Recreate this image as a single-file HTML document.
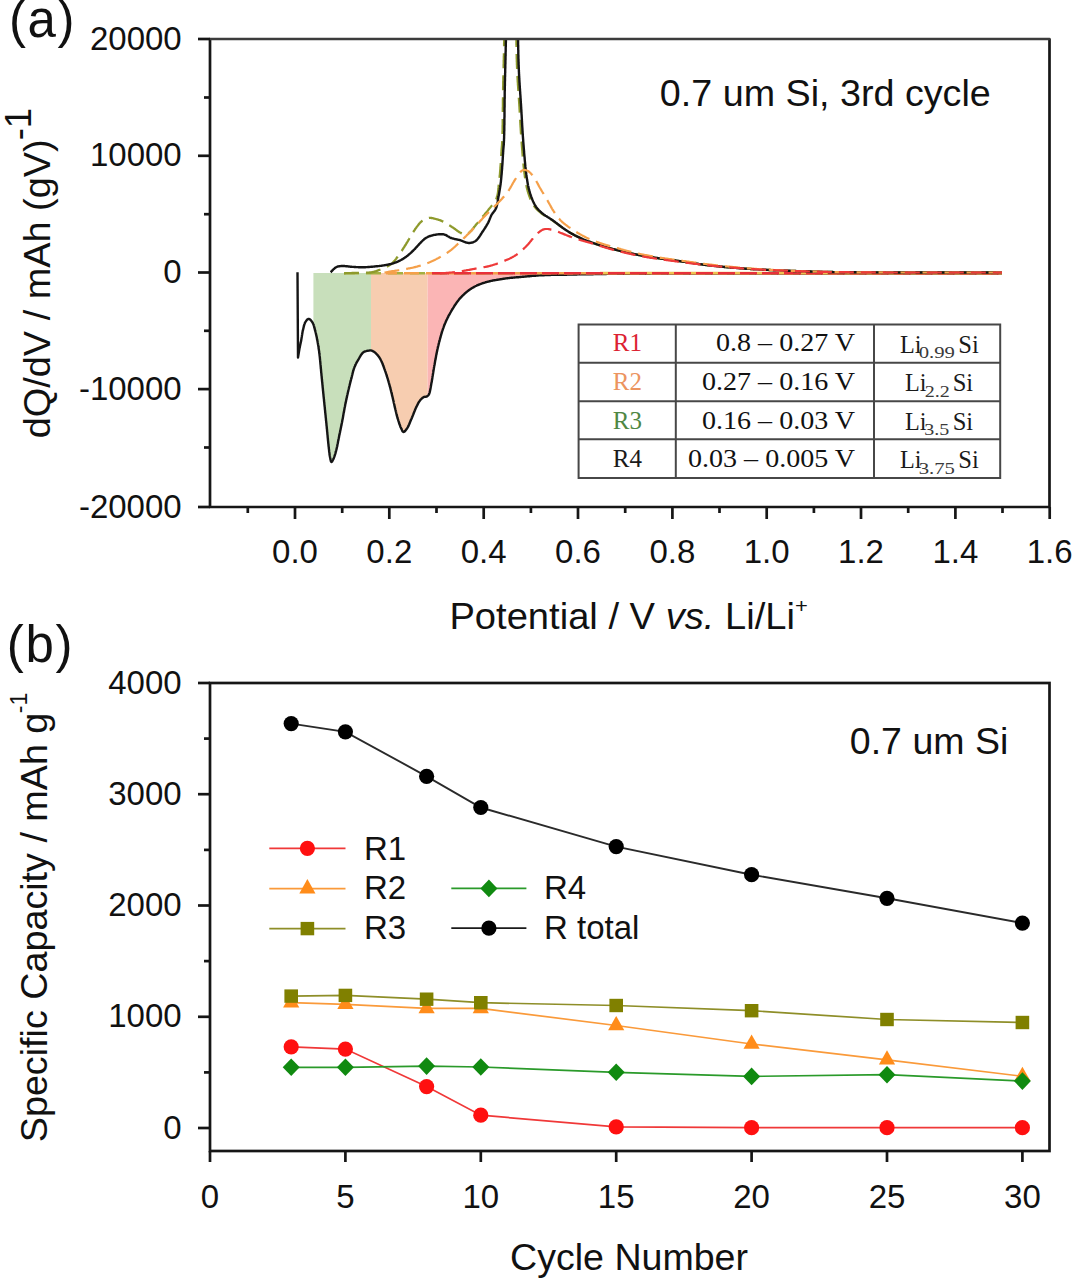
<!DOCTYPE html><html><head><meta charset="utf-8"><style>html,body{margin:0;padding:0;background:#fff;overflow:hidden;width:1072px;height:1280px;}svg{display:block;}</style></head><body><svg width="1072" height="1280" viewBox="0 0 1072 1280">
<rect width="1072" height="1280" fill="#fff"/>
<defs><clipPath id="ca"><rect x="210" y="39" width="839.5" height="468"/></clipPath><clipPath id="cb"><rect x="210" y="683" width="839.5" height="468"/></clipPath></defs>
<g clip-path="url(#ca)">
<path d="M313.4,273.0 L313.4,324.4 L313.5,324.5 L313.7,325.1 L313.8,325.6 L314.0,326.2 L314.2,326.8 L314.3,327.5 L314.5,328.1 L314.7,328.7 L314.8,329.4 L315.0,330.0 L315.1,330.5 L315.3,331.1 L315.4,331.6 L315.6,332.2 L315.7,332.8 L315.9,333.4 L316.0,334.0 L316.1,334.6 L316.3,335.2 L316.4,335.8 L316.5,336.4 L316.7,337.0 L316.8,337.6 L316.9,338.2 L317.0,338.8 L317.1,339.5 L317.3,340.1 L317.4,340.7 L317.5,341.3 L317.6,341.9 L317.7,342.5 L317.8,343.0 L317.9,343.6 L318.0,344.2 L318.1,344.7 L318.2,345.3 L318.3,345.9 L318.4,346.5 L318.5,347.1 L318.6,347.6 L318.6,348.2 L318.7,348.8 L318.8,349.4 L318.9,350.0 L319.0,350.6 L319.1,351.2 L319.2,351.9 L319.2,352.5 L319.3,353.1 L319.4,353.8 L319.5,354.3 L319.5,354.9 L319.6,355.5 L319.7,356.0 L319.7,356.6 L319.8,357.2 L319.9,357.8 L319.9,358.4 L320.0,358.9 L320.0,359.5 L320.1,360.2 L320.2,360.8 L320.2,361.4 L320.3,362.0 L320.3,362.6 L320.4,363.2 L320.4,363.8 L320.5,364.5 L320.6,365.1 L320.6,365.7 L320.7,366.3 L320.7,367.0 L320.8,367.6 L320.8,368.2 L320.9,368.8 L321.0,369.4 L321.0,370.1 L321.1,370.7 L321.1,371.3 L321.2,371.9 L321.2,372.5 L321.3,373.1 L321.4,373.7 L321.4,374.3 L321.5,374.9 L321.5,375.5 L321.6,376.1 L321.7,376.7 L321.7,377.3 L321.8,378.0 L321.8,378.6 L321.9,379.2 L322.0,379.8 L322.0,380.4 L322.1,381.0 L322.1,381.6 L322.2,382.2 L322.3,382.8 L322.3,383.4 L322.4,384.0 L322.4,384.6 L322.5,385.2 L322.6,385.8 L322.6,386.5 L322.7,387.1 L322.7,387.7 L322.8,388.3 L322.9,388.9 L322.9,389.5 L323.0,390.1 L323.0,390.7 L323.1,391.3 L323.2,391.9 L323.2,392.5 L323.3,393.1 L323.3,393.7 L323.4,394.3 L323.5,394.9 L323.5,395.5 L323.6,396.1 L323.6,396.7 L323.7,397.3 L323.8,397.9 L323.8,398.5 L323.9,399.1 L324.0,399.7 L324.0,400.3 L324.1,401.0 L324.1,401.6 L324.2,402.2 L324.3,402.8 L324.3,403.4 L324.4,404.0 L324.4,404.6 L324.5,405.2 L324.6,405.8 L324.6,406.4 L324.7,407.0 L324.8,407.6 L324.8,408.2 L324.9,408.8 L324.9,409.4 L325.0,410.0 L325.1,410.6 L325.1,411.2 L325.2,411.8 L325.2,412.4 L325.3,413.0 L325.4,413.6 L325.4,414.2 L325.5,414.8 L325.6,415.5 L325.6,416.1 L325.7,416.7 L325.7,417.3 L325.8,417.9 L325.9,418.5 L325.9,419.1 L326.0,419.7 L326.0,420.3 L326.1,420.9 L326.2,421.5 L326.2,422.1 L326.3,422.7 L326.4,423.3 L326.4,424.0 L326.5,424.6 L326.5,425.2 L326.6,425.8 L326.7,426.4 L326.7,427.0 L326.8,427.6 L326.8,428.2 L326.9,428.8 L327.0,429.4 L327.0,430.0 L327.1,430.6 L327.1,431.3 L327.2,431.9 L327.3,432.5 L327.3,433.1 L327.4,433.8 L327.4,434.4 L327.5,435.0 L327.6,435.7 L327.6,436.3 L327.7,436.9 L327.7,437.6 L327.8,438.2 L327.9,438.8 L327.9,439.5 L328.0,440.1 L328.0,440.7 L328.1,441.3 L328.2,441.9 L328.2,442.5 L328.3,443.1 L328.3,443.7 L328.4,444.2 L328.5,444.8 L328.5,445.4 L328.6,445.9 L328.6,446.5 L328.7,447.0 L328.8,447.5 L328.8,448.2 L328.9,448.9 L329.0,449.6 L329.1,450.3 L329.1,451.0 L329.2,451.7 L329.3,452.3 L329.4,452.9 L329.5,453.6 L329.5,454.2 L329.6,454.8 L329.7,455.4 L329.8,455.9 L329.9,456.5 L330.0,457.0 L330.1,457.5 L330.3,458.3 L330.4,459.2 L330.6,460.0 L330.8,460.8 L330.9,461.4 L331.2,461.8 L331.4,462.0 L331.7,461.9 L332.1,461.5 L332.5,460.9 L332.8,460.2 L333.2,459.5 L333.4,459.1 L333.6,458.6 L333.8,458.2 L334.0,457.6 L334.2,457.1 L334.4,456.5 L334.6,455.9 L334.8,455.3 L335.0,454.7 L335.2,454.1 L335.4,453.4 L335.6,452.8 L335.7,452.1 L335.9,451.5 L336.1,450.8 L336.2,450.3 L336.4,449.7 L336.5,449.2 L336.6,448.6 L336.8,448.1 L336.9,447.5 L337.0,446.9 L337.2,446.3 L337.3,445.7 L337.4,445.1 L337.5,444.5 L337.6,443.9 L337.8,443.3 L337.9,442.7 L338.0,442.1 L338.1,441.4 L338.2,440.8 L338.4,440.2 L338.5,439.6 L338.6,439.0 L338.7,438.3 L338.9,437.7 L339.0,437.1 L339.1,436.5 L339.2,435.9 L339.3,435.3 L339.5,434.7 L339.6,434.1 L339.7,433.5 L339.8,432.9 L340.0,432.3 L340.1,431.7 L340.2,431.1 L340.3,430.5 L340.5,429.9 L340.6,429.3 L340.7,428.7 L340.8,428.1 L341.0,427.4 L341.1,426.8 L341.2,426.2 L341.3,425.6 L341.5,425.0 L341.6,424.4 L341.7,423.8 L341.8,423.2 L342.0,422.5 L342.1,421.9 L342.2,421.3 L342.3,420.7 L342.4,420.1 L342.5,419.5 L342.7,418.9 L342.8,418.3 L342.9,417.7 L343.0,417.1 L343.1,416.5 L343.2,415.9 L343.3,415.3 L343.4,414.6 L343.5,414.0 L343.6,413.4 L343.7,412.8 L343.9,412.2 L344.0,411.6 L344.1,411.0 L344.2,410.4 L344.3,409.8 L344.4,409.2 L344.5,408.6 L344.6,408.0 L344.7,407.4 L344.9,406.8 L345.0,406.2 L345.1,405.6 L345.2,405.0 L345.3,404.4 L345.4,403.8 L345.6,403.2 L345.7,402.6 L345.8,402.0 L346.0,401.4 L346.1,400.7 L346.2,400.1 L346.3,399.6 L346.5,399.0 L346.6,398.4 L346.7,397.8 L346.9,397.2 L347.0,396.6 L347.1,396.0 L347.2,395.4 L347.4,394.8 L347.5,394.2 L347.6,393.7 L347.8,393.1 L347.9,392.5 L348.0,391.9 L348.2,391.4 L348.3,390.8 L348.4,390.2 L348.6,389.5 L348.7,388.9 L348.9,388.3 L349.0,387.7 L349.2,387.1 L349.3,386.4 L349.5,385.8 L349.6,385.2 L349.8,384.6 L349.9,384.0 L350.1,383.4 L350.2,382.8 L350.4,382.2 L350.5,381.6 L350.7,381.0 L350.8,380.4 L351.0,379.8 L351.1,379.2 L351.3,378.6 L351.5,378.0 L351.6,377.4 L351.8,376.8 L351.9,376.2 L352.1,375.6 L352.2,375.0 L352.4,374.3 L352.5,373.7 L352.7,373.1 L352.8,372.5 L353.0,371.9 L353.1,371.3 L353.3,370.8 L353.5,370.2 L353.6,369.6 L353.8,369.0 L354.0,368.5 L354.2,367.9 L354.4,367.4 L354.6,366.8 L354.9,366.2 L355.1,365.7 L355.4,365.1 L355.6,364.5 L355.9,364.0 L356.2,363.5 L356.4,362.9 L356.7,362.4 L357.0,361.9 L357.3,361.4 L357.6,360.8 L357.9,360.3 L358.2,359.8 L358.5,359.3 L358.8,358.8 L359.1,358.2 L359.5,357.6 L359.8,357.0 L360.1,356.5 L360.5,355.9 L360.8,355.3 L361.2,354.8 L361.6,354.3 L361.9,353.8 L362.3,353.3 L362.7,352.9 L363.1,352.5 L363.5,352.2 L364.1,351.8 L364.7,351.5 L365.4,351.3 L366.1,351.1 L366.7,350.9 L367.4,350.8 L368.0,350.7 L368.6,350.6 L369.3,350.5 L369.9,350.4 L370.5,350.4 L371.0,350.5 L371.0,273.0Z" fill="#c8dfbb"/>
<path d="M371.0,273.0 L371.0,350.5 L371.1,350.5 L371.7,350.6 L372.3,350.8 L372.8,351.1 L373.4,351.4 L374.0,351.8 L374.6,352.2 L375.1,352.7 L375.7,353.2 L376.1,353.6 L376.5,354.0 L376.9,354.4 L377.3,354.8 L377.7,355.3 L378.1,355.8 L378.5,356.2 L378.8,356.8 L379.2,357.3 L379.6,357.8 L379.9,358.4 L380.3,359.0 L380.6,359.5 L380.8,360.0 L381.1,360.5 L381.3,361.0 L381.6,361.5 L381.8,362.1 L382.1,362.6 L382.3,363.2 L382.5,363.8 L382.8,364.4 L383.0,365.0 L383.2,365.6 L383.5,366.2 L383.7,366.8 L383.9,367.4 L384.1,368.0 L384.3,368.7 L384.6,369.3 L384.8,369.9 L385.0,370.5 L385.2,371.1 L385.4,371.6 L385.6,372.2 L385.8,372.8 L386.0,373.4 L386.2,373.9 L386.4,374.5 L386.6,375.1 L386.7,375.7 L386.9,376.3 L387.1,376.9 L387.3,377.5 L387.5,378.1 L387.7,378.7 L387.9,379.3 L388.0,379.9 L388.2,380.5 L388.4,381.1 L388.6,381.7 L388.7,382.3 L388.9,382.9 L389.1,383.5 L389.2,384.1 L389.4,384.7 L389.6,385.3 L389.7,385.9 L389.9,386.5 L390.1,387.1 L390.2,387.7 L390.4,388.3 L390.5,388.9 L390.7,389.5 L390.8,390.1 L391.0,390.7 L391.1,391.3 L391.3,391.9 L391.4,392.5 L391.6,393.1 L391.7,393.7 L391.9,394.3 L392.0,394.9 L392.1,395.5 L392.3,396.0 L392.4,396.6 L392.6,397.2 L392.7,397.8 L392.8,398.4 L393.0,399.0 L393.1,399.7 L393.3,400.3 L393.4,400.9 L393.6,401.5 L393.7,402.2 L393.8,402.8 L394.0,403.4 L394.1,404.0 L394.3,404.7 L394.4,405.3 L394.5,405.9 L394.7,406.5 L394.8,407.1 L394.9,407.7 L395.1,408.3 L395.2,408.9 L395.4,409.4 L395.5,410.0 L395.7,410.7 L395.8,411.3 L396.0,411.9 L396.1,412.5 L396.3,413.2 L396.4,413.8 L396.6,414.4 L396.7,415.0 L396.9,415.6 L397.0,416.2 L397.2,416.8 L397.4,417.4 L397.5,418.0 L397.7,418.6 L397.9,419.2 L398.1,419.8 L398.3,420.4 L398.5,421.1 L398.7,421.7 L398.9,422.3 L399.1,423.0 L399.3,423.6 L399.5,424.3 L399.8,424.9 L400.0,425.5 L400.2,426.1 L400.4,426.7 L400.6,427.2 L400.9,427.8 L401.1,428.2 L401.3,428.7 L401.7,429.4 L402.0,430.2 L402.3,430.9 L402.7,431.4 L403.1,431.8 L403.5,432.0 L403.9,431.9 L404.3,431.7 L404.8,431.3 L405.2,430.9 L405.7,430.3 L406.1,429.7 L406.6,429.1 L407.0,428.5 L407.3,428.1 L407.5,427.6 L407.8,427.2 L408.1,426.7 L408.3,426.2 L408.6,425.6 L408.8,425.1 L409.1,424.5 L409.3,424.0 L409.6,423.4 L409.8,422.8 L410.0,422.2 L410.3,421.6 L410.5,421.0 L410.8,420.4 L411.0,419.8 L411.3,419.2 L411.5,418.7 L411.8,418.1 L412.0,417.6 L412.2,417.0 L412.5,416.4 L412.7,415.9 L412.9,415.3 L413.2,414.7 L413.4,414.1 L413.6,413.5 L413.9,412.9 L414.1,412.3 L414.3,411.7 L414.6,411.1 L414.8,410.6 L415.0,410.0 L415.3,409.4 L415.5,408.9 L415.7,408.4 L415.9,407.9 L416.2,407.4 L416.4,406.9 L416.7,406.3 L417.0,405.7 L417.3,405.1 L417.6,404.5 L417.9,403.9 L418.2,403.4 L418.4,402.9 L418.7,402.4 L419.0,401.9 L419.3,401.4 L419.7,400.9 L420.0,400.5 L420.4,400.0 L420.8,399.5 L421.3,399.0 L421.7,398.6 L422.2,398.2 L422.7,397.8 L423.1,397.5 L423.6,397.2 L424.3,396.9 L425.0,396.8 L425.7,396.8 L426.4,396.6 L427.0,396.4 L427.6,396.0 L427.6,396.0 L427.6,273.0Z" fill="#f7cdb0"/>
<path d="M427.6,273.0 L427.6,396.0 L428.1,395.5 L428.6,394.9 L429.0,394.2 L429.2,393.7 L429.4,393.2 L429.6,392.6 L429.8,391.9 L429.9,391.3 L430.1,390.6 L430.2,389.9 L430.4,389.2 L430.5,388.5 L430.6,388.0 L430.7,387.4 L430.8,386.8 L430.9,386.3 L431.0,385.7 L431.1,385.1 L431.2,384.5 L431.3,383.9 L431.4,383.3 L431.5,382.7 L431.7,382.1 L431.8,381.4 L431.9,380.7 L432.0,380.0 L432.1,379.5 L432.2,379.0 L432.3,378.5 L432.3,377.9 L432.4,377.4 L432.5,376.8 L432.6,376.2 L432.7,375.7 L432.8,375.1 L432.9,374.5 L433.0,373.9 L433.1,373.3 L433.2,372.7 L433.3,372.0 L433.4,371.4 L433.5,370.8 L433.6,370.1 L433.7,369.5 L433.8,368.9 L433.9,368.2 L434.0,367.6 L434.1,367.0 L434.2,366.3 L434.3,365.7 L434.5,365.1 L434.6,364.5 L434.7,363.8 L434.8,363.2 L434.9,362.6 L435.0,362.0 L435.1,361.4 L435.2,360.8 L435.3,360.2 L435.4,359.6 L435.6,359.0 L435.7,358.4 L435.8,357.8 L435.9,357.2 L436.0,356.6 L436.1,356.0 L436.2,355.4 L436.3,354.8 L436.5,354.2 L436.6,353.6 L436.7,353.0 L436.8,352.4 L436.9,351.8 L437.1,351.2 L437.2,350.6 L437.3,350.0 L437.4,349.4 L437.6,348.8 L437.7,348.2 L437.8,347.6 L438.0,347.0 L438.1,346.4 L438.3,345.8 L438.4,345.2 L438.6,344.6 L438.7,344.0 L438.8,343.4 L439.0,342.8 L439.1,342.2 L439.3,341.6 L439.5,341.0 L439.6,340.4 L439.8,339.8 L439.9,339.3 L440.1,338.7 L440.2,338.1 L440.4,337.5 L440.6,336.9 L440.7,336.3 L440.9,335.7 L441.1,335.1 L441.2,334.5 L441.4,333.9 L441.6,333.3 L441.8,332.7 L441.9,332.1 L442.1,331.5 L442.3,330.9 L442.5,330.4 L442.7,329.8 L442.9,329.2 L443.1,328.6 L443.3,328.1 L443.5,327.5 L443.7,326.9 L443.9,326.4 L444.1,325.8 L444.3,325.3 L444.5,324.7 L444.8,324.1 L445.0,323.5 L445.3,323.0 L445.5,322.4 L445.8,321.8 L446.0,321.2 L446.3,320.7 L446.5,320.1 L446.8,319.5 L447.1,319.0 L447.3,318.4 L447.6,317.9 L447.9,317.3 L448.2,316.8 L448.4,316.2 L448.7,315.7 L449.0,315.2 L449.3,314.6 L449.6,314.1 L449.9,313.6 L450.2,313.0 L450.5,312.5 L450.8,312.0 L451.1,311.4 L451.4,310.9 L451.7,310.4 L452.0,309.9 L452.3,309.3 L452.7,308.8 L453.0,308.3 L453.3,307.7 L453.7,307.2 L454.0,306.7 L454.3,306.1 L454.7,305.6 L455.0,305.1 L455.4,304.6 L455.7,304.1 L456.1,303.5 L456.4,303.0 L456.8,302.5 L457.1,302.0 L457.5,301.5 L457.9,301.0 L458.3,300.5 L458.6,300.1 L459.0,299.6 L459.4,299.1 L459.8,298.6 L460.2,298.2 L460.6,297.7 L461.0,297.3 L461.4,296.9 L461.8,296.4 L462.3,296.0 L462.7,295.5 L463.1,295.1 L463.6,294.7 L464.0,294.3 L464.5,293.8 L464.9,293.4 L465.4,293.0 L465.9,292.6 L466.3,292.2 L466.8,291.8 L467.3,291.5 L467.7,291.1 L468.2,290.7 L468.7,290.4 L469.2,290.0 L469.7,289.6 L470.2,289.3 L470.7,289.0 L471.2,288.6 L471.7,288.3 L472.2,288.0 L472.7,287.7 L473.3,287.4 L473.8,287.1 L474.3,286.8 L474.9,286.5 L475.4,286.2 L475.9,286.0 L476.5,285.7 L477.0,285.4 L477.6,285.2 L478.2,285.0 L478.7,284.7 L479.3,284.5 L479.9,284.3 L480.5,284.0 L481.0,283.8 L481.6,283.6 L482.2,283.4 L482.8,283.2 L483.4,283.0 L484.1,282.8 L484.7,282.6 L485.3,282.4 L485.8,282.2 L486.4,282.1 L487.0,281.9 L487.5,281.8 L488.1,281.6 L488.7,281.5 L489.3,281.3 L489.9,281.2 L490.4,281.1 L491.0,280.9 L491.7,280.8 L492.3,280.7 L492.9,280.5 L493.5,280.4 L494.1,280.3 L494.7,280.2 L495.3,280.1 L496.0,280.0 L496.6,279.9 L497.2,279.8 L497.8,279.7 L498.5,279.6 L499.1,279.5 L499.7,279.4 L500.3,279.3 L500.9,279.2 L501.6,279.1 L502.2,279.0 L502.8,278.9 L503.4,278.8 L504.0,278.7 L504.6,278.6 L505.2,278.5 L505.8,278.4 L506.4,278.4 L507.0,278.3 L507.6,278.2 L508.2,278.1 L508.8,278.1 L509.4,278.0 L510.0,277.9 L510.6,277.9 L511.2,277.8 L511.8,277.8 L512.4,277.7 L513.0,277.6 L513.6,277.6 L514.2,277.5 L514.8,277.5 L515.4,277.4 L516.0,277.4 L516.6,277.3 L517.2,277.3 L517.8,277.2 L518.4,277.2 L519.0,277.1 L519.6,277.1 L520.2,277.0 L520.8,277.0 L521.4,276.9 L522.0,276.9 L522.6,276.8 L523.2,276.7 L523.8,276.7 L524.4,276.6 L525.0,276.6 L525.6,276.5 L526.2,276.5 L526.7,276.4 L527.3,276.4 L527.9,276.3 L528.5,276.3 L529.1,276.2 L529.7,276.2 L530.2,276.1 L530.8,276.0 L531.4,276.0 L532.0,275.9 L532.6,275.9 L533.2,275.8 L533.8,275.8 L534.4,275.8 L535.0,275.7 L535.6,275.7 L536.2,275.6 L536.8,275.6 L537.4,275.5 L538.1,275.5 L538.7,275.4 L539.3,275.4 L540.0,275.4 L540.6,275.3 L541.3,275.3 L541.8,275.3 L542.4,275.2 L542.9,275.2 L543.5,275.2 L544.1,275.2 L544.6,275.1 L545.2,275.1 L545.7,275.1 L546.3,275.1 L546.9,275.1 L547.4,275.0 L548.0,275.0 L548.6,275.0 L549.1,275.0 L549.7,275.0 L550.3,275.0 L550.9,274.9 L551.5,274.9 L552.0,274.9 L552.6,274.9 L553.2,274.9 L553.8,274.9 L554.4,274.9 L555.0,274.9 L555.6,274.8 L556.3,274.8 L556.9,274.8 L557.5,274.8 L558.1,274.8 L558.7,274.8 L559.4,274.8 L560.0,274.8 L560.6,274.8 L561.3,274.7 L561.9,274.7 L562.6,274.7 L563.2,274.7 L563.9,274.7 L564.5,274.7 L565.2,274.7 L565.9,274.7 L566.5,274.7 L567.2,274.6 L567.9,274.6 L568.6,274.6 L569.3,274.6 L569.8,274.6 L570.3,274.6 L570.9,274.6 L571.4,274.6 L571.9,274.5 L572.4,274.5 L573.0,274.5 L573.5,274.5 L574.0,274.5 L574.6,274.5 L575.1,274.5 L575.7,274.5 L576.2,274.5 L576.8,274.5 L577.3,274.4 L577.9,274.4 L578.4,274.4 L579.0,274.4 L579.5,274.4 L580.1,274.4 L580.7,274.4 L581.2,274.4 L581.8,274.4 L582.4,274.3 L582.9,274.3 L583.5,274.3 L584.1,274.3 L584.7,274.3 L585.2,274.3 L585.8,274.3 L586.4,274.3 L587.0,274.3 L587.6,274.2 L588.2,274.2 L588.8,274.2 L589.4,274.2 L590.0,274.2 L590.6,274.2 L591.2,274.2 L591.8,274.2 L592.4,274.2 L593.0,274.2 L593.6,274.1 L594.2,274.1 L594.8,274.1 L595.4,274.1 L596.1,274.1 L596.7,274.1 L597.3,274.1 L597.9,274.1 L598.5,274.1 L599.2,274.1 L599.8,274.0 L600.4,274.0 L601.1,274.0 L601.7,274.0 L602.3,274.0 L603.0,274.0 L603.6,274.0 L604.2,274.0 L604.9,274.0 L605.5,274.0 L606.2,274.0 L606.8,273.9 L607.5,273.9 L608.1,273.9 L608.8,273.9 L609.4,273.9 L610.1,273.9 L610.7,273.9 L611.4,273.9 L612.0,273.9 L612.7,273.9 L613.3,273.9 L614.0,273.9 L614.7,273.9 L615.3,273.8 L616.0,273.8 L616.7,273.8 L617.3,273.8 L618.0,273.8 L618.7,273.8 L619.3,273.8 L620.0,273.8 L620.5,273.8 L621.1,273.8 L621.6,273.8 L622.1,273.8 L622.7,273.8 L623.2,273.8 L623.8,273.8 L624.3,273.8 L624.9,273.8 L625.4,273.8 L626.0,273.8 L626.5,273.7 L627.1,273.7 L627.6,273.7 L628.2,273.7 L628.7,273.7 L629.3,273.7 L629.8,273.7 L630.4,273.7 L631.0,273.7 L631.5,273.7 L632.1,273.7 L632.6,273.7 L633.2,273.7 L633.8,273.7 L634.4,273.7 L634.9,273.7 L635.5,273.7 L636.1,273.7 L636.6,273.7 L637.2,273.7 L637.8,273.7 L638.4,273.7 L638.9,273.7 L639.5,273.7 L640.1,273.7 L640.7,273.7 L641.3,273.7 L641.9,273.7 L642.4,273.7 L643.0,273.7 L643.6,273.7 L644.2,273.7 L644.8,273.7 L645.4,273.7 L646.0,273.7 L646.6,273.7 L647.2,273.7 L647.8,273.7 L648.4,273.7 L648.9,273.7 L649.5,273.7 L650.1,273.7 L650.7,273.6 L651.3,273.6 L651.9,273.6 L652.5,273.6 L653.1,273.6 L653.8,273.6 L654.4,273.6 L655.0,273.6 L655.6,273.6 L656.2,273.6 L656.8,273.6 L657.4,273.6 L658.0,273.6 L658.6,273.6 L659.2,273.6 L659.8,273.6 L660.4,273.6 L661.1,273.6 L661.7,273.6 L662.3,273.6 L662.9,273.6 L663.5,273.6 L664.1,273.6 L664.8,273.6 L665.4,273.6 L666.0,273.6 L666.6,273.6 L667.2,273.6 L667.8,273.6 L668.5,273.6 L669.1,273.6 L669.7,273.6 L670.3,273.6 L671.0,273.6 L671.6,273.6 L672.2,273.6 L672.8,273.6 L673.5,273.6 L674.1,273.6 L674.7,273.6 L675.3,273.6 L676.0,273.6 L676.6,273.6 L677.2,273.6 L677.8,273.6 L678.5,273.6 L679.1,273.6 L679.7,273.6 L680.4,273.6 L681.0,273.6 L681.6,273.6 L682.3,273.6 L682.9,273.6 L683.5,273.6 L684.1,273.6 L684.8,273.6 L685.4,273.6 L686.0,273.6 L686.7,273.6 L687.3,273.6 L687.9,273.6 L688.6,273.6 L689.2,273.6 L689.8,273.6 L690.5,273.6 L691.1,273.6 L691.7,273.6 L692.4,273.6 L693.0,273.6 L693.7,273.6 L694.3,273.6 L694.9,273.6 L695.6,273.6 L696.2,273.6 L696.8,273.6 L697.5,273.6 L698.1,273.6 L698.7,273.6 L699.4,273.6 L700.0,273.6 L700.6,273.6 L701.1,273.6 L701.7,273.6 L702.3,273.6 L702.8,273.6 L703.4,273.6 L704.0,273.6 L704.5,273.6 L705.1,273.6 L705.7,273.6 L706.2,273.6 L706.8,273.6 L707.4,273.6 L707.9,273.6 L708.5,273.6 L709.1,273.6 L709.6,273.6 L710.2,273.6 L710.7,273.6 L711.3,273.6 L711.9,273.6 L712.4,273.6 L713.0,273.6 L713.6,273.6 L714.1,273.6 L714.7,273.6 L715.2,273.6 L715.8,273.6 L716.4,273.6 L716.9,273.6 L717.5,273.6 L718.1,273.6 L718.6,273.6 L719.2,273.6 L719.7,273.6 L720.3,273.6 L720.9,273.6 L721.4,273.6 L722.0,273.6 L722.6,273.6 L723.1,273.6 L723.7,273.6 L724.2,273.6 L724.8,273.6 L725.4,273.6 L725.9,273.6 L726.5,273.6 L727.1,273.6 L727.6,273.6 L728.2,273.6 L728.8,273.6 L729.3,273.6 L729.9,273.6 L730.5,273.6 L731.0,273.6 L731.6,273.6 L732.2,273.6 L732.7,273.6 L733.3,273.6 L733.9,273.6 L734.4,273.6 L735.0,273.5 L735.6,273.5 L736.2,273.5 L736.7,273.5 L737.3,273.5 L737.9,273.5 L738.4,273.5 L739.0,273.5 L739.6,273.5 L740.2,273.5 L740.7,273.5 L741.3,273.5 L741.9,273.5 L742.5,273.5 L743.1,273.5 L743.6,273.5 L744.2,273.5 L744.8,273.5 L745.4,273.5 L746.0,273.5 L746.5,273.5 L747.1,273.5 L747.7,273.5 L748.3,273.5 L748.9,273.5 L749.5,273.5 L750.1,273.5 L750.7,273.5 L751.2,273.5 L751.8,273.5 L752.4,273.5 L753.0,273.5 L753.6,273.5 L754.2,273.5 L754.8,273.5 L755.4,273.5 L756.0,273.5 L756.6,273.5 L757.2,273.5 L757.8,273.5 L758.4,273.5 L759.0,273.5 L759.6,273.5 L760.2,273.5 L760.8,273.5 L761.4,273.5 L762.0,273.5 L762.7,273.5 L763.3,273.5 L763.9,273.5 L764.5,273.5 L765.1,273.5 L765.7,273.5 L766.3,273.5 L767.0,273.5 L767.6,273.5 L768.2,273.5 L768.8,273.5 L769.5,273.5 L770.1,273.5 L770.7,273.5 L771.3,273.5 L772.0,273.5 L772.6,273.5 L773.2,273.5 L773.9,273.5 L774.5,273.5 L775.2,273.5 L775.8,273.5 L776.4,273.5 L777.1,273.5 L777.7,273.5 L778.4,273.5 L779.0,273.5 L779.7,273.5 L780.3,273.5 L781.0,273.5 L781.6,273.5 L782.3,273.5 L782.9,273.5 L783.6,273.5 L784.3,273.5 L784.9,273.5 L785.6,273.5 L786.3,273.5 L786.9,273.5 L787.6,273.5 L788.3,273.5 L788.9,273.5 L789.6,273.5 L790.3,273.5 L791.0,273.5 L791.7,273.5 L792.3,273.5 L793.0,273.5 L793.7,273.5 L794.4,273.5 L795.1,273.5 L795.8,273.5 L796.5,273.5 L797.2,273.5 L797.9,273.5 L798.6,273.5 L799.3,273.5 L800.0,273.5 L800.5,273.5 L801.0,273.5 L801.5,273.5 L802.0,273.5 L802.5,273.5 L803.0,273.5 L803.5,273.5 L804.0,273.5 L804.5,273.5 L805.0,273.5 L805.5,273.5 L806.0,273.5 L806.6,273.5 L807.1,273.5 L807.6,273.5 L808.1,273.5 L808.6,273.5 L809.1,273.5 L809.7,273.5 L810.2,273.5 L810.7,273.5 L811.2,273.5 L811.7,273.5 L812.3,273.5 L812.8,273.5 L813.3,273.5 L813.8,273.5 L814.4,273.5 L814.9,273.5 L815.4,273.5 L816.0,273.5 L816.5,273.5 L817.0,273.5 L817.6,273.5 L818.1,273.5 L818.6,273.5 L819.2,273.5 L819.7,273.5 L820.3,273.5 L820.8,273.5 L821.3,273.5 L821.9,273.5 L822.4,273.5 L823.0,273.5 L823.5,273.5 L824.1,273.5 L824.6,273.5 L825.2,273.5 L825.7,273.5 L826.3,273.5 L826.8,273.5 L827.4,273.5 L827.9,273.5 L828.5,273.5 L829.0,273.5 L829.6,273.5 L830.2,273.5 L830.7,273.5 L831.3,273.5 L831.8,273.5 L832.4,273.5 L833.0,273.5 L833.5,273.5 L834.1,273.5 L834.7,273.5 L835.2,273.5 L835.8,273.5 L836.4,273.5 L836.9,273.5 L837.5,273.5 L838.1,273.5 L838.6,273.5 L839.2,273.5 L839.8,273.5 L840.4,273.5 L840.9,273.5 L841.5,273.5 L842.1,273.5 L842.7,273.5 L843.2,273.5 L843.8,273.5 L844.4,273.5 L845.0,273.5 L845.6,273.5 L846.1,273.5 L846.7,273.5 L847.3,273.5 L847.9,273.5 L848.5,273.5 L849.1,273.5 L849.6,273.5 L850.2,273.5 L850.8,273.5 L851.4,273.5 L852.0,273.5 L852.6,273.5 L853.2,273.5 L853.8,273.5 L854.4,273.5 L855.0,273.5 L855.6,273.5 L856.1,273.5 L856.7,273.5 L857.3,273.5 L857.9,273.5 L858.5,273.5 L859.1,273.5 L859.7,273.5 L860.3,273.5 L860.9,273.5 L861.5,273.5 L862.1,273.5 L862.7,273.5 L863.3,273.5 L863.9,273.5 L864.5,273.5 L865.1,273.5 L865.7,273.5 L866.3,273.5 L867.0,273.5 L867.6,273.5 L868.2,273.5 L868.8,273.5 L869.4,273.5 L870.0,273.5 L870.6,273.5 L871.2,273.5 L871.8,273.5 L872.4,273.5 L873.0,273.5 L873.7,273.5 L874.3,273.5 L874.9,273.5 L875.5,273.5 L876.1,273.5 L876.7,273.5 L877.3,273.5 L878.0,273.5 L878.6,273.5 L879.2,273.5 L879.8,273.5 L880.4,273.5 L881.0,273.5 L881.7,273.5 L882.3,273.5 L882.9,273.5 L883.5,273.5 L884.1,273.5 L884.7,273.5 L885.4,273.5 L886.0,273.5 L886.6,273.5 L887.2,273.5 L887.9,273.5 L888.5,273.5 L889.1,273.5 L889.7,273.5 L890.3,273.5 L891.0,273.5 L891.6,273.5 L892.2,273.5 L892.8,273.5 L893.5,273.5 L894.1,273.5 L894.7,273.5 L895.4,273.5 L896.0,273.5 L896.6,273.5 L897.2,273.5 L897.9,273.5 L898.5,273.5 L899.1,273.5 L899.7,273.5 L900.4,273.5 L901.0,273.5 L901.6,273.5 L902.3,273.5 L902.9,273.5 L903.5,273.5 L904.2,273.5 L904.8,273.5 L905.4,273.5 L906.0,273.5 L906.7,273.5 L907.3,273.5 L907.9,273.5 L908.6,273.5 L909.2,273.5 L909.8,273.5 L910.5,273.5 L911.1,273.5 L911.7,273.5 L912.4,273.5 L913.0,273.5 L913.6,273.5 L914.3,273.5 L914.9,273.5 L915.5,273.5 L916.2,273.5 L916.8,273.5 L917.4,273.5 L918.1,273.5 L918.7,273.5 L919.3,273.5 L920.0,273.5 L920.6,273.5 L921.3,273.5 L921.9,273.5 L922.5,273.5 L923.2,273.5 L923.8,273.5 L924.4,273.5 L925.1,273.5 L925.7,273.5 L926.3,273.5 L927.0,273.5 L927.6,273.5 L928.2,273.5 L928.9,273.5 L929.5,273.5 L930.2,273.5 L930.8,273.5 L931.4,273.5 L932.1,273.5 L932.7,273.5 L933.3,273.5 L934.0,273.5 L934.6,273.5 L935.2,273.5 L935.9,273.5 L936.5,273.5 L937.2,273.5 L937.8,273.5 L938.4,273.5 L939.1,273.5 L939.7,273.5 L940.3,273.5 L941.0,273.5 L941.6,273.5 L942.2,273.5 L942.9,273.5 L943.5,273.5 L944.1,273.5 L944.8,273.5 L945.4,273.5 L946.0,273.5 L946.7,273.5 L947.3,273.5 L948.0,273.5 L948.6,273.5 L949.2,273.5 L949.9,273.5 L950.5,273.5 L951.1,273.5 L951.8,273.5 L952.4,273.5 L953.0,273.5 L953.7,273.5 L954.3,273.5 L954.9,273.5 L955.6,273.5 L956.2,273.5 L956.8,273.5 L957.4,273.5 L958.1,273.5 L958.7,273.5 L959.3,273.5 L960.0,273.5 L960.6,273.5 L961.2,273.5 L961.9,273.5 L962.5,273.5 L963.1,273.5 L963.8,273.5 L964.4,273.5 L965.0,273.5 L965.6,273.5 L966.3,273.5 L966.9,273.5 L967.5,273.5 L968.1,273.5 L968.8,273.5 L969.4,273.5 L970.0,273.5 L970.7,273.5 L971.3,273.5 L971.9,273.5 L972.5,273.5 L973.2,273.5 L973.8,273.5 L974.4,273.5 L975.0,273.5 L975.6,273.5 L976.3,273.5 L976.9,273.5 L977.5,273.5 L978.1,273.5 L978.8,273.5 L979.4,273.5 L980.0,273.5 L980.6,273.5 L981.2,273.5 L981.9,273.5 L982.5,273.5 L983.1,273.5 L983.7,273.5 L984.3,273.5 L984.9,273.5 L985.6,273.5 L986.2,273.5 L986.8,273.5 L987.4,273.5 L988.0,273.5 L988.6,273.5 L989.2,273.5 L989.9,273.5 L990.5,273.5 L991.1,273.5 L991.7,273.5 L992.3,273.5 L992.9,273.5 L993.5,273.5 L994.1,273.5 L994.7,273.5 L995.4,273.5 L996.0,273.5 L996.6,273.5 L997.2,273.5 L997.8,273.5 L998.4,273.5 L999.0,273.5 L999.6,273.5 L1000.2,273.5 L1000.8,273.5 L1001.4,273.5 L1002.0,273.5 L1002.0,273.0Z" fill="#fbb5b5"/>
<path d="M297.5,272.3 L298,357.5 298.0,357.5 L298.1,356.9 L298.2,356.3 L298.3,355.7 L298.4,355.1 L298.5,354.5 L298.6,353.9 L298.7,353.3 L298.8,352.7 L298.9,352.1 L299.0,351.5 L299.1,350.9 L299.2,350.3 L299.3,349.7 L299.4,349.1 L299.5,348.5 L299.6,347.9 L299.8,347.3 L299.9,346.6 L300.0,346.0 L300.1,345.4 L300.3,344.8 L300.4,344.1 L300.5,343.5 L300.7,342.9 L300.8,342.3 L300.9,341.6 L301.1,341.0 L301.2,340.3 L301.3,339.7 L301.4,339.1 L301.5,338.5 L301.6,337.9 L301.7,337.3 L301.8,336.7 L301.9,336.0 L302.0,335.4 L302.1,334.8 L302.2,334.2 L302.3,333.5 L302.4,332.9 L302.5,332.3 L302.6,331.7 L302.7,331.1 L302.8,330.5 L303.0,330.0 L303.1,329.4 L303.3,328.8 L303.4,328.1 L303.6,327.5 L303.7,326.9 L303.9,326.2 L304.0,325.6 L304.2,325.0 L304.4,324.4 L304.6,323.9 L304.8,323.3 L305.0,322.8 L305.2,322.3 L305.5,321.9 L305.9,321.3 L306.3,320.7 L306.8,320.1 L307.2,319.6 L307.7,319.3 L308.2,319.0 L308.7,318.9 L309.2,319.0 L309.7,319.2 L310.2,319.6 L310.7,320.1 L311.2,320.7 L311.7,321.3 L312.1,321.9 L312.5,322.5 L312.8,323.0 L313.0,323.5 L313.2,324.0 L313.5,324.5 L313.7,325.1 L313.8,325.6 L314.0,326.2 L314.2,326.8 L314.3,327.5 L314.5,328.1 L314.7,328.7 L314.8,329.4 L315.0,330.0 L315.1,330.5 L315.3,331.1 L315.4,331.6 L315.6,332.2 L315.7,332.8 L315.9,333.4 L316.0,334.0 L316.1,334.6 L316.3,335.2 L316.4,335.8 L316.5,336.4 L316.7,337.0 L316.8,337.6 L316.9,338.2 L317.0,338.8 L317.1,339.5 L317.3,340.1 L317.4,340.7 L317.5,341.3 L317.6,341.9 L317.7,342.5 L317.8,343.0 L317.9,343.6 L318.0,344.2 L318.1,344.7 L318.2,345.3 L318.3,345.9 L318.4,346.5 L318.5,347.1 L318.6,347.6 L318.6,348.2 L318.7,348.8 L318.8,349.4 L318.9,350.0 L319.0,350.6 L319.1,351.2 L319.2,351.9 L319.2,352.5 L319.3,353.1 L319.4,353.8 L319.5,354.3 L319.5,354.9 L319.6,355.5 L319.7,356.0 L319.7,356.6 L319.8,357.2 L319.9,357.8 L319.9,358.4 L320.0,358.9 L320.0,359.5 L320.1,360.2 L320.2,360.8 L320.2,361.4 L320.3,362.0 L320.3,362.6 L320.4,363.2 L320.4,363.8 L320.5,364.5 L320.6,365.1 L320.6,365.7 L320.7,366.3 L320.7,367.0 L320.8,367.6 L320.8,368.2 L320.9,368.8 L321.0,369.4 L321.0,370.1 L321.1,370.7 L321.1,371.3 L321.2,371.9 L321.2,372.5 L321.3,373.1 L321.4,373.7 L321.4,374.3 L321.5,374.9 L321.5,375.5 L321.6,376.1 L321.7,376.7 L321.7,377.3 L321.8,378.0 L321.8,378.6 L321.9,379.2 L322.0,379.8 L322.0,380.4 L322.1,381.0 L322.1,381.6 L322.2,382.2 L322.3,382.8 L322.3,383.4 L322.4,384.0 L322.4,384.6 L322.5,385.2 L322.6,385.8 L322.6,386.5 L322.7,387.1 L322.7,387.7 L322.8,388.3 L322.9,388.9 L322.9,389.5 L323.0,390.1 L323.0,390.7 L323.1,391.3 L323.2,391.9 L323.2,392.5 L323.3,393.1 L323.3,393.7 L323.4,394.3 L323.5,394.9 L323.5,395.5 L323.6,396.1 L323.6,396.7 L323.7,397.3 L323.8,397.9 L323.8,398.5 L323.9,399.1 L324.0,399.7 L324.0,400.3 L324.1,401.0 L324.1,401.6 L324.2,402.2 L324.3,402.8 L324.3,403.4 L324.4,404.0 L324.4,404.6 L324.5,405.2 L324.6,405.8 L324.6,406.4 L324.7,407.0 L324.8,407.6 L324.8,408.2 L324.9,408.8 L324.9,409.4 L325.0,410.0 L325.1,410.6 L325.1,411.2 L325.2,411.8 L325.2,412.4 L325.3,413.0 L325.4,413.6 L325.4,414.2 L325.5,414.8 L325.6,415.5 L325.6,416.1 L325.7,416.7 L325.7,417.3 L325.8,417.9 L325.9,418.5 L325.9,419.1 L326.0,419.7 L326.0,420.3 L326.1,420.9 L326.2,421.5 L326.2,422.1 L326.3,422.7 L326.4,423.3 L326.4,424.0 L326.5,424.6 L326.5,425.2 L326.6,425.8 L326.7,426.4 L326.7,427.0 L326.8,427.6 L326.8,428.2 L326.9,428.8 L327.0,429.4 L327.0,430.0 L327.1,430.6 L327.1,431.3 L327.2,431.9 L327.3,432.5 L327.3,433.1 L327.4,433.8 L327.4,434.4 L327.5,435.0 L327.6,435.7 L327.6,436.3 L327.7,436.9 L327.7,437.6 L327.8,438.2 L327.9,438.8 L327.9,439.5 L328.0,440.1 L328.0,440.7 L328.1,441.3 L328.2,441.9 L328.2,442.5 L328.3,443.1 L328.3,443.7 L328.4,444.2 L328.5,444.8 L328.5,445.4 L328.6,445.9 L328.6,446.5 L328.7,447.0 L328.8,447.5 L328.8,448.2 L328.9,448.9 L329.0,449.6 L329.1,450.3 L329.1,451.0 L329.2,451.7 L329.3,452.3 L329.4,452.9 L329.5,453.6 L329.5,454.2 L329.6,454.8 L329.7,455.4 L329.8,455.9 L329.9,456.5 L330.0,457.0 L330.1,457.5 L330.3,458.3 L330.4,459.2 L330.6,460.0 L330.8,460.8 L330.9,461.4 L331.2,461.8 L331.4,462.0 L331.7,461.9 L332.1,461.5 L332.5,460.9 L332.8,460.2 L333.2,459.5 L333.4,459.1 L333.6,458.6 L333.8,458.2 L334.0,457.6 L334.2,457.1 L334.4,456.5 L334.6,455.9 L334.8,455.3 L335.0,454.7 L335.2,454.1 L335.4,453.4 L335.6,452.8 L335.7,452.1 L335.9,451.5 L336.1,450.8 L336.2,450.3 L336.4,449.7 L336.5,449.2 L336.6,448.6 L336.8,448.1 L336.9,447.5 L337.0,446.9 L337.2,446.3 L337.3,445.7 L337.4,445.1 L337.5,444.5 L337.6,443.9 L337.8,443.3 L337.9,442.7 L338.0,442.1 L338.1,441.4 L338.2,440.8 L338.4,440.2 L338.5,439.6 L338.6,439.0 L338.7,438.3 L338.9,437.7 L339.0,437.1 L339.1,436.5 L339.2,435.9 L339.3,435.3 L339.5,434.7 L339.6,434.1 L339.7,433.5 L339.8,432.9 L340.0,432.3 L340.1,431.7 L340.2,431.1 L340.3,430.5 L340.5,429.9 L340.6,429.3 L340.7,428.7 L340.8,428.1 L341.0,427.4 L341.1,426.8 L341.2,426.2 L341.3,425.6 L341.5,425.0 L341.6,424.4 L341.7,423.8 L341.8,423.2 L342.0,422.5 L342.1,421.9 L342.2,421.3 L342.3,420.7 L342.4,420.1 L342.5,419.5 L342.7,418.9 L342.8,418.3 L342.9,417.7 L343.0,417.1 L343.1,416.5 L343.2,415.9 L343.3,415.3 L343.4,414.6 L343.5,414.0 L343.6,413.4 L343.7,412.8 L343.9,412.2 L344.0,411.6 L344.1,411.0 L344.2,410.4 L344.3,409.8 L344.4,409.2 L344.5,408.6 L344.6,408.0 L344.7,407.4 L344.9,406.8 L345.0,406.2 L345.1,405.6 L345.2,405.0 L345.3,404.4 L345.4,403.8 L345.6,403.2 L345.7,402.6 L345.8,402.0 L346.0,401.4 L346.1,400.7 L346.2,400.1 L346.3,399.6 L346.5,399.0 L346.6,398.4 L346.7,397.8 L346.9,397.2 L347.0,396.6 L347.1,396.0 L347.2,395.4 L347.4,394.8 L347.5,394.2 L347.6,393.7 L347.8,393.1 L347.9,392.5 L348.0,391.9 L348.2,391.4 L348.3,390.8 L348.4,390.2 L348.6,389.5 L348.7,388.9 L348.9,388.3 L349.0,387.7 L349.2,387.1 L349.3,386.4 L349.5,385.8 L349.6,385.2 L349.8,384.6 L349.9,384.0 L350.1,383.4 L350.2,382.8 L350.4,382.2 L350.5,381.6 L350.7,381.0 L350.8,380.4 L351.0,379.8 L351.1,379.2 L351.3,378.6 L351.5,378.0 L351.6,377.4 L351.8,376.8 L351.9,376.2 L352.1,375.6 L352.2,375.0 L352.4,374.3 L352.5,373.7 L352.7,373.1 L352.8,372.5 L353.0,371.9 L353.1,371.3 L353.3,370.8 L353.5,370.2 L353.6,369.6 L353.8,369.0 L354.0,368.5 L354.2,367.9 L354.4,367.4 L354.6,366.8 L354.9,366.2 L355.1,365.7 L355.4,365.1 L355.6,364.5 L355.9,364.0 L356.2,363.5 L356.4,362.9 L356.7,362.4 L357.0,361.9 L357.3,361.4 L357.6,360.8 L357.9,360.3 L358.2,359.8 L358.5,359.3 L358.8,358.8 L359.1,358.2 L359.5,357.6 L359.8,357.0 L360.1,356.5 L360.5,355.9 L360.8,355.3 L361.2,354.8 L361.6,354.3 L361.9,353.8 L362.3,353.3 L362.7,352.9 L363.1,352.5 L363.5,352.2 L364.1,351.8 L364.7,351.5 L365.4,351.3 L366.1,351.1 L366.7,350.9 L367.4,350.8 L368.0,350.7 L368.6,350.6 L369.3,350.5 L369.9,350.4 L370.5,350.4 L371.1,350.5 L371.7,350.6 L372.3,350.8 L372.8,351.1 L373.4,351.4 L374.0,351.8 L374.6,352.2 L375.1,352.7 L375.7,353.2 L376.1,353.6 L376.5,354.0 L376.9,354.4 L377.3,354.8 L377.7,355.3 L378.1,355.8 L378.5,356.2 L378.8,356.8 L379.2,357.3 L379.6,357.8 L379.9,358.4 L380.3,359.0 L380.6,359.5 L380.8,360.0 L381.1,360.5 L381.3,361.0 L381.6,361.5 L381.8,362.1 L382.1,362.6 L382.3,363.2 L382.5,363.8 L382.8,364.4 L383.0,365.0 L383.2,365.6 L383.5,366.2 L383.7,366.8 L383.9,367.4 L384.1,368.0 L384.3,368.7 L384.6,369.3 L384.8,369.9 L385.0,370.5 L385.2,371.1 L385.4,371.6 L385.6,372.2 L385.8,372.8 L386.0,373.4 L386.2,373.9 L386.4,374.5 L386.6,375.1 L386.7,375.7 L386.9,376.3 L387.1,376.9 L387.3,377.5 L387.5,378.1 L387.7,378.7 L387.9,379.3 L388.0,379.9 L388.2,380.5 L388.4,381.1 L388.6,381.7 L388.7,382.3 L388.9,382.9 L389.1,383.5 L389.2,384.1 L389.4,384.7 L389.6,385.3 L389.7,385.9 L389.9,386.5 L390.1,387.1 L390.2,387.7 L390.4,388.3 L390.5,388.9 L390.7,389.5 L390.8,390.1 L391.0,390.7 L391.1,391.3 L391.3,391.9 L391.4,392.5 L391.6,393.1 L391.7,393.7 L391.9,394.3 L392.0,394.9 L392.1,395.5 L392.3,396.0 L392.4,396.6 L392.6,397.2 L392.7,397.8 L392.8,398.4 L393.0,399.0 L393.1,399.7 L393.3,400.3 L393.4,400.9 L393.6,401.5 L393.7,402.2 L393.8,402.8 L394.0,403.4 L394.1,404.0 L394.3,404.7 L394.4,405.3 L394.5,405.9 L394.7,406.5 L394.8,407.1 L394.9,407.7 L395.1,408.3 L395.2,408.9 L395.4,409.4 L395.5,410.0 L395.7,410.7 L395.8,411.3 L396.0,411.9 L396.1,412.5 L396.3,413.2 L396.4,413.8 L396.6,414.4 L396.7,415.0 L396.9,415.6 L397.0,416.2 L397.2,416.8 L397.4,417.4 L397.5,418.0 L397.7,418.6 L397.9,419.2 L398.1,419.8 L398.3,420.4 L398.5,421.1 L398.7,421.7 L398.9,422.3 L399.1,423.0 L399.3,423.6 L399.5,424.3 L399.8,424.9 L400.0,425.5 L400.2,426.1 L400.4,426.7 L400.6,427.2 L400.9,427.8 L401.1,428.2 L401.3,428.7 L401.7,429.4 L402.0,430.2 L402.3,430.9 L402.7,431.4 L403.1,431.8 L403.5,432.0 L403.9,431.9 L404.3,431.7 L404.8,431.3 L405.2,430.9 L405.7,430.3 L406.1,429.7 L406.6,429.1 L407.0,428.5 L407.3,428.1 L407.5,427.6 L407.8,427.2 L408.1,426.7 L408.3,426.2 L408.6,425.6 L408.8,425.1 L409.1,424.5 L409.3,424.0 L409.6,423.4 L409.8,422.8 L410.0,422.2 L410.3,421.6 L410.5,421.0 L410.8,420.4 L411.0,419.8 L411.3,419.2 L411.5,418.7 L411.8,418.1 L412.0,417.6 L412.2,417.0 L412.5,416.4 L412.7,415.9 L412.9,415.3 L413.2,414.7 L413.4,414.1 L413.6,413.5 L413.9,412.9 L414.1,412.3 L414.3,411.7 L414.6,411.1 L414.8,410.6 L415.0,410.0 L415.3,409.4 L415.5,408.9 L415.7,408.4 L415.9,407.9 L416.2,407.4 L416.4,406.9 L416.7,406.3 L417.0,405.7 L417.3,405.1 L417.6,404.5 L417.9,403.9 L418.2,403.4 L418.4,402.9 L418.7,402.4 L419.0,401.9 L419.3,401.4 L419.7,400.9 L420.0,400.5 L420.4,400.0 L420.8,399.5 L421.3,399.0 L421.7,398.6 L422.2,398.2 L422.7,397.8 L423.1,397.5 L423.6,397.2 L424.3,396.9 L425.0,396.8 L425.7,396.8 L426.4,396.6 L427.0,396.4 L427.6,396.0 L428.1,395.5 L428.6,394.9 L429.0,394.2 L429.2,393.7 L429.4,393.2 L429.6,392.6 L429.8,391.9 L429.9,391.3 L430.1,390.6 L430.2,389.9 L430.4,389.2 L430.5,388.5 L430.6,388.0 L430.7,387.4 L430.8,386.8 L430.9,386.3 L431.0,385.7 L431.1,385.1 L431.2,384.5 L431.3,383.9 L431.4,383.3 L431.5,382.7 L431.7,382.1 L431.8,381.4 L431.9,380.7 L432.0,380.0 L432.1,379.5 L432.2,379.0 L432.3,378.5 L432.3,377.9 L432.4,377.4 L432.5,376.8 L432.6,376.2 L432.7,375.7 L432.8,375.1 L432.9,374.5 L433.0,373.9 L433.1,373.3 L433.2,372.7 L433.3,372.0 L433.4,371.4 L433.5,370.8 L433.6,370.1 L433.7,369.5 L433.8,368.9 L433.9,368.2 L434.0,367.6 L434.1,367.0 L434.2,366.3 L434.3,365.7 L434.5,365.1 L434.6,364.5 L434.7,363.8 L434.8,363.2 L434.9,362.6 L435.0,362.0 L435.1,361.4 L435.2,360.8 L435.3,360.2 L435.4,359.6 L435.6,359.0 L435.7,358.4 L435.8,357.8 L435.9,357.2 L436.0,356.6 L436.1,356.0 L436.2,355.4 L436.3,354.8 L436.5,354.2 L436.6,353.6 L436.7,353.0 L436.8,352.4 L436.9,351.8 L437.1,351.2 L437.2,350.6 L437.3,350.0 L437.4,349.4 L437.6,348.8 L437.7,348.2 L437.8,347.6 L438.0,347.0 L438.1,346.4 L438.3,345.8 L438.4,345.2 L438.6,344.6 L438.7,344.0 L438.8,343.4 L439.0,342.8 L439.1,342.2 L439.3,341.6 L439.5,341.0 L439.6,340.4 L439.8,339.8 L439.9,339.3 L440.1,338.7 L440.2,338.1 L440.4,337.5 L440.6,336.9 L440.7,336.3 L440.9,335.7 L441.1,335.1 L441.2,334.5 L441.4,333.9 L441.6,333.3 L441.8,332.7 L441.9,332.1 L442.1,331.5 L442.3,330.9 L442.5,330.4 L442.7,329.8 L442.9,329.2 L443.1,328.6 L443.3,328.1 L443.5,327.5 L443.7,326.9 L443.9,326.4 L444.1,325.8 L444.3,325.3 L444.5,324.7 L444.8,324.1 L445.0,323.5 L445.3,323.0 L445.5,322.4 L445.8,321.8 L446.0,321.2 L446.3,320.7 L446.5,320.1 L446.8,319.5 L447.1,319.0 L447.3,318.4 L447.6,317.9 L447.9,317.3 L448.2,316.8 L448.4,316.2 L448.7,315.7 L449.0,315.2 L449.3,314.6 L449.6,314.1 L449.9,313.6 L450.2,313.0 L450.5,312.5 L450.8,312.0 L451.1,311.4 L451.4,310.9 L451.7,310.4 L452.0,309.9 L452.3,309.3 L452.7,308.8 L453.0,308.3 L453.3,307.7 L453.7,307.2 L454.0,306.7 L454.3,306.1 L454.7,305.6 L455.0,305.1 L455.4,304.6 L455.7,304.1 L456.1,303.5 L456.4,303.0 L456.8,302.5 L457.1,302.0 L457.5,301.5 L457.9,301.0 L458.3,300.5 L458.6,300.1 L459.0,299.6 L459.4,299.1 L459.8,298.6 L460.2,298.2 L460.6,297.7 L461.0,297.3 L461.4,296.9 L461.8,296.4 L462.3,296.0 L462.7,295.5 L463.1,295.1 L463.6,294.7 L464.0,294.3 L464.5,293.8 L464.9,293.4 L465.4,293.0 L465.9,292.6 L466.3,292.2 L466.8,291.8 L467.3,291.5 L467.7,291.1 L468.2,290.7 L468.7,290.4 L469.2,290.0 L469.7,289.6 L470.2,289.3 L470.7,289.0 L471.2,288.6 L471.7,288.3 L472.2,288.0 L472.7,287.7 L473.3,287.4 L473.8,287.1 L474.3,286.8 L474.9,286.5 L475.4,286.2 L475.9,286.0 L476.5,285.7 L477.0,285.4 L477.6,285.2 L478.2,285.0 L478.7,284.7 L479.3,284.5 L479.9,284.3 L480.5,284.0 L481.0,283.8 L481.6,283.6 L482.2,283.4 L482.8,283.2 L483.4,283.0 L484.1,282.8 L484.7,282.6 L485.3,282.4 L485.8,282.2 L486.4,282.1 L487.0,281.9 L487.5,281.8 L488.1,281.6 L488.7,281.5 L489.3,281.3 L489.9,281.2 L490.4,281.1 L491.0,280.9 L491.7,280.8 L492.3,280.7 L492.9,280.5 L493.5,280.4 L494.1,280.3 L494.7,280.2 L495.3,280.1 L496.0,280.0 L496.6,279.9 L497.2,279.8 L497.8,279.7 L498.5,279.6 L499.1,279.5 L499.7,279.4 L500.3,279.3 L500.9,279.2 L501.6,279.1 L502.2,279.0 L502.8,278.9 L503.4,278.8 L504.0,278.7 L504.6,278.6 L505.2,278.5 L505.8,278.4 L506.4,278.4 L507.0,278.3 L507.6,278.2 L508.2,278.1 L508.8,278.1 L509.4,278.0 L510.0,277.9 L510.6,277.9 L511.2,277.8 L511.8,277.8 L512.4,277.7 L513.0,277.6 L513.6,277.6 L514.2,277.5 L514.8,277.5 L515.4,277.4 L516.0,277.4 L516.6,277.3 L517.2,277.3 L517.8,277.2 L518.4,277.2 L519.0,277.1 L519.6,277.1 L520.2,277.0 L520.8,277.0 L521.4,276.9 L522.0,276.9 L522.6,276.8 L523.2,276.7 L523.8,276.7 L524.4,276.6 L525.0,276.6 L525.6,276.5 L526.2,276.5 L526.7,276.4 L527.3,276.4 L527.9,276.3 L528.5,276.3 L529.1,276.2 L529.7,276.2 L530.2,276.1 L530.8,276.0 L531.4,276.0 L532.0,275.9 L532.6,275.9 L533.2,275.8 L533.8,275.8 L534.4,275.8 L535.0,275.7 L535.6,275.7 L536.2,275.6 L536.8,275.6 L537.4,275.5 L538.1,275.5 L538.7,275.4 L539.3,275.4 L540.0,275.4 L540.6,275.3 L541.3,275.3 L541.8,275.3 L542.4,275.2 L542.9,275.2 L543.5,275.2 L544.1,275.2 L544.6,275.1 L545.2,275.1 L545.7,275.1 L546.3,275.1 L546.9,275.1 L547.4,275.0 L548.0,275.0 L548.6,275.0 L549.1,275.0 L549.7,275.0 L550.3,275.0 L550.9,274.9 L551.5,274.9 L552.0,274.9 L552.6,274.9 L553.2,274.9 L553.8,274.9 L554.4,274.9 L555.0,274.9 L555.6,274.8 L556.3,274.8 L556.9,274.8 L557.5,274.8 L558.1,274.8 L558.7,274.8 L559.4,274.8 L560.0,274.8 L560.6,274.8 L561.3,274.7 L561.9,274.7 L562.6,274.7 L563.2,274.7 L563.9,274.7 L564.5,274.7 L565.2,274.7 L565.9,274.7 L566.5,274.7 L567.2,274.6 L567.9,274.6 L568.6,274.6 L569.3,274.6 L569.8,274.6 L570.3,274.6 L570.9,274.6 L571.4,274.6 L571.9,274.5 L572.4,274.5 L573.0,274.5 L573.5,274.5 L574.0,274.5 L574.6,274.5 L575.1,274.5 L575.7,274.5 L576.2,274.5 L576.8,274.5 L577.3,274.4 L577.9,274.4 L578.4,274.4 L579.0,274.4 L579.5,274.4 L580.1,274.4 L580.7,274.4 L581.2,274.4 L581.8,274.4 L582.4,274.3 L582.9,274.3 L583.5,274.3 L584.1,274.3 L584.7,274.3 L585.2,274.3 L585.8,274.3 L586.4,274.3 L587.0,274.3 L587.6,274.2 L588.2,274.2 L588.8,274.2 L589.4,274.2 L590.0,274.2 L590.6,274.2 L591.2,274.2 L591.8,274.2 L592.4,274.2 L593.0,274.2 L593.6,274.1 L594.2,274.1 L594.8,274.1 L595.4,274.1 L596.1,274.1 L596.7,274.1 L597.3,274.1 L597.9,274.1 L598.5,274.1 L599.2,274.1 L599.8,274.0 L600.4,274.0 L601.1,274.0 L601.7,274.0 L602.3,274.0 L603.0,274.0 L603.6,274.0 L604.2,274.0 L604.9,274.0 L605.5,274.0 L606.2,274.0 L606.8,273.9 L607.5,273.9 L608.1,273.9 L608.8,273.9 L609.4,273.9 L610.1,273.9 L610.7,273.9 L611.4,273.9 L612.0,273.9 L612.7,273.9 L613.3,273.9 L614.0,273.9 L614.7,273.9 L615.3,273.8 L616.0,273.8 L616.7,273.8 L617.3,273.8 L618.0,273.8 L618.7,273.8 L619.3,273.8 L620.0,273.8 L620.5,273.8 L621.1,273.8 L621.6,273.8 L622.1,273.8 L622.7,273.8 L623.2,273.8 L623.8,273.8 L624.3,273.8 L624.9,273.8 L625.4,273.8 L626.0,273.8 L626.5,273.7 L627.1,273.7 L627.6,273.7 L628.2,273.7 L628.7,273.7 L629.3,273.7 L629.8,273.7 L630.4,273.7 L631.0,273.7 L631.5,273.7 L632.1,273.7 L632.6,273.7 L633.2,273.7 L633.8,273.7 L634.4,273.7 L634.9,273.7 L635.5,273.7 L636.1,273.7 L636.6,273.7 L637.2,273.7 L637.8,273.7 L638.4,273.7 L638.9,273.7 L639.5,273.7 L640.1,273.7 L640.7,273.7 L641.3,273.7 L641.9,273.7 L642.4,273.7 L643.0,273.7 L643.6,273.7 L644.2,273.7 L644.8,273.7 L645.4,273.7 L646.0,273.7 L646.6,273.7 L647.2,273.7 L647.8,273.7 L648.4,273.7 L648.9,273.7 L649.5,273.7 L650.1,273.7 L650.7,273.6 L651.3,273.6 L651.9,273.6 L652.5,273.6 L653.1,273.6 L653.8,273.6 L654.4,273.6 L655.0,273.6 L655.6,273.6 L656.2,273.6 L656.8,273.6 L657.4,273.6 L658.0,273.6 L658.6,273.6 L659.2,273.6 L659.8,273.6 L660.4,273.6 L661.1,273.6 L661.7,273.6 L662.3,273.6 L662.9,273.6 L663.5,273.6 L664.1,273.6 L664.8,273.6 L665.4,273.6 L666.0,273.6 L666.6,273.6 L667.2,273.6 L667.8,273.6 L668.5,273.6 L669.1,273.6 L669.7,273.6 L670.3,273.6 L671.0,273.6 L671.6,273.6 L672.2,273.6 L672.8,273.6 L673.5,273.6 L674.1,273.6 L674.7,273.6 L675.3,273.6 L676.0,273.6 L676.6,273.6 L677.2,273.6 L677.8,273.6 L678.5,273.6 L679.1,273.6 L679.7,273.6 L680.4,273.6 L681.0,273.6 L681.6,273.6 L682.3,273.6 L682.9,273.6 L683.5,273.6 L684.1,273.6 L684.8,273.6 L685.4,273.6 L686.0,273.6 L686.7,273.6 L687.3,273.6 L687.9,273.6 L688.6,273.6 L689.2,273.6 L689.8,273.6 L690.5,273.6 L691.1,273.6 L691.7,273.6 L692.4,273.6 L693.0,273.6 L693.7,273.6 L694.3,273.6 L694.9,273.6 L695.6,273.6 L696.2,273.6 L696.8,273.6 L697.5,273.6 L698.1,273.6 L698.7,273.6 L699.4,273.6 L700.0,273.6 L700.6,273.6 L701.1,273.6 L701.7,273.6 L702.3,273.6 L702.8,273.6 L703.4,273.6 L704.0,273.6 L704.5,273.6 L705.1,273.6 L705.7,273.6 L706.2,273.6 L706.8,273.6 L707.4,273.6 L707.9,273.6 L708.5,273.6 L709.1,273.6 L709.6,273.6 L710.2,273.6 L710.7,273.6 L711.3,273.6 L711.9,273.6 L712.4,273.6 L713.0,273.6 L713.6,273.6 L714.1,273.6 L714.7,273.6 L715.2,273.6 L715.8,273.6 L716.4,273.6 L716.9,273.6 L717.5,273.6 L718.1,273.6 L718.6,273.6 L719.2,273.6 L719.7,273.6 L720.3,273.6 L720.9,273.6 L721.4,273.6 L722.0,273.6 L722.6,273.6 L723.1,273.6 L723.7,273.6 L724.2,273.6 L724.8,273.6 L725.4,273.6 L725.9,273.6 L726.5,273.6 L727.1,273.6 L727.6,273.6 L728.2,273.6 L728.8,273.6 L729.3,273.6 L729.9,273.6 L730.5,273.6 L731.0,273.6 L731.6,273.6 L732.2,273.6 L732.7,273.6 L733.3,273.6 L733.9,273.6 L734.4,273.6 L735.0,273.5 L735.6,273.5 L736.2,273.5 L736.7,273.5 L737.3,273.5 L737.9,273.5 L738.4,273.5 L739.0,273.5 L739.6,273.5 L740.2,273.5 L740.7,273.5 L741.3,273.5 L741.9,273.5 L742.5,273.5 L743.1,273.5 L743.6,273.5 L744.2,273.5 L744.8,273.5 L745.4,273.5 L746.0,273.5 L746.5,273.5 L747.1,273.5 L747.7,273.5 L748.3,273.5 L748.9,273.5 L749.5,273.5 L750.1,273.5 L750.7,273.5 L751.2,273.5 L751.8,273.5 L752.4,273.5 L753.0,273.5 L753.6,273.5 L754.2,273.5 L754.8,273.5 L755.4,273.5 L756.0,273.5 L756.6,273.5 L757.2,273.5 L757.8,273.5 L758.4,273.5 L759.0,273.5 L759.6,273.5 L760.2,273.5 L760.8,273.5 L761.4,273.5 L762.0,273.5 L762.7,273.5 L763.3,273.5 L763.9,273.5 L764.5,273.5 L765.1,273.5 L765.7,273.5 L766.3,273.5 L767.0,273.5 L767.6,273.5 L768.2,273.5 L768.8,273.5 L769.5,273.5 L770.1,273.5 L770.7,273.5 L771.3,273.5 L772.0,273.5 L772.6,273.5 L773.2,273.5 L773.9,273.5 L774.5,273.5 L775.2,273.5 L775.8,273.5 L776.4,273.5 L777.1,273.5 L777.7,273.5 L778.4,273.5 L779.0,273.5 L779.7,273.5 L780.3,273.5 L781.0,273.5 L781.6,273.5 L782.3,273.5 L782.9,273.5 L783.6,273.5 L784.3,273.5 L784.9,273.5 L785.6,273.5 L786.3,273.5 L786.9,273.5 L787.6,273.5 L788.3,273.5 L788.9,273.5 L789.6,273.5 L790.3,273.5 L791.0,273.5 L791.7,273.5 L792.3,273.5 L793.0,273.5 L793.7,273.5 L794.4,273.5 L795.1,273.5 L795.8,273.5 L796.5,273.5 L797.2,273.5 L797.9,273.5 L798.6,273.5 L799.3,273.5 L800.0,273.5 L800.5,273.5 L801.0,273.5 L801.5,273.5 L802.0,273.5 L802.5,273.5 L803.0,273.5 L803.5,273.5 L804.0,273.5 L804.5,273.5 L805.0,273.5 L805.5,273.5 L806.0,273.5 L806.6,273.5 L807.1,273.5 L807.6,273.5 L808.1,273.5 L808.6,273.5 L809.1,273.5 L809.7,273.5 L810.2,273.5 L810.7,273.5 L811.2,273.5 L811.7,273.5 L812.3,273.5 L812.8,273.5 L813.3,273.5 L813.8,273.5 L814.4,273.5 L814.9,273.5 L815.4,273.5 L816.0,273.5 L816.5,273.5 L817.0,273.5 L817.6,273.5 L818.1,273.5 L818.6,273.5 L819.2,273.5 L819.7,273.5 L820.3,273.5 L820.8,273.5 L821.3,273.5 L821.9,273.5 L822.4,273.5 L823.0,273.5 L823.5,273.5 L824.1,273.5 L824.6,273.5 L825.2,273.5 L825.7,273.5 L826.3,273.5 L826.8,273.5 L827.4,273.5 L827.9,273.5 L828.5,273.5 L829.0,273.5 L829.6,273.5 L830.2,273.5 L830.7,273.5 L831.3,273.5 L831.8,273.5 L832.4,273.5 L833.0,273.5 L833.5,273.5 L834.1,273.5 L834.7,273.5 L835.2,273.5 L835.8,273.5 L836.4,273.5 L836.9,273.5 L837.5,273.5 L838.1,273.5 L838.6,273.5 L839.2,273.5 L839.8,273.5 L840.4,273.5 L840.9,273.5 L841.5,273.5 L842.1,273.5 L842.7,273.5 L843.2,273.5 L843.8,273.5 L844.4,273.5 L845.0,273.5 L845.6,273.5 L846.1,273.5 L846.7,273.5 L847.3,273.5 L847.9,273.5 L848.5,273.5 L849.1,273.5 L849.6,273.5 L850.2,273.5 L850.8,273.5 L851.4,273.5 L852.0,273.5 L852.6,273.5 L853.2,273.5 L853.8,273.5 L854.4,273.5 L855.0,273.5 L855.6,273.5 L856.1,273.5 L856.7,273.5 L857.3,273.5 L857.9,273.5 L858.5,273.5 L859.1,273.5 L859.7,273.5 L860.3,273.5 L860.9,273.5 L861.5,273.5 L862.1,273.5 L862.7,273.5 L863.3,273.5 L863.9,273.5 L864.5,273.5 L865.1,273.5 L865.7,273.5 L866.3,273.5 L867.0,273.5 L867.6,273.5 L868.2,273.5 L868.8,273.5 L869.4,273.5 L870.0,273.5 L870.6,273.5 L871.2,273.5 L871.8,273.5 L872.4,273.5 L873.0,273.5 L873.7,273.5 L874.3,273.5 L874.9,273.5 L875.5,273.5 L876.1,273.5 L876.7,273.5 L877.3,273.5 L878.0,273.5 L878.6,273.5 L879.2,273.5 L879.8,273.5 L880.4,273.5 L881.0,273.5 L881.7,273.5 L882.3,273.5 L882.9,273.5 L883.5,273.5 L884.1,273.5 L884.7,273.5 L885.4,273.5 L886.0,273.5 L886.6,273.5 L887.2,273.5 L887.9,273.5 L888.5,273.5 L889.1,273.5 L889.7,273.5 L890.3,273.5 L891.0,273.5 L891.6,273.5 L892.2,273.5 L892.8,273.5 L893.5,273.5 L894.1,273.5 L894.7,273.5 L895.4,273.5 L896.0,273.5 L896.6,273.5 L897.2,273.5 L897.9,273.5 L898.5,273.5 L899.1,273.5 L899.7,273.5 L900.4,273.5 L901.0,273.5 L901.6,273.5 L902.3,273.5 L902.9,273.5 L903.5,273.5 L904.2,273.5 L904.8,273.5 L905.4,273.5 L906.0,273.5 L906.7,273.5 L907.3,273.5 L907.9,273.5 L908.6,273.5 L909.2,273.5 L909.8,273.5 L910.5,273.5 L911.1,273.5 L911.7,273.5 L912.4,273.5 L913.0,273.5 L913.6,273.5 L914.3,273.5 L914.9,273.5 L915.5,273.5 L916.2,273.5 L916.8,273.5 L917.4,273.5 L918.1,273.5 L918.7,273.5 L919.3,273.5 L920.0,273.5 L920.6,273.5 L921.3,273.5 L921.9,273.5 L922.5,273.5 L923.2,273.5 L923.8,273.5 L924.4,273.5 L925.1,273.5 L925.7,273.5 L926.3,273.5 L927.0,273.5 L927.6,273.5 L928.2,273.5 L928.9,273.5 L929.5,273.5 L930.2,273.5 L930.8,273.5 L931.4,273.5 L932.1,273.5 L932.7,273.5 L933.3,273.5 L934.0,273.5 L934.6,273.5 L935.2,273.5 L935.9,273.5 L936.5,273.5 L937.2,273.5 L937.8,273.5 L938.4,273.5 L939.1,273.5 L939.7,273.5 L940.3,273.5 L941.0,273.5 L941.6,273.5 L942.2,273.5 L942.9,273.5 L943.5,273.5 L944.1,273.5 L944.8,273.5 L945.4,273.5 L946.0,273.5 L946.7,273.5 L947.3,273.5 L948.0,273.5 L948.6,273.5 L949.2,273.5 L949.9,273.5 L950.5,273.5 L951.1,273.5 L951.8,273.5 L952.4,273.5 L953.0,273.5 L953.7,273.5 L954.3,273.5 L954.9,273.5 L955.6,273.5 L956.2,273.5 L956.8,273.5 L957.4,273.5 L958.1,273.5 L958.7,273.5 L959.3,273.5 L960.0,273.5 L960.6,273.5 L961.2,273.5 L961.9,273.5 L962.5,273.5 L963.1,273.5 L963.8,273.5 L964.4,273.5 L965.0,273.5 L965.6,273.5 L966.3,273.5 L966.9,273.5 L967.5,273.5 L968.1,273.5 L968.8,273.5 L969.4,273.5 L970.0,273.5 L970.7,273.5 L971.3,273.5 L971.9,273.5 L972.5,273.5 L973.2,273.5 L973.8,273.5 L974.4,273.5 L975.0,273.5 L975.6,273.5 L976.3,273.5 L976.9,273.5 L977.5,273.5 L978.1,273.5 L978.8,273.5 L979.4,273.5 L980.0,273.5 L980.6,273.5 L981.2,273.5 L981.9,273.5 L982.5,273.5 L983.1,273.5 L983.7,273.5 L984.3,273.5 L984.9,273.5 L985.6,273.5 L986.2,273.5 L986.8,273.5 L987.4,273.5 L988.0,273.5 L988.6,273.5 L989.2,273.5 L989.9,273.5 L990.5,273.5 L991.1,273.5 L991.7,273.5 L992.3,273.5 L992.9,273.5 L993.5,273.5 L994.1,273.5 L994.7,273.5 L995.4,273.5 L996.0,273.5 L996.6,273.5 L997.2,273.5 L997.8,273.5 L998.4,273.5 L999.0,273.5 L999.6,273.5 L1000.2,273.5 L1000.8,273.5 L1001.4,273.5 L1002.0,273.5" stroke="#151515" stroke-width="2.4" fill="none" stroke-linejoin="round"/>
<path d="M344,273.2 L1002,273.2" stroke="#a4b040" stroke-width="2.4" fill="none" stroke-dasharray="15 7"/>
<path d="M386,273.2 L1002,273.2" stroke="#f5a04a" stroke-width="2.4" fill="none" stroke-dasharray="15 7" stroke-dashoffset="4"/>
<path d="M600,273.0 L1002,273.0" stroke="#f0c050" stroke-width="2.6" fill="none"/>
<path d="M432,273.2 L1002,273.2" stroke="#e8303a" stroke-width="2.6" fill="none" stroke-dasharray="17 5"/>
<path d="M344.0,273.3 L344.6,273.3 L345.2,273.3 L345.8,273.2 L346.4,273.2 L347.1,273.2 L347.7,273.2 L348.3,273.2 L348.9,273.1 L349.5,273.1 L350.1,273.1 L350.7,273.1 L351.3,273.1 L352.0,273.0 L352.6,273.0 L353.2,273.0 L353.8,273.0 L354.4,273.0 L355.0,272.9 L355.6,272.9 L356.2,272.9 L356.8,272.9 L357.4,272.8 L358.0,272.8 L358.6,272.8 L359.2,272.8 L359.8,272.8 L360.5,272.8 L361.1,272.7 L361.7,272.7 L362.3,272.7 L363.0,272.7 L363.6,272.7 L364.2,272.7 L364.8,272.7 L365.4,272.7 L366.0,272.7 L366.7,272.7 L367.3,272.7 L367.9,272.7 L368.5,272.6 L369.1,272.6 L369.7,272.5 L370.3,272.5 L370.8,272.4 L371.4,272.3 L372.0,272.2 L372.6,272.1 L373.2,271.9 L373.9,271.8 L374.5,271.6 L375.1,271.4 L375.7,271.3 L376.3,271.1 L376.9,270.9 L377.5,270.7 L378.1,270.4 L378.7,270.2 L379.3,270.0 L379.8,269.8 L380.4,269.5 L381.0,269.3 L381.5,269.0 L382.1,268.8 L382.7,268.5 L383.2,268.3 L383.8,268.0 L384.3,267.8 L384.9,267.5 L385.5,267.3 L386.0,267.0 L386.6,266.7 L387.1,266.5 L387.7,266.2 L388.2,265.9 L388.7,265.6 L389.3,265.3 L389.8,265.0 L390.3,264.6 L390.8,264.3 L391.3,263.9 L391.7,263.6 L392.2,263.2 L392.7,262.8 L393.1,262.4 L393.5,261.9 L394.0,261.5 L394.4,261.0 L394.8,260.5 L395.2,260.1 L395.5,259.6 L395.9,259.1 L396.3,258.6 L396.7,258.0 L397.0,257.5 L397.4,257.0 L397.8,256.5 L398.1,255.9 L398.5,255.4 L398.9,254.9 L399.2,254.4 L399.6,253.9 L399.9,253.5 L400.3,253.0 L400.6,252.5 L401.0,252.0 L401.3,251.5 L401.6,251.0 L402.0,250.5 L402.3,250.0 L402.6,249.5 L403.0,249.0 L403.3,248.4 L403.6,247.9 L404.0,247.4 L404.3,246.9 L404.6,246.4 L404.9,245.8 L405.3,245.3 L405.6,244.8 L405.9,244.3 L406.3,243.7 L406.6,243.2 L406.9,242.7 L407.2,242.1 L407.6,241.6 L407.9,241.0 L408.2,240.5 L408.5,239.9 L408.9,239.3 L409.2,238.8 L409.5,238.2 L409.8,237.7 L410.2,237.1 L410.5,236.6 L410.8,236.1 L411.1,235.6 L411.4,235.0 L411.7,234.6 L412.0,234.1 L412.3,233.6 L412.7,233.0 L413.0,232.5 L413.4,231.9 L413.7,231.4 L414.0,230.9 L414.4,230.3 L414.7,229.8 L415.0,229.3 L415.4,228.9 L415.7,228.4 L416.1,227.9 L416.4,227.4 L416.8,226.9 L417.2,226.4 L417.6,225.9 L418.0,225.4 L418.4,224.8 L418.8,224.3 L419.2,223.8 L419.6,223.3 L420.1,222.8 L420.5,222.3 L421.0,221.9 L421.4,221.5 L421.9,221.1 L422.4,220.7 L422.9,220.4 L423.4,220.0 L424.0,219.7 L424.5,219.4 L425.1,219.1 L425.6,218.9 L426.2,218.6 L426.8,218.4 L427.4,218.3 L428.0,218.1 L428.5,218.0 L429.1,217.9 L429.7,217.9 L430.3,217.9 L430.9,217.9 L431.5,218.0 L432.1,218.1 L432.8,218.2 L433.4,218.4 L434.0,218.5 L434.6,218.7 L435.2,218.8 L435.8,219.0 L436.4,219.2 L437.0,219.3 L437.5,219.5 L438.1,219.6 L438.7,219.8 L439.2,220.0 L439.8,220.2 L440.4,220.4 L441.0,220.7 L441.6,220.9 L442.2,221.2 L442.7,221.4 L443.2,221.7 L443.7,221.9 L444.2,222.2 L444.7,222.5 L445.3,222.8 L445.8,223.1 L446.4,223.5 L446.9,223.8 L447.5,224.1 L448.1,224.5 L448.6,224.8 L449.2,225.2 L449.7,225.5 L450.3,225.9 L450.8,226.2 L451.3,226.5 L451.8,226.9 L452.3,227.2 L452.8,227.5 L453.4,227.9 L453.9,228.3 L454.5,228.6 L455.0,229.0 L455.5,229.4 L456.0,229.8 L456.5,230.2 L457.0,230.6 L457.5,230.9 L458.0,231.3 L458.5,231.6 L459.0,231.9 L459.5,232.2 L460.0,232.5 L460.6,232.8 L461.2,233.1 L461.8,233.4 L462.5,233.7 L463.1,234.0 L463.7,234.2 L464.3,234.4 L464.9,234.5 L465.4,234.5 L466.0,234.5 L466.5,234.4 L467.1,234.2 L467.6,233.9 L468.1,233.6 L468.6,233.2 L469.1,232.8 L469.5,232.4 L470.0,231.9 L470.5,231.5 L470.9,231.1 L471.3,230.7 L471.7,230.2 L472.1,229.7 L472.5,229.2 L472.9,228.7 L473.3,228.2 L473.7,227.7 L474.1,227.1 L474.6,226.6 L475.0,226.1 L475.4,225.5 L475.8,225.0 L476.2,224.5 L476.6,224.1 L476.9,223.6 L477.3,223.2 L477.7,222.7 L478.1,222.2 L478.5,221.7 L478.9,221.3 L479.3,220.8 L479.7,220.3 L480.1,219.8 L480.5,219.4 L480.8,218.9 L481.2,218.4 L481.6,218.0 L482.0,217.5 L482.4,217.0 L482.8,216.5 L483.2,216.1 L483.6,215.6 L484.0,215.2 L484.4,214.7 L484.8,214.3 L485.1,213.8 L485.5,213.4 L485.9,212.9 L486.3,212.4 L486.8,211.9 L487.2,211.4 L487.6,210.8 L487.9,210.4 L488.3,209.9 L488.6,209.5 L489.0,209.0 L489.4,208.6 L489.8,208.1 L490.2,207.6 L490.6,207.1 L491.0,206.6 L491.4,206.1 L491.8,205.6 L492.2,205.1 L492.6,204.6 L493.0,204.1 L493.3,203.6 L493.7,203.0 L494.1,202.5 L494.4,202.0 L494.8,201.4 L495.1,200.9 L495.4,200.4 L495.7,199.8 L496.0,199.3 L496.3,198.7 L496.5,198.2 L496.7,197.6 L496.9,197.0 L497.1,196.5 L497.3,195.9 L497.4,195.3 L497.6,194.7 L497.7,194.1 L497.8,193.5 L497.9,192.9 L498.0,192.3 L498.1,191.7 L498.1,191.1 L498.2,190.5 L498.3,189.9 L498.3,189.2 L498.4,188.6 L498.4,188.0 L498.5,187.4 L498.6,186.7 L498.6,186.1 L498.7,185.4 L498.8,184.8 L498.9,184.2 L498.9,183.7 L499.0,183.1 L499.1,182.5 L499.2,181.9 L499.2,181.3 L499.3,180.7 L499.3,180.1 L499.4,179.5 L499.5,178.9 L499.5,178.3 L499.6,177.7 L499.6,177.1 L499.7,176.5 L499.7,175.9 L499.8,175.3 L499.9,174.7 L499.9,174.1 L500.0,173.5 L500.0,172.9 L500.1,172.2 L500.1,171.6 L500.2,171.0 L500.2,170.4 L500.3,169.8 L500.3,169.2 L500.4,168.6 L500.4,168.0 L500.4,167.4 L500.5,166.8 L500.5,166.2 L500.6,165.6 L500.6,165.0 L500.7,164.3 L500.7,163.7 L500.8,163.1 L500.8,162.5 L500.8,161.9 L500.9,161.2 L500.9,160.6 L501.0,160.0 L501.0,159.4 L501.0,158.8 L501.1,158.2 L501.1,157.6 L501.1,157.0 L501.2,156.3 L501.2,155.8 L501.2,155.2 L501.3,154.6 L501.3,154.0 L501.4,153.4 L501.4,152.9 L501.4,152.3 L501.5,151.7 L501.5,151.2 L501.5,150.5 L501.6,149.9 L501.6,149.3 L501.7,148.7 L501.7,148.2 L501.8,147.6 L501.8,147.1 L501.9,146.5 L501.9,146.0 L502.0,145.4 L502.0,144.8 L502.1,144.3 L502.1,143.6 L502.1,143.0 L502.2,142.3 L502.2,141.6 L502.3,140.8 L502.3,140.0 L502.3,139.6 L502.3,139.2 L502.3,138.8 L502.4,138.4 L502.4,137.9 L502.4,137.5 L502.4,137.0 L502.4,136.6 L502.4,136.1 L502.4,135.6 L502.5,135.1 L502.5,134.6 L502.5,134.1 L502.5,133.6 L502.5,133.1 L502.5,132.5 L502.5,132.0 L502.5,131.5 L502.6,130.9 L502.6,130.3 L502.6,129.8 L502.6,129.2 L502.6,128.6 L502.6,128.0 L502.6,127.4 L502.6,126.8 L502.6,126.2 L502.6,125.6 L502.7,125.0 L502.7,124.3 L502.7,123.7 L502.7,123.1 L502.7,122.4 L502.7,121.8 L502.7,121.1 L502.7,120.5 L502.7,119.8 L502.7,119.2 L502.7,118.5 L502.7,117.9 L502.8,117.2 L502.8,116.5 L502.8,115.9 L502.8,115.2 L502.8,114.5 L502.8,113.8 L502.8,113.2 L502.8,112.5 L502.8,111.8 L502.8,111.1 L502.8,110.4 L502.8,109.8 L502.8,109.1 L502.8,108.4 L502.8,107.7 L502.9,107.1 L502.9,106.4 L502.9,105.7 L502.9,105.0 L502.9,104.3 L502.9,103.7 L502.9,103.0 L502.9,102.3 L502.9,101.7 L502.9,101.0 L502.9,100.3 L502.9,99.7 L502.9,99.0 L503.0,98.4 L503.0,97.7 L503.0,97.1 L503.0,96.4 L503.0,95.8 L503.0,95.2 L503.0,94.6 L503.0,93.9 L503.0,93.3 L503.0,92.7 L503.0,92.1 L503.0,91.5 L503.1,90.9 L503.1,90.3 L503.1,89.7 L503.1,89.2 L503.1,88.6 L503.1,88.0 L503.1,87.3 L503.1,86.7 L503.2,86.0 L503.2,85.4 L503.2,84.7 L503.2,84.1 L503.2,83.4 L503.2,82.8 L503.2,82.2 L503.2,81.5 L503.3,80.9 L503.3,80.2 L503.3,79.6 L503.3,78.9 L503.3,78.3 L503.3,77.7 L503.3,77.0 L503.4,76.4 L503.4,75.7 L503.4,75.1 L503.4,74.5 L503.4,73.8 L503.4,73.2 L503.5,72.6 L503.5,71.9 L503.5,71.3 L503.5,70.7 L503.5,70.0 L503.5,69.4 L503.5,68.8 L503.6,68.2 L503.6,67.6 L503.6,67.0 L503.6,66.3 L503.6,65.7 L503.6,65.1 L503.6,64.5 L503.7,63.9 L503.7,63.3 L503.7,62.7 L503.7,62.1 L503.7,61.5 L503.7,60.9 L503.7,60.4 L503.8,59.8 L503.8,59.2 L503.8,58.6 L503.8,58.1 L503.8,57.5 L503.8,56.9 L503.8,56.4 L503.9,55.8 L503.9,55.3 L503.9,54.7 L503.9,54.2 L503.9,53.6 L503.9,53.1 L503.9,52.6 L503.9,52.1 L504.0,51.5 L504.0,51.0 L504.0,50.5 L504.0,50.0 L504.0,49.5 L504.0,48.8 L504.0,48.1 L504.0,47.4 L504.1,46.7 L504.1,46.1 L504.1,45.4 L504.1,44.8 L504.1,44.2 L504.1,43.5 L504.1,42.9 L504.2,42.3 L504.2,41.7 L504.2,41.1 L504.2,40.5 L504.2,39.9 L504.2,39.3 L504.2,38.8 L504.2,38.2 L504.3,37.6 L504.3,37.0 L504.3,36.5 L504.3,35.9 L504.3,35.3 L504.3,34.7 L504.3,34.2 L504.3,33.6 L504.4,33.0 L504.4,32.4 L504.4,31.8 L504.4,31.2 L504.4,30.6 L504.4,30.0 L504.4,29.4 L504.4,28.8 L504.4,28.2 L504.4,27.6 L504.4,27.0 L504.4,26.4 L504.5,25.8 L504.5,25.2 L504.5,24.6 L504.5,24.0 L504.5,23.4 L504.5,22.7 L504.5,22.1 L504.5,21.5 L504.5,20.9 L504.5,20.3 L504.5,19.7 L504.5,19.1 L504.5,18.5 L504.5,17.9 L504.5,17.3 L504.5,16.7 L504.5,16.1 L504.6,15.5 L504.6,14.9 L504.6,14.2 L504.6,13.6 L504.6,13.0 L504.6,12.4 L504.6,11.8 L504.6,11.2 L504.6,10.6 L504.6,10.0" stroke="#8e9a2c" stroke-width="2.3" fill="none" stroke-dasharray="15 7"/>
<path d="M515.9,10.0 L515.9,10.6 L515.9,11.2 L515.9,11.8 L515.9,12.4 L515.9,13.0 L516.0,13.5 L516.0,14.1 L516.0,14.7 L516.0,15.3 L516.0,15.8 L516.0,16.4 L516.0,17.0 L516.0,17.6 L516.0,18.1 L516.0,18.7 L516.0,19.3 L516.0,19.9 L516.0,20.5 L516.1,21.1 L516.1,21.6 L516.1,22.2 L516.1,22.8 L516.1,23.5 L516.1,24.1 L516.1,24.7 L516.1,25.3 L516.1,26.0 L516.1,26.6 L516.2,27.3 L516.2,27.9 L516.2,28.6 L516.2,29.3 L516.2,30.0 L516.2,30.5 L516.2,31.0 L516.2,31.5 L516.2,32.1 L516.2,32.6 L516.3,33.1 L516.3,33.6 L516.3,34.2 L516.3,34.7 L516.3,35.3 L516.3,35.8 L516.3,36.4 L516.3,37.0 L516.3,37.5 L516.3,38.1 L516.3,38.7 L516.4,39.3 L516.4,39.9 L516.4,40.5 L516.4,41.0 L516.4,41.6 L516.4,42.2 L516.4,42.8 L516.4,43.5 L516.4,44.1 L516.4,44.7 L516.5,45.3 L516.5,45.9 L516.5,46.5 L516.5,47.1 L516.5,47.8 L516.5,48.4 L516.5,49.0 L516.5,49.6 L516.6,50.3 L516.6,50.9 L516.6,51.5 L516.6,52.1 L516.6,52.8 L516.6,53.4 L516.6,54.0 L516.6,54.7 L516.7,55.3 L516.7,55.9 L516.7,56.6 L516.7,57.2 L516.7,57.8 L516.7,58.5 L516.8,59.1 L516.8,59.7 L516.8,60.4 L516.8,61.0 L516.8,61.6 L516.9,62.2 L516.9,62.9 L516.9,63.5 L516.9,64.1 L516.9,64.7 L517.0,65.3 L517.0,66.0 L517.0,66.6 L517.0,67.2 L517.1,67.8 L517.1,68.4 L517.1,69.0 L517.1,69.6 L517.2,70.2 L517.2,70.8 L517.2,71.4 L517.2,72.0 L517.3,72.6 L517.3,73.2 L517.3,73.9 L517.4,74.5 L517.4,75.1 L517.4,75.7 L517.5,76.3 L517.5,76.9 L517.5,77.6 L517.6,78.2 L517.6,78.8 L517.6,79.4 L517.7,80.0 L517.7,80.6 L517.7,81.3 L517.8,81.9 L517.8,82.5 L517.9,83.1 L517.9,83.7 L517.9,84.4 L518.0,85.0 L518.0,85.6 L518.1,86.2 L518.1,86.8 L518.1,87.5 L518.2,88.1 L518.2,88.7 L518.3,89.3 L518.3,89.9 L518.3,90.5 L518.4,91.2 L518.4,91.8 L518.5,92.4 L518.5,93.0 L518.5,93.6 L518.6,94.2 L518.6,94.8 L518.7,95.4 L518.7,96.0 L518.8,96.6 L518.8,97.2 L518.8,97.8 L518.9,98.4 L518.9,99.0 L519.0,99.6 L519.0,100.2 L519.0,100.7 L519.1,101.3 L519.1,101.9 L519.1,102.5 L519.2,103.1 L519.2,103.6 L519.3,104.2 L519.3,104.8 L519.3,105.3 L519.4,105.9 L519.4,106.4 L519.4,107.0 L519.5,107.6 L519.5,108.1 L519.5,108.8 L519.6,109.4 L519.6,110.1 L519.7,110.7 L519.7,111.4 L519.7,112.0 L519.8,112.7 L519.8,113.3 L519.8,114.0 L519.9,114.6 L519.9,115.2 L520.0,115.9 L520.0,116.5 L520.0,117.1 L520.1,117.8 L520.1,118.4 L520.1,119.0 L520.2,119.6 L520.2,120.2 L520.2,120.8 L520.3,121.4 L520.3,122.0 L520.3,122.6 L520.4,123.2 L520.4,123.8 L520.4,124.4 L520.5,125.0 L520.5,125.6 L520.5,126.2 L520.6,126.8 L520.6,127.4 L520.7,128.0 L520.7,128.6 L520.7,129.2 L520.8,129.8 L520.8,130.3 L520.8,130.9 L520.9,131.5 L520.9,132.1 L520.9,132.7 L521.0,133.3 L521.0,133.8 L521.1,134.4 L521.1,135.0 L521.1,135.6 L521.2,136.3 L521.2,136.9 L521.3,137.5 L521.3,138.2 L521.4,138.8 L521.4,139.4 L521.5,140.1 L521.5,140.7 L521.5,141.3 L521.6,141.9 L521.6,142.5 L521.7,143.2 L521.7,143.8 L521.8,144.4 L521.8,145.0 L521.9,145.6 L521.9,146.2 L522.0,146.8 L522.0,147.4 L522.1,148.0 L522.1,148.6 L522.2,149.2 L522.2,149.8 L522.3,150.4 L522.3,151.0 L522.4,151.6 L522.4,152.2 L522.4,152.8 L522.5,153.4 L522.5,153.9 L522.6,154.5 L522.6,155.1 L522.7,155.7 L522.7,156.2 L522.8,156.8 L522.9,157.4 L522.9,158.1 L523.0,158.7 L523.0,159.3 L523.1,160.0 L523.1,160.6 L523.2,161.2 L523.2,161.8 L523.3,162.4 L523.4,163.0 L523.4,163.7 L523.5,164.3 L523.5,164.9 L523.6,165.5 L523.6,166.1 L523.7,166.7 L523.8,167.2 L523.8,167.8 L523.9,168.4 L524.0,169.0 L524.0,169.6 L524.1,170.2 L524.1,170.7 L524.2,171.3 L524.3,171.9 L524.4,172.5 L524.4,173.0 L524.5,173.6 L524.6,174.2 L524.7,174.9 L524.8,175.5 L524.8,176.2 L524.9,176.8 L525.0,177.4 L525.1,178.0 L525.2,178.6 L525.3,179.3 L525.4,179.9 L525.5,180.5 L525.6,181.1 L525.7,181.7 L525.8,182.3 L525.9,182.9 L526.0,183.5 L526.1,184.1 L526.2,184.7 L526.3,185.3 L526.4,185.8 L526.6,186.4 L526.7,187.0 L526.8,187.6 L527.0,188.2 L527.1,188.9 L527.3,189.5 L527.5,190.1 L527.6,190.7 L527.8,191.3 L528.0,191.9 L528.1,192.5 L528.3,193.1 L528.5,193.7 L528.7,194.2 L528.9,194.8 L529.1,195.4 L529.3,196.0 L529.5,196.5 L529.7,197.1 L529.9,197.6 L530.1,198.2 L530.3,198.8 L530.6,199.4 L530.8,200.0 L531.1,200.6 L531.4,201.2 L531.7,201.8 L532.0,202.3 L532.3,202.9 L532.6,203.5 L532.9,204.0 L533.2,204.6 L533.6,205.1 L533.9,205.7 L534.3,206.2 L534.7,206.7 L535.0,207.2 L535.4,207.7 L535.9,208.2 L536.3,208.7 L536.7,209.2 L537.2,209.6 L537.6,210.1 L538.1,210.5 L538.6,211.0 L539.1,211.4 L539.6,211.8 L540.1,212.2 L540.6,212.7 L541.1,213.1 L541.6,213.5 L542.1,213.9 L542.6,214.3 L543.1,214.6 L543.7,215.0 L544.2,215.3 L544.7,215.7 L545.2,216.0 L545.8,216.3 L546.3,216.6 L546.9,217.0 L547.4,217.3 L548.0,217.6 L548.5,218.0 L549.1,218.3 L549.7,218.7 L550.3,219.0 L550.9,219.4 L551.5,219.8 L552.0,220.1 L552.4,220.4 L552.9,220.8 L553.4,221.1 L553.9,221.5 L554.4,221.8 L554.9,222.2 L555.4,222.6 L555.9,222.9 L556.5,223.3 L557.0,223.7 L557.5,224.1 L558.0,224.5 L558.6,224.9 L559.1,225.3 L559.7,225.7 L560.2,226.1 L560.7,226.4 L561.3,226.8 L561.8,227.2 L562.3,227.6 L562.9,228.0 L563.4,228.3 L563.9,228.7 L564.4,229.1 L564.9,229.4 L565.4,229.7 L565.9,230.1 L566.4,230.4 L566.9,230.7 L567.5,231.1 L568.0,231.4 L568.5,231.7 L569.0,232.0 L569.5,232.4 L570.1,232.7 L570.6,233.0 L571.1,233.3 L571.6,233.6 L572.1,233.9 L572.7,234.1 L573.2,234.4 L573.7,234.7 L574.2,235.0 L574.7,235.3 L575.3,235.5 L575.8,235.8 L576.3,236.1 L576.8,236.3 L577.4,236.6 L577.9,236.9 L578.5,237.1 L579.0,237.4 L579.5,237.7 L580.1,237.9 L580.6,238.1 L581.1,238.4 L581.7,238.6 L582.2,238.9 L582.8,239.1 L583.3,239.3 L583.8,239.5 L584.4,239.8 L584.9,240.0 L585.5,240.2 L586.0,240.4 L586.6,240.6 L587.1,240.9 L587.7,241.1 L588.3,241.3 L588.8,241.5 L589.4,241.7 L590.0,241.9 L590.6,242.1 L591.2,242.4 L591.8,242.6 L592.4,242.8 L593.0,243.0 L593.5,243.2 L594.1,243.4 L594.6,243.5 L595.1,243.7 L595.7,243.9 L596.2,244.1 L596.7,244.3 L597.3,244.4 L597.9,244.6 L598.4,244.8 L599.0,245.0 L599.5,245.2 L600.1,245.3 L600.7,245.5 L601.3,245.7 L601.8,245.9 L602.4,246.1 L603.0,246.2 L603.6,246.4 L604.2,246.6 L604.8,246.8 L605.4,246.9 L606.0,247.1 L606.6,247.3 L607.2,247.4 L607.8,247.6 L608.4,247.8 L609.0,248.0 L609.6,248.1 L610.3,248.3 L610.9,248.5 L611.5,248.6 L612.1,248.8 L612.7,249.0 L613.4,249.1 L614.0,249.3 L614.6,249.4 L615.1,249.6 L615.7,249.7 L616.2,249.9 L616.8,250.0 L617.3,250.2 L617.9,250.3 L618.5,250.4 L619.0,250.6 L619.6,250.7 L620.2,250.9 L620.7,251.0 L621.3,251.2 L621.9,251.3 L622.5,251.4 L623.0,251.6 L623.6,251.7 L624.2,251.8 L624.8,252.0 L625.4,252.1 L626.0,252.3 L626.6,252.4 L627.2,252.5 L627.8,252.7 L628.3,252.8 L628.9,252.9 L629.5,253.1 L630.2,253.2 L630.8,253.3 L631.4,253.5 L632.0,253.6 L632.6,253.7 L633.2,253.9 L633.8,254.0 L634.4,254.1 L635.0,254.2 L635.7,254.4 L636.3,254.5 L636.9,254.6 L637.5,254.7 L638.2,254.9 L638.8,255.0 L639.4,255.1 L640.1,255.2 L640.7,255.4 L641.4,255.5 L642.0,255.6 L642.5,255.7 L643.1,255.8 L643.7,255.9 L644.2,256.0 L644.8,256.1 L645.3,256.2 L645.9,256.3 L646.5,256.4 L647.1,256.5 L647.6,256.6 L648.2,256.7 L648.8,256.8 L649.4,256.9 L650.0,257.0 L650.6,257.1 L651.2,257.1 L651.7,257.2 L652.3,257.3 L652.9,257.4 L653.5,257.5 L654.1,257.6 L654.7,257.7 L655.3,257.8 L656.0,257.9 L656.6,258.0 L657.2,258.0 L657.8,258.1 L658.4,258.2 L659.0,258.3 L659.6,258.4 L660.2,258.5 L660.8,258.6 L661.4,258.6 L662.1,258.7 L662.7,258.8 L663.3,258.9 L663.9,259.0 L664.5,259.1 L665.1,259.1 L665.7,259.2 L666.3,259.3 L666.9,259.4 L667.6,259.5 L668.2,259.6 L668.8,259.6 L669.4,259.7 L670.0,259.8 L670.6,259.9 L671.2,260.0 L671.8,260.1 L672.4,260.1 L673.0,260.2 L673.6,260.3 L674.2,260.4 L674.8,260.5 L675.4,260.5 L676.0,260.6 L676.5,260.7 L677.1,260.8 L677.7,260.9 L678.3,261.0 L678.9,261.0 L679.4,261.1 L680.0,261.2 L680.6,261.3 L681.3,261.4 L681.9,261.5 L682.5,261.6 L683.1,261.7 L683.7,261.7 L684.3,261.8 L684.9,261.9 L685.5,262.0 L686.2,262.1 L686.8,262.2 L687.4,262.3 L688.0,262.4 L688.6,262.5 L689.2,262.6 L689.8,262.6 L690.3,262.7 L690.9,262.8 L691.5,262.9 L692.1,263.0 L692.7,263.1 L693.3,263.2 L693.9,263.3 L694.5,263.4 L695.1,263.4 L695.7,263.5 L696.3,263.6 L696.8,263.7 L697.4,263.8 L698.0,263.9 L698.6,264.0 L699.2,264.1 L699.8,264.1 L700.4,264.2 L701.0,264.3 L701.6,264.4 L702.2,264.5 L702.8,264.6 L703.4,264.6 L704.0,264.7 L704.6,264.8 L705.2,264.9 L705.8,265.0 L706.4,265.0 L707.0,265.1 L707.6,265.2 L708.2,265.3 L708.8,265.3 L709.4,265.4 L710.0,265.5 L710.7,265.6 L711.3,265.6 L711.9,265.7 L712.5,265.8 L713.1,265.8 L713.6,265.9 L714.2,266.0 L714.8,266.0 L715.4,266.1 L716.0,266.1 L716.6,266.2 L717.2,266.3 L717.8,266.3 L718.4,266.4 L718.9,266.4 L719.5,266.5 L720.1,266.6 L720.7,266.6 L721.3,266.7 L721.9,266.7 L722.5,266.8 L723.1,266.9 L723.7,266.9 L724.3,267.0 L724.9,267.0 L725.5,267.1 L726.2,267.1 L726.8,267.2 L727.4,267.2 L728.0,267.3 L728.6,267.3 L729.2,267.4 L729.8,267.4 L730.4,267.5 L731.0,267.5 L731.6,267.6 L732.2,267.6 L732.8,267.7 L733.5,267.7 L734.1,267.8 L734.7,267.8 L735.3,267.9 L735.9,267.9 L736.5,268.0 L737.1,268.0 L737.7,268.1 L738.4,268.1 L739.0,268.2 L739.6,268.2 L740.2,268.3 L740.8,268.3 L741.4,268.4 L742.0,268.4 L742.6,268.4 L743.2,268.5 L743.8,268.5 L744.5,268.6 L745.1,268.6 L745.7,268.7 L746.3,268.7 L746.9,268.7 L747.5,268.8 L748.1,268.8 L748.7,268.9 L749.3,268.9 L749.9,268.9 L750.5,269.0 L751.1,269.0 L751.7,269.1 L752.3,269.1 L752.9,269.1 L753.5,269.2 L754.1,269.2 L754.7,269.2 L755.3,269.3 L755.9,269.3 L756.5,269.3 L757.1,269.4 L757.7,269.4 L758.3,269.4 L758.9,269.5 L759.5,269.5 L760.0,269.5 L760.6,269.6 L761.2,269.6 L761.8,269.6 L762.4,269.7 L763.0,269.7 L763.6,269.7 L764.2,269.8 L764.8,269.8 L765.4,269.8 L766.0,269.8 L766.6,269.9 L767.2,269.9 L767.8,269.9 L768.4,269.9 L769.0,270.0 L769.6,270.0 L770.2,270.0 L770.8,270.1 L771.4,270.1 L772.0,270.1 L772.6,270.1 L773.2,270.2 L773.8,270.2 L774.4,270.2 L775.0,270.2 L775.6,270.3 L776.2,270.3 L776.8,270.3 L777.4,270.3 L778.0,270.4 L778.6,270.4 L779.2,270.4 L779.8,270.4 L780.4,270.5 L781.0,270.5 L781.6,270.5 L782.3,270.5 L782.9,270.6 L783.5,270.6 L784.1,270.6 L784.7,270.6 L785.4,270.7 L786.0,270.7 L786.6,270.7 L787.2,270.7 L787.8,270.7 L788.3,270.8 L788.9,270.8 L789.5,270.8 L790.1,270.8 L790.6,270.9 L791.2,270.9 L791.8,270.9 L792.4,270.9 L792.9,270.9 L793.5,271.0 L794.1,271.0 L794.7,271.0 L795.2,271.0 L795.8,271.0 L796.4,271.1 L797.0,271.1 L797.6,271.1 L798.1,271.1 L798.7,271.2 L799.3,271.2 L799.9,271.2 L800.4,271.2 L801.0,271.2 L801.6,271.3 L802.2,271.3 L802.8,271.3 L803.3,271.3 L803.9,271.3 L804.5,271.3 L805.1,271.4 L805.7,271.4 L806.3,271.4 L806.9,271.4 L807.4,271.4 L808.0,271.5 L808.6,271.5 L809.2,271.5 L809.8,271.5 L810.4,271.5 L811.0,271.5 L811.6,271.6 L812.2,271.6 L812.8,271.6 L813.4,271.6 L814.0,271.6 L814.6,271.7 L815.3,271.7 L815.9,271.7 L816.5,271.7 L817.1,271.7 L817.7,271.7 L818.3,271.7 L819.0,271.8 L819.6,271.8 L820.2,271.8 L820.9,271.8 L821.5,271.8 L822.1,271.8 L822.8,271.9 L823.4,271.9 L824.1,271.9 L824.7,271.9 L825.4,271.9 L826.0,271.9 L826.7,271.9 L827.3,271.9 L828.0,272.0 L828.7,272.0 L829.3,272.0 L830.0,272.0 L830.5,272.0 L831.1,272.0 L831.6,272.0 L832.1,272.0 L832.7,272.0 L833.2,272.1 L833.8,272.1 L834.3,272.1 L834.8,272.1 L835.4,272.1 L835.9,272.1 L836.5,272.1 L837.0,272.1 L837.6,272.1 L838.1,272.1 L838.7,272.1 L839.2,272.1 L839.8,272.2 L840.4,272.2 L840.9,272.2 L841.5,272.2 L842.0,272.2 L842.6,272.2 L843.2,272.2 L843.7,272.2 L844.3,272.2 L844.9,272.2 L845.4,272.2 L846.0,272.2 L846.6,272.2 L847.2,272.2 L847.7,272.2 L848.3,272.2 L848.9,272.3 L849.5,272.3 L850.1,272.3 L850.6,272.3 L851.2,272.3 L851.8,272.3 L852.4,272.3 L853.0,272.3 L853.6,272.3 L854.2,272.3 L854.7,272.3 L855.3,272.3 L855.9,272.3 L856.5,272.3 L857.1,272.3 L857.7,272.3 L858.3,272.3 L858.9,272.3 L859.5,272.3 L860.1,272.3 L860.7,272.3 L861.3,272.3 L861.9,272.4 L862.5,272.4 L863.1,272.4 L863.7,272.4 L864.4,272.4 L865.0,272.4 L865.6,272.4 L866.2,272.4 L866.8,272.4 L867.4,272.4 L868.0,272.4 L868.6,272.4 L869.3,272.4 L869.9,272.4 L870.5,272.4 L871.1,272.4 L871.7,272.4 L872.4,272.4 L873.0,272.4 L873.6,272.4 L874.2,272.4 L874.9,272.4 L875.5,272.4 L876.1,272.4 L876.8,272.4 L877.4,272.4 L878.0,272.4 L878.6,272.4 L879.3,272.4 L879.9,272.4 L880.5,272.4 L881.2,272.4 L881.8,272.4 L882.5,272.4 L883.1,272.4 L883.7,272.4 L884.4,272.4 L885.0,272.5 L885.7,272.5 L886.3,272.5 L887.0,272.5 L887.6,272.5 L888.2,272.5 L888.9,272.5 L889.5,272.5 L890.2,272.5 L890.8,272.5 L891.5,272.5 L892.1,272.5 L892.8,272.5 L893.4,272.5 L894.1,272.5 L894.7,272.5 L895.4,272.5 L896.1,272.5 L896.7,272.5 L897.4,272.5 L898.0,272.5 L898.7,272.5 L899.3,272.5 L900.0,272.5 L900.5,272.5 L901.1,272.5 L901.6,272.5 L902.2,272.5 L902.7,272.5 L903.3,272.5 L903.8,272.5 L904.4,272.5 L904.9,272.5 L905.5,272.5 L906.1,272.5 L906.6,272.5 L907.2,272.5 L907.7,272.5 L908.3,272.5 L908.9,272.5 L909.4,272.5 L910.0,272.5 L910.6,272.5 L911.1,272.5 L911.7,272.5 L912.3,272.5 L912.8,272.5 L913.4,272.5 L914.0,272.5 L914.5,272.5 L915.1,272.5 L915.7,272.5 L916.3,272.5 L916.9,272.5 L917.4,272.5 L918.0,272.5 L918.6,272.5 L919.2,272.5 L919.8,272.5 L920.3,272.5 L920.9,272.5 L921.5,272.5 L922.1,272.5 L922.7,272.5 L923.3,272.5 L923.9,272.5 L924.4,272.5 L925.0,272.5 L925.6,272.5 L926.2,272.5 L926.8,272.5 L927.4,272.5 L928.0,272.5 L928.6,272.5 L929.2,272.5 L929.8,272.5 L930.4,272.5 L931.0,272.5 L931.6,272.5 L932.2,272.5 L932.8,272.5 L933.4,272.5 L934.0,272.5 L934.6,272.5 L935.2,272.5 L935.8,272.5 L936.4,272.5 L937.0,272.5 L937.6,272.5 L938.2,272.5 L938.8,272.5 L939.4,272.5 L940.0,272.5 L940.6,272.5 L941.2,272.5 L941.9,272.5 L942.5,272.5 L943.1,272.5 L943.7,272.5 L944.3,272.5 L944.9,272.5 L945.5,272.5 L946.1,272.5 L946.7,272.5 L947.3,272.5 L948.0,272.5 L948.6,272.5 L949.2,272.5 L949.8,272.5 L950.4,272.5 L951.0,272.5 L951.6,272.5 L952.3,272.5 L952.9,272.5 L953.5,272.5 L954.1,272.5 L954.7,272.5 L955.3,272.5 L956.0,272.5 L956.6,272.5 L957.2,272.5 L957.8,272.5 L958.4,272.5 L959.0,272.5 L959.7,272.5 L960.3,272.5 L960.9,272.5 L961.5,272.5 L962.1,272.5 L962.8,272.5 L963.4,272.5 L964.0,272.5 L964.6,272.5 L965.2,272.5 L965.8,272.5 L966.5,272.5 L967.1,272.5 L967.7,272.5 L968.3,272.5 L968.9,272.5 L969.6,272.5 L970.2,272.5 L970.8,272.5 L971.4,272.5 L972.0,272.5 L972.7,272.5 L973.3,272.5 L973.9,272.5 L974.5,272.5 L975.1,272.5 L975.7,272.5 L976.4,272.5 L977.0,272.5 L977.6,272.5 L978.2,272.5 L978.8,272.5 L979.4,272.5 L980.1,272.5 L980.7,272.5 L981.3,272.5 L981.9,272.5 L982.5,272.5 L983.1,272.5 L983.8,272.5 L984.4,272.5 L985.0,272.5 L985.6,272.5 L986.2,272.5 L986.8,272.5 L987.4,272.5 L988.0,272.5 L988.7,272.5 L989.3,272.5 L989.9,272.5 L990.5,272.5 L991.1,272.5 L991.7,272.5 L992.3,272.5 L992.9,272.5 L993.5,272.5 L994.1,272.5 L994.8,272.5 L995.4,272.5 L996.0,272.5 L996.6,272.5 L997.2,272.5 L997.8,272.5 L998.4,272.5 L999.0,272.5 L999.6,272.5 L1000.2,272.5 L1000.8,272.5 L1001.4,272.5 L1002.0,272.5" stroke="#8e9a2c" stroke-width="2.3" fill="none" stroke-dasharray="15 7"/>
<path d="M330.6,272.2 L331.1,271.8 L331.5,271.3 L332.0,270.9 L332.4,270.4 L332.9,269.9 L333.3,269.5 L333.8,269.0 L334.3,268.6 L334.7,268.2 L335.2,267.8 L335.7,267.5 L336.2,267.2 L336.8,266.9 L337.4,266.7 L337.9,266.5 L338.5,266.4 L339.1,266.3 L339.8,266.2 L340.4,266.1 L341.1,266.0 L341.8,266.0 L342.3,266.0 L342.9,266.0 L343.4,266.0 L344.0,266.0 L344.6,266.0 L345.2,266.1 L345.9,266.2 L346.5,266.2 L347.2,266.3 L347.8,266.4 L348.5,266.5 L349.1,266.5 L349.8,266.6 L350.4,266.7 L351.1,266.7 L351.7,266.8 L352.4,266.9 L353.0,266.9 L353.6,266.9 L354.2,267.0 L354.9,267.0 L355.5,267.0 L356.1,267.1 L356.7,267.1 L357.4,267.1 L358.0,267.1 L358.6,267.2 L359.2,267.2 L359.8,267.2 L360.5,267.2 L361.1,267.2 L361.7,267.2 L362.3,267.2 L363.0,267.2 L363.6,267.2 L364.2,267.2 L364.8,267.2 L365.4,267.2 L366.1,267.1 L366.7,267.1 L367.3,267.1 L367.9,267.0 L368.6,267.0 L369.2,267.0 L369.8,266.9 L370.4,266.9 L371.0,266.8 L371.7,266.8 L372.3,266.7 L372.9,266.6 L373.5,266.6 L374.2,266.5 L374.8,266.5 L375.4,266.4 L376.0,266.3 L376.7,266.3 L377.3,266.2 L377.9,266.1 L378.5,266.1 L379.2,266.0 L379.8,265.9 L380.4,265.9 L381.1,265.8 L381.7,265.7 L382.3,265.6 L382.9,265.5 L383.5,265.4 L384.2,265.3 L384.8,265.2 L385.4,265.1 L386.0,265.0 L386.6,264.9 L387.2,264.8 L387.8,264.6 L388.4,264.5 L389.0,264.4 L389.6,264.2 L390.2,264.1 L390.8,264.0 L391.4,263.8 L392.0,263.6 L392.6,263.5 L393.2,263.3 L393.8,263.1 L394.3,262.9 L394.9,262.7 L395.5,262.5 L396.0,262.3 L396.6,262.1 L397.2,261.9 L397.7,261.6 L398.3,261.4 L398.8,261.1 L399.4,260.8 L399.9,260.6 L400.4,260.3 L401.0,260.0 L401.5,259.7 L402.0,259.4 L402.6,259.1 L403.1,258.8 L403.6,258.4 L404.1,258.1 L404.6,257.8 L405.1,257.4 L405.6,257.1 L406.1,256.8 L406.6,256.4 L407.1,256.0 L407.5,255.7 L408.0,255.3 L408.5,254.9 L408.9,254.5 L409.4,254.1 L409.9,253.7 L410.3,253.3 L410.8,252.9 L411.2,252.5 L411.7,252.1 L412.1,251.6 L412.5,251.2 L413.0,250.8 L413.4,250.4 L413.8,250.0 L414.3,249.5 L414.7,249.1 L415.2,248.6 L415.6,248.1 L416.0,247.6 L416.5,247.2 L416.9,246.7 L417.3,246.2 L417.7,245.7 L418.1,245.3 L418.6,244.8 L419.0,244.4 L419.4,243.9 L419.8,243.5 L420.2,243.1 L420.7,242.6 L421.1,242.2 L421.6,241.7 L422.0,241.3 L422.4,240.8 L422.9,240.4 L423.3,240.0 L423.8,239.6 L424.2,239.2 L424.7,238.8 L425.2,238.4 L425.7,238.1 L426.2,237.8 L426.8,237.5 L427.3,237.2 L427.9,236.9 L428.4,236.7 L429.0,236.5 L429.6,236.2 L430.2,236.0 L430.8,235.8 L431.3,235.6 L431.9,235.5 L432.5,235.3 L433.1,235.1 L433.7,235.0 L434.3,234.9 L435.0,234.8 L435.6,234.7 L436.2,234.6 L436.8,234.5 L437.4,234.4 L438.0,234.4 L438.6,234.3 L439.2,234.3 L439.9,234.3 L440.6,234.2 L441.2,234.2 L441.9,234.2 L442.5,234.3 L443.2,234.3 L443.8,234.4 L444.5,234.6 L445.0,234.8 L445.6,235.0 L446.1,235.2 L446.7,235.5 L447.2,235.9 L447.7,236.2 L448.3,236.5 L448.9,236.8 L449.4,237.2 L450.0,237.5 L450.6,237.8 L451.2,238.0 L451.7,238.2 L452.3,238.4 L452.9,238.5 L453.5,238.7 L454.1,238.8 L454.6,239.0 L455.3,239.1 L455.9,239.2 L456.5,239.4 L457.1,239.5 L457.7,239.6 L458.3,239.8 L458.9,239.9 L459.5,240.0 L460.1,240.2 L460.7,240.4 L461.3,240.6 L461.9,240.8 L462.5,241.1 L463.2,241.3 L463.8,241.6 L464.4,241.8 L465.0,242.0 L465.6,242.3 L466.2,242.5 L466.8,242.6 L467.4,242.8 L468.0,242.9 L468.5,243.0 L469.1,243.0 L469.8,243.0 L470.4,242.9 L471.0,242.8 L471.7,242.7 L472.3,242.5 L472.9,242.3 L473.5,242.1 L474.1,241.8 L474.7,241.5 L475.2,241.2 L475.8,240.8 L476.2,240.5 L476.6,240.1 L477.0,239.7 L477.4,239.3 L477.8,238.8 L478.2,238.3 L478.6,237.8 L479.0,237.3 L479.3,236.8 L479.7,236.2 L480.1,235.6 L480.4,235.1 L480.8,234.5 L481.1,234.0 L481.5,233.4 L481.8,232.8 L482.2,232.3 L482.5,231.8 L482.9,231.3 L483.2,230.8 L483.6,230.2 L483.9,229.7 L484.3,229.2 L484.6,228.6 L485.0,228.1 L485.3,227.6 L485.6,227.0 L486.0,226.5 L486.3,226.0 L486.6,225.4 L486.9,224.9 L487.2,224.4 L487.5,223.8 L487.8,223.3 L488.1,222.8 L488.4,222.2 L488.7,221.7 L488.9,221.1 L489.1,220.5 L489.4,220.0 L489.6,219.4 L489.8,218.8 L490.0,218.3 L490.3,217.7 L490.5,217.2 L490.7,216.6 L491.0,216.1 L491.2,215.5 L491.5,215.0 L491.8,214.5 L492.2,213.9 L492.5,213.4 L492.9,212.9 L493.3,212.5 L493.6,212.0 L494.0,211.5 L494.4,211.0 L494.8,210.5 L495.1,210.0 L495.4,209.4 L495.7,208.9 L496.0,208.3 L496.2,207.8 L496.4,207.2 L496.6,206.7 L496.7,206.1 L496.9,205.6 L497.0,205.0 L497.1,204.4 L497.2,203.8 L497.4,203.2 L497.5,202.6 L497.6,202.0 L497.7,201.4 L497.8,200.7 L497.9,200.1 L498.0,199.5 L498.1,198.8 L498.2,198.2 L498.3,197.6 L498.4,197.1 L498.5,196.5 L498.6,195.9 L498.8,195.3 L498.9,194.7 L499.0,194.1 L499.1,193.5 L499.2,192.9 L499.3,192.3 L499.4,191.7 L499.5,191.1 L499.6,190.5 L499.7,189.9 L499.8,189.2 L499.9,188.6 L500.0,188.0 L500.1,187.4 L500.2,186.7 L500.3,186.1 L500.4,185.4 L500.5,184.8 L500.6,184.2 L500.6,183.7 L500.7,183.1 L500.8,182.5 L500.9,181.9 L500.9,181.3 L501.0,180.7 L501.0,180.1 L501.1,179.5 L501.2,178.9 L501.2,178.3 L501.3,177.7 L501.3,177.1 L501.4,176.5 L501.4,175.9 L501.5,175.3 L501.6,174.7 L501.6,174.1 L501.7,173.5 L501.7,172.9 L501.8,172.2 L501.8,171.6 L501.9,171.0 L501.9,170.4 L502.0,169.8 L502.0,169.2 L502.1,168.6 L502.1,168.0 L502.1,167.4 L502.2,166.8 L502.2,166.2 L502.3,165.6 L502.3,165.0 L502.4,164.3 L502.4,163.7 L502.5,163.1 L502.5,162.5 L502.5,161.9 L502.6,161.2 L502.6,160.6 L502.7,160.0 L502.7,159.4 L502.7,158.8 L502.8,158.2 L502.8,157.6 L502.8,157.0 L502.9,156.3 L502.9,155.8 L502.9,155.2 L503.0,154.6 L503.0,154.0 L503.1,153.4 L503.1,152.9 L503.1,152.3 L503.2,151.7 L503.2,151.2 L503.2,150.5 L503.3,149.9 L503.3,149.3 L503.4,148.7 L503.4,148.2 L503.5,147.6 L503.5,147.1 L503.6,146.5 L503.6,146.0 L503.7,145.4 L503.7,144.8 L503.8,144.3 L503.8,143.6 L503.8,143.0 L503.9,142.3 L503.9,141.6 L504.0,140.8 L504.0,140.0 L504.0,139.6 L504.0,139.2 L504.0,138.8 L504.1,138.4 L504.1,137.9 L504.1,137.5 L504.1,137.0 L504.1,136.6 L504.1,136.1 L504.1,135.6 L504.2,135.1 L504.2,134.6 L504.2,134.1 L504.2,133.6 L504.2,133.1 L504.2,132.5 L504.2,132.0 L504.2,131.5 L504.3,130.9 L504.3,130.3 L504.3,129.8 L504.3,129.2 L504.3,128.6 L504.3,128.0 L504.3,127.4 L504.3,126.8 L504.3,126.2 L504.3,125.6 L504.4,125.0 L504.4,124.3 L504.4,123.7 L504.4,123.1 L504.4,122.4 L504.4,121.8 L504.4,121.1 L504.4,120.5 L504.4,119.8 L504.4,119.2 L504.4,118.5 L504.4,117.9 L504.5,117.2 L504.5,116.5 L504.5,115.9 L504.5,115.2 L504.5,114.5 L504.5,113.8 L504.5,113.2 L504.5,112.5 L504.5,111.8 L504.5,111.1 L504.5,110.4 L504.5,109.8 L504.5,109.1 L504.5,108.4 L504.5,107.7 L504.6,107.1 L504.6,106.4 L504.6,105.7 L504.6,105.0 L504.6,104.3 L504.6,103.7 L504.6,103.0 L504.6,102.3 L504.6,101.7 L504.6,101.0 L504.6,100.3 L504.6,99.7 L504.6,99.0 L504.7,98.4 L504.7,97.7 L504.7,97.1 L504.7,96.4 L504.7,95.8 L504.7,95.2 L504.7,94.6 L504.7,93.9 L504.7,93.3 L504.7,92.7 L504.7,92.1 L504.7,91.5 L504.8,90.9 L504.8,90.3 L504.8,89.7 L504.8,89.2 L504.8,88.6 L504.8,88.0 L504.8,87.3 L504.8,86.7 L504.9,86.0 L504.9,85.4 L504.9,84.7 L504.9,84.1 L504.9,83.4 L504.9,82.8 L504.9,82.2 L504.9,81.5 L505.0,80.9 L505.0,80.2 L505.0,79.6 L505.0,78.9 L505.0,78.3 L505.0,77.7 L505.0,77.0 L505.1,76.4 L505.1,75.7 L505.1,75.1 L505.1,74.5 L505.1,73.8 L505.1,73.2 L505.2,72.6 L505.2,71.9 L505.2,71.3 L505.2,70.7 L505.2,70.0 L505.2,69.4 L505.2,68.8 L505.3,68.2 L505.3,67.6 L505.3,67.0 L505.3,66.3 L505.3,65.7 L505.3,65.1 L505.3,64.5 L505.4,63.9 L505.4,63.3 L505.4,62.7 L505.4,62.1 L505.4,61.5 L505.4,60.9 L505.4,60.4 L505.5,59.8 L505.5,59.2 L505.5,58.6 L505.5,58.1 L505.5,57.5 L505.5,56.9 L505.5,56.4 L505.6,55.8 L505.6,55.3 L505.6,54.7 L505.6,54.2 L505.6,53.6 L505.6,53.1 L505.6,52.6 L505.6,52.1 L505.7,51.5 L505.7,51.0 L505.7,50.5 L505.7,50.0 L505.7,49.5 L505.7,48.8 L505.7,48.1 L505.7,47.4 L505.8,46.7 L505.8,46.1 L505.8,45.4 L505.8,44.8 L505.8,44.2 L505.8,43.5 L505.8,42.9 L505.9,42.3 L505.9,41.7 L505.9,41.1 L505.9,40.5 L505.9,39.9 L505.9,39.3 L505.9,38.8 L505.9,38.2 L506.0,37.6 L506.0,37.0 L506.0,36.5 L506.0,35.9 L506.0,35.3 L506.0,34.7 L506.0,34.2 L506.0,33.6 L506.1,33.0 L506.1,32.4 L506.1,31.8 L506.1,31.2 L506.1,30.6 L506.1,30.0 L506.1,29.4 L506.1,28.8 L506.1,28.2 L506.1,27.6 L506.1,27.0 L506.1,26.4 L506.2,25.8 L506.2,25.2 L506.2,24.6 L506.2,24.0 L506.2,23.4 L506.2,22.7 L506.2,22.1 L506.2,21.5 L506.2,20.9 L506.2,20.3 L506.2,19.7 L506.2,19.1 L506.2,18.5 L506.2,17.9 L506.2,17.3 L506.2,16.7 L506.2,16.1 L506.3,15.5 L506.3,14.9 L506.3,14.2 L506.3,13.6 L506.3,13.0 L506.3,12.4 L506.3,11.8 L506.3,11.2 L506.3,10.6 L506.3,10.0" stroke="#151515" stroke-width="2.4" fill="none"/>
<path d="M517.6,10.0 L517.6,10.6 L517.6,11.2 L517.6,11.8 L517.6,12.4 L517.6,13.0 L517.7,13.5 L517.7,14.1 L517.7,14.7 L517.7,15.3 L517.7,15.8 L517.7,16.4 L517.7,17.0 L517.7,17.6 L517.7,18.1 L517.7,18.7 L517.7,19.3 L517.7,19.9 L517.7,20.5 L517.8,21.1 L517.8,21.6 L517.8,22.2 L517.8,22.8 L517.8,23.5 L517.8,24.1 L517.8,24.7 L517.8,25.3 L517.8,26.0 L517.8,26.6 L517.9,27.3 L517.9,27.9 L517.9,28.6 L517.9,29.3 L517.9,30.0 L517.9,30.5 L517.9,31.0 L517.9,31.5 L517.9,32.1 L517.9,32.6 L518.0,33.1 L518.0,33.6 L518.0,34.2 L518.0,34.7 L518.0,35.3 L518.0,35.8 L518.0,36.4 L518.0,37.0 L518.0,37.5 L518.0,38.1 L518.0,38.7 L518.1,39.3 L518.1,39.9 L518.1,40.5 L518.1,41.0 L518.1,41.6 L518.1,42.2 L518.1,42.8 L518.1,43.5 L518.1,44.1 L518.1,44.7 L518.2,45.3 L518.2,45.9 L518.2,46.5 L518.2,47.1 L518.2,47.8 L518.2,48.4 L518.2,49.0 L518.2,49.6 L518.3,50.3 L518.3,50.9 L518.3,51.5 L518.3,52.1 L518.3,52.8 L518.3,53.4 L518.3,54.0 L518.3,54.7 L518.4,55.3 L518.4,55.9 L518.4,56.6 L518.4,57.2 L518.4,57.8 L518.4,58.5 L518.5,59.1 L518.5,59.7 L518.5,60.4 L518.5,61.0 L518.5,61.6 L518.6,62.2 L518.6,62.9 L518.6,63.5 L518.6,64.1 L518.6,64.7 L518.7,65.3 L518.7,66.0 L518.7,66.6 L518.7,67.2 L518.8,67.8 L518.8,68.4 L518.8,69.0 L518.8,69.6 L518.9,70.2 L518.9,70.8 L518.9,71.4 L518.9,72.0 L519.0,72.6 L519.0,73.2 L519.0,73.9 L519.1,74.5 L519.1,75.1 L519.1,75.7 L519.2,76.3 L519.2,76.9 L519.2,77.6 L519.3,78.2 L519.3,78.8 L519.3,79.4 L519.4,80.0 L519.4,80.6 L519.4,81.3 L519.5,81.9 L519.5,82.5 L519.6,83.1 L519.6,83.7 L519.6,84.4 L519.7,85.0 L519.7,85.6 L519.8,86.2 L519.8,86.8 L519.8,87.5 L519.9,88.1 L519.9,88.7 L520.0,89.3 L520.0,89.9 L520.0,90.5 L520.1,91.2 L520.1,91.8 L520.2,92.4 L520.2,93.0 L520.2,93.6 L520.3,94.2 L520.3,94.8 L520.4,95.4 L520.4,96.0 L520.5,96.6 L520.5,97.2 L520.5,97.8 L520.6,98.4 L520.6,99.0 L520.7,99.6 L520.7,100.2 L520.7,100.7 L520.8,101.3 L520.8,101.9 L520.8,102.5 L520.9,103.1 L520.9,103.6 L521.0,104.2 L521.0,104.8 L521.0,105.3 L521.1,105.9 L521.1,106.4 L521.1,107.0 L521.2,107.6 L521.2,108.1 L521.2,108.8 L521.3,109.4 L521.3,110.1 L521.4,110.7 L521.4,111.4 L521.4,112.0 L521.5,112.7 L521.5,113.3 L521.5,114.0 L521.6,114.6 L521.6,115.2 L521.7,115.9 L521.7,116.5 L521.7,117.1 L521.8,117.8 L521.8,118.4 L521.8,119.0 L521.9,119.6 L521.9,120.2 L521.9,120.8 L522.0,121.4 L522.0,122.0 L522.0,122.6 L522.1,123.2 L522.1,123.8 L522.1,124.4 L522.2,125.0 L522.2,125.6 L522.2,126.2 L522.3,126.8 L522.3,127.4 L522.4,128.0 L522.4,128.6 L522.4,129.2 L522.5,129.8 L522.5,130.3 L522.5,130.9 L522.6,131.5 L522.6,132.1 L522.6,132.7 L522.7,133.3 L522.7,133.8 L522.8,134.4 L522.8,135.0 L522.8,135.6 L522.9,136.3 L522.9,136.9 L523.0,137.5 L523.0,138.2 L523.1,138.8 L523.1,139.4 L523.2,140.1 L523.2,140.7 L523.2,141.3 L523.3,141.9 L523.3,142.5 L523.4,143.2 L523.4,143.8 L523.5,144.4 L523.5,145.0 L523.6,145.6 L523.6,146.2 L523.7,146.8 L523.7,147.4 L523.8,148.0 L523.8,148.6 L523.9,149.2 L523.9,149.8 L524.0,150.4 L524.0,151.0 L524.1,151.6 L524.1,152.2 L524.1,152.8 L524.2,153.4 L524.2,153.9 L524.3,154.5 L524.3,155.1 L524.4,155.7 L524.4,156.2 L524.5,156.8 L524.6,157.4 L524.6,158.1 L524.7,158.7 L524.7,159.3 L524.8,160.0 L524.8,160.6 L524.9,161.2 L524.9,161.8 L525.0,162.4 L525.1,163.0 L525.1,163.7 L525.2,164.3 L525.2,164.9 L525.3,165.5 L525.3,166.1 L525.4,166.7 L525.5,167.2 L525.5,167.8 L525.6,168.4 L525.7,169.0 L525.7,169.6 L525.8,170.2 L525.8,170.7 L525.9,171.3 L526.0,171.9 L526.1,172.5 L526.1,173.0 L526.2,173.6 L526.3,174.2 L526.4,174.9 L526.5,175.5 L526.5,176.2 L526.6,176.8 L526.7,177.4 L526.8,178.0 L526.9,178.6 L527.0,179.3 L527.1,179.9 L527.2,180.5 L527.3,181.1 L527.4,181.7 L527.5,182.3 L527.6,182.9 L527.7,183.5 L527.8,184.1 L527.9,184.7 L528.0,185.3 L528.1,185.8 L528.3,186.4 L528.4,187.0 L528.5,187.6 L528.7,188.2 L528.8,188.9 L529.0,189.5 L529.2,190.1 L529.3,190.7 L529.5,191.3 L529.7,191.9 L529.8,192.5 L530.0,193.1 L530.2,193.7 L530.4,194.2 L530.6,194.8 L530.8,195.4 L531.0,196.0 L531.2,196.5 L531.4,197.1 L531.6,197.6 L531.8,198.2 L532.0,198.8 L532.3,199.4 L532.5,200.0 L532.8,200.6 L533.0,201.2 L533.3,201.8 L533.5,202.3 L533.8,202.9 L534.1,203.5 L534.4,204.0 L534.7,204.6 L535.0,205.1 L535.3,205.7 L535.6,206.2 L535.9,206.7 L536.3,207.2 L536.7,207.7 L537.1,208.2 L537.5,208.7 L537.9,209.2 L538.3,209.6 L538.7,210.1 L539.2,210.5 L539.6,211.0 L540.1,211.4 L540.6,211.8 L541.0,212.2 L541.5,212.7 L542.0,213.1 L542.5,213.5 L543.0,213.9 L543.5,214.3 L544.0,214.6 L544.4,215.0 L544.9,215.3 L545.4,215.7 L546.0,216.0 L546.5,216.3 L547.0,216.6 L547.5,217.0 L548.1,217.3 L548.6,217.6 L549.2,218.0 L549.7,218.3 L550.3,218.7 L550.8,219.0 L551.4,219.4 L552.0,219.8 L552.4,220.1 L552.9,220.4 L553.4,220.8 L553.8,221.1 L554.3,221.5 L554.8,221.8 L555.3,222.2 L555.8,222.6 L556.2,222.9 L556.7,223.3 L557.2,223.7 L557.8,224.1 L558.3,224.5 L558.8,224.9 L559.3,225.3 L559.8,225.7 L560.3,226.1 L560.8,226.4 L561.3,226.8 L561.9,227.2 L562.4,227.6 L562.9,228.0 L563.4,228.3 L563.9,228.7 L564.4,229.1 L564.9,229.4 L565.4,229.7 L565.9,230.1 L566.4,230.4 L566.9,230.7 L567.5,231.1 L568.0,231.4 L568.5,231.7 L569.0,232.0 L569.5,232.4 L570.1,232.7 L570.6,233.0 L571.1,233.3 L571.6,233.6 L572.1,233.9 L572.7,234.1 L573.2,234.4 L573.7,234.7 L574.2,235.0 L574.7,235.3 L575.3,235.5 L575.8,235.8 L576.3,236.1 L576.8,236.3 L577.4,236.6 L577.9,236.9 L578.5,237.1 L579.0,237.4 L579.5,237.7 L580.1,237.9 L580.6,238.1 L581.1,238.4 L581.7,238.6 L582.2,238.9 L582.8,239.1 L583.3,239.3 L583.8,239.5 L584.4,239.8 L584.9,240.0 L585.5,240.2 L586.0,240.4 L586.6,240.6 L587.1,240.9 L587.7,241.1 L588.3,241.3 L588.8,241.5 L589.4,241.7 L590.0,241.9 L590.6,242.1 L591.2,242.4 L591.8,242.6 L592.4,242.8 L593.0,243.0 L593.5,243.2 L594.1,243.4 L594.6,243.5 L595.1,243.7 L595.7,243.9 L596.2,244.1 L596.7,244.3 L597.3,244.4 L597.9,244.6 L598.4,244.8 L599.0,245.0 L599.5,245.2 L600.1,245.3 L600.7,245.5 L601.3,245.7 L601.8,245.9 L602.4,246.1 L603.0,246.2 L603.6,246.4 L604.2,246.6 L604.8,246.8 L605.4,246.9 L606.0,247.1 L606.6,247.3 L607.2,247.4 L607.8,247.6 L608.4,247.8 L609.0,248.0 L609.6,248.1 L610.3,248.3 L610.9,248.5 L611.5,248.6 L612.1,248.8 L612.7,249.0 L613.4,249.1 L614.0,249.3 L614.6,249.4 L615.1,249.6 L615.7,249.7 L616.2,249.9 L616.8,250.0 L617.3,250.2 L617.9,250.3 L618.5,250.4 L619.0,250.6 L619.6,250.7 L620.2,250.9 L620.7,251.0 L621.3,251.2 L621.9,251.3 L622.5,251.4 L623.0,251.6 L623.6,251.7 L624.2,251.8 L624.8,252.0 L625.4,252.1 L626.0,252.3 L626.6,252.4 L627.2,252.5 L627.8,252.7 L628.3,252.8 L628.9,252.9 L629.5,253.1 L630.2,253.2 L630.8,253.3 L631.4,253.5 L632.0,253.6 L632.6,253.7 L633.2,253.9 L633.8,254.0 L634.4,254.1 L635.0,254.2 L635.7,254.4 L636.3,254.5 L636.9,254.6 L637.5,254.7 L638.2,254.9 L638.8,255.0 L639.4,255.1 L640.1,255.2 L640.7,255.4 L641.4,255.5 L642.0,255.6 L642.5,255.7 L643.1,255.8 L643.7,255.9 L644.2,256.0 L644.8,256.1 L645.3,256.2 L645.9,256.3 L646.5,256.4 L647.1,256.5 L647.6,256.6 L648.2,256.7 L648.8,256.8 L649.4,256.9 L650.0,257.0 L650.6,257.1 L651.2,257.1 L651.7,257.2 L652.3,257.3 L652.9,257.4 L653.5,257.5 L654.1,257.6 L654.7,257.7 L655.3,257.8 L656.0,257.9 L656.6,258.0 L657.2,258.0 L657.8,258.1 L658.4,258.2 L659.0,258.3 L659.6,258.4 L660.2,258.5 L660.8,258.6 L661.4,258.6 L662.1,258.7 L662.7,258.8 L663.3,258.9 L663.9,259.0 L664.5,259.1 L665.1,259.1 L665.7,259.2 L666.3,259.3 L666.9,259.4 L667.6,259.5 L668.2,259.6 L668.8,259.6 L669.4,259.7 L670.0,259.8 L670.6,259.9 L671.2,260.0 L671.8,260.1 L672.4,260.1 L673.0,260.2 L673.6,260.3 L674.2,260.4 L674.8,260.5 L675.4,260.5 L676.0,260.6 L676.5,260.7 L677.1,260.8 L677.7,260.9 L678.3,261.0 L678.9,261.0 L679.4,261.1 L680.0,261.2 L680.6,261.3 L681.3,261.4 L681.9,261.5 L682.5,261.6 L683.1,261.7 L683.7,261.7 L684.3,261.8 L684.9,261.9 L685.5,262.0 L686.2,262.1 L686.8,262.2 L687.4,262.3 L688.0,262.4 L688.6,262.5 L689.2,262.6 L689.8,262.6 L690.3,262.7 L690.9,262.8 L691.5,262.9 L692.1,263.0 L692.7,263.1 L693.3,263.2 L693.9,263.3 L694.5,263.4 L695.1,263.4 L695.7,263.5 L696.3,263.6 L696.8,263.7 L697.4,263.8 L698.0,263.9 L698.6,264.0 L699.2,264.1 L699.8,264.1 L700.4,264.2 L701.0,264.3 L701.6,264.4 L702.2,264.5 L702.8,264.6 L703.4,264.6 L704.0,264.7 L704.6,264.8 L705.2,264.9 L705.8,265.0 L706.4,265.0 L707.0,265.1 L707.6,265.2 L708.2,265.3 L708.8,265.3 L709.4,265.4 L710.0,265.5 L710.7,265.6 L711.3,265.6 L711.9,265.7 L712.5,265.8 L713.1,265.8 L713.6,265.9 L714.2,266.0 L714.8,266.0 L715.4,266.1 L716.0,266.1 L716.6,266.2 L717.2,266.3 L717.8,266.3 L718.4,266.4 L718.9,266.4 L719.5,266.5 L720.1,266.6 L720.7,266.6 L721.3,266.7 L721.9,266.7 L722.5,266.8 L723.1,266.9 L723.7,266.9 L724.3,267.0 L724.9,267.0 L725.5,267.1 L726.2,267.1 L726.8,267.2 L727.4,267.2 L728.0,267.3 L728.6,267.3 L729.2,267.4 L729.8,267.4 L730.4,267.5 L731.0,267.5 L731.6,267.6 L732.2,267.6 L732.8,267.7 L733.5,267.7 L734.1,267.8 L734.7,267.8 L735.3,267.9 L735.9,267.9 L736.5,268.0 L737.1,268.0 L737.7,268.1 L738.4,268.1 L739.0,268.2 L739.6,268.2 L740.2,268.3 L740.8,268.3 L741.4,268.4 L742.0,268.4 L742.6,268.4 L743.2,268.5 L743.8,268.5 L744.5,268.6 L745.1,268.6 L745.7,268.7 L746.3,268.7 L746.9,268.7 L747.5,268.8 L748.1,268.8 L748.7,268.9 L749.3,268.9 L749.9,268.9 L750.5,269.0 L751.1,269.0 L751.7,269.1 L752.3,269.1 L752.9,269.1 L753.5,269.2 L754.1,269.2 L754.7,269.2 L755.3,269.3 L755.9,269.3 L756.5,269.3 L757.1,269.4 L757.7,269.4 L758.3,269.4 L758.9,269.5 L759.5,269.5 L760.0,269.5 L760.6,269.6 L761.2,269.6 L761.8,269.6 L762.4,269.7 L763.0,269.7 L763.6,269.7 L764.2,269.8 L764.8,269.8 L765.4,269.8 L766.0,269.8 L766.6,269.9 L767.2,269.9 L767.8,269.9 L768.4,269.9 L769.0,270.0 L769.6,270.0 L770.2,270.0 L770.8,270.1 L771.4,270.1 L772.0,270.1 L772.6,270.1 L773.2,270.2 L773.8,270.2 L774.4,270.2 L775.0,270.2 L775.6,270.3 L776.2,270.3 L776.8,270.3 L777.4,270.3 L778.0,270.4 L778.6,270.4 L779.2,270.4 L779.8,270.4 L780.4,270.5 L781.0,270.5 L781.6,270.5 L782.3,270.5 L782.9,270.6 L783.5,270.6 L784.1,270.6 L784.7,270.6 L785.4,270.7 L786.0,270.7 L786.6,270.7 L787.2,270.7 L787.8,270.7 L788.3,270.8 L788.9,270.8 L789.5,270.8 L790.1,270.8 L790.6,270.9 L791.2,270.9 L791.8,270.9 L792.4,270.9 L792.9,270.9 L793.5,271.0 L794.1,271.0 L794.7,271.0 L795.2,271.0 L795.8,271.0 L796.4,271.1 L797.0,271.1 L797.6,271.1 L798.1,271.1 L798.7,271.2 L799.3,271.2 L799.9,271.2 L800.4,271.2 L801.0,271.2 L801.6,271.3 L802.2,271.3 L802.8,271.3 L803.3,271.3 L803.9,271.3 L804.5,271.3 L805.1,271.4 L805.7,271.4 L806.3,271.4 L806.9,271.4 L807.4,271.4 L808.0,271.5 L808.6,271.5 L809.2,271.5 L809.8,271.5 L810.4,271.5 L811.0,271.5 L811.6,271.6 L812.2,271.6 L812.8,271.6 L813.4,271.6 L814.0,271.6 L814.6,271.7 L815.3,271.7 L815.9,271.7 L816.5,271.7 L817.1,271.7 L817.7,271.7 L818.3,271.7 L819.0,271.8 L819.6,271.8 L820.2,271.8 L820.9,271.8 L821.5,271.8 L822.1,271.8 L822.8,271.9 L823.4,271.9 L824.1,271.9 L824.7,271.9 L825.4,271.9 L826.0,271.9 L826.7,271.9 L827.3,271.9 L828.0,272.0 L828.7,272.0 L829.3,272.0 L830.0,272.0 L830.5,272.0 L831.1,272.0 L831.6,272.0 L832.1,272.0 L832.7,272.0 L833.2,272.1 L833.8,272.1 L834.3,272.1 L834.8,272.1 L835.4,272.1 L835.9,272.1 L836.5,272.1 L837.0,272.1 L837.6,272.1 L838.1,272.1 L838.7,272.1 L839.2,272.1 L839.8,272.2 L840.4,272.2 L840.9,272.2 L841.5,272.2 L842.0,272.2 L842.6,272.2 L843.2,272.2 L843.7,272.2 L844.3,272.2 L844.9,272.2 L845.4,272.2 L846.0,272.2 L846.6,272.2 L847.2,272.2 L847.7,272.2 L848.3,272.2 L848.9,272.3 L849.5,272.3 L850.1,272.3 L850.6,272.3 L851.2,272.3 L851.8,272.3 L852.4,272.3 L853.0,272.3 L853.6,272.3 L854.2,272.3 L854.7,272.3 L855.3,272.3 L855.9,272.3 L856.5,272.3 L857.1,272.3 L857.7,272.3 L858.3,272.3 L858.9,272.3 L859.5,272.3 L860.1,272.3 L860.7,272.3 L861.3,272.3 L861.9,272.4 L862.5,272.4 L863.1,272.4 L863.7,272.4 L864.4,272.4 L865.0,272.4 L865.6,272.4 L866.2,272.4 L866.8,272.4 L867.4,272.4 L868.0,272.4 L868.6,272.4 L869.3,272.4 L869.9,272.4 L870.5,272.4 L871.1,272.4 L871.7,272.4 L872.4,272.4 L873.0,272.4 L873.6,272.4 L874.2,272.4 L874.9,272.4 L875.5,272.4 L876.1,272.4 L876.8,272.4 L877.4,272.4 L878.0,272.4 L878.6,272.4 L879.3,272.4 L879.9,272.4 L880.5,272.4 L881.2,272.4 L881.8,272.4 L882.5,272.4 L883.1,272.4 L883.7,272.4 L884.4,272.4 L885.0,272.5 L885.7,272.5 L886.3,272.5 L887.0,272.5 L887.6,272.5 L888.2,272.5 L888.9,272.5 L889.5,272.5 L890.2,272.5 L890.8,272.5 L891.5,272.5 L892.1,272.5 L892.8,272.5 L893.4,272.5 L894.1,272.5 L894.7,272.5 L895.4,272.5 L896.1,272.5 L896.7,272.5 L897.4,272.5 L898.0,272.5 L898.7,272.5 L899.3,272.5 L900.0,272.5 L900.5,272.5 L901.1,272.5 L901.6,272.5 L902.2,272.5 L902.7,272.5 L903.3,272.5 L903.8,272.5 L904.4,272.5 L904.9,272.5 L905.5,272.5 L906.1,272.5 L906.6,272.5 L907.2,272.5 L907.7,272.5 L908.3,272.5 L908.9,272.5 L909.4,272.5 L910.0,272.5 L910.6,272.5 L911.1,272.5 L911.7,272.5 L912.3,272.5 L912.8,272.5 L913.4,272.5 L914.0,272.5 L914.5,272.5 L915.1,272.5 L915.7,272.5 L916.3,272.5 L916.9,272.5 L917.4,272.5 L918.0,272.5 L918.6,272.5 L919.2,272.5 L919.8,272.5 L920.3,272.5 L920.9,272.5 L921.5,272.5 L922.1,272.5 L922.7,272.5 L923.3,272.5 L923.9,272.5 L924.4,272.5 L925.0,272.5 L925.6,272.5 L926.2,272.5 L926.8,272.5 L927.4,272.5 L928.0,272.5 L928.6,272.5 L929.2,272.5 L929.8,272.5 L930.4,272.5 L931.0,272.5 L931.6,272.5 L932.2,272.5 L932.8,272.5 L933.4,272.5 L934.0,272.5 L934.6,272.5 L935.2,272.5 L935.8,272.5 L936.4,272.5 L937.0,272.5 L937.6,272.5 L938.2,272.5 L938.8,272.5 L939.4,272.5 L940.0,272.5 L940.6,272.5 L941.2,272.5 L941.9,272.5 L942.5,272.5 L943.1,272.5 L943.7,272.5 L944.3,272.5 L944.9,272.5 L945.5,272.5 L946.1,272.5 L946.7,272.5 L947.3,272.5 L948.0,272.5 L948.6,272.5 L949.2,272.5 L949.8,272.5 L950.4,272.5 L951.0,272.5 L951.6,272.5 L952.3,272.5 L952.9,272.5 L953.5,272.5 L954.1,272.5 L954.7,272.5 L955.3,272.5 L956.0,272.5 L956.6,272.5 L957.2,272.5 L957.8,272.5 L958.4,272.5 L959.0,272.5 L959.7,272.5 L960.3,272.5 L960.9,272.5 L961.5,272.5 L962.1,272.5 L962.8,272.5 L963.4,272.5 L964.0,272.5 L964.6,272.5 L965.2,272.5 L965.8,272.5 L966.5,272.5 L967.1,272.5 L967.7,272.5 L968.3,272.5 L968.9,272.5 L969.6,272.5 L970.2,272.5 L970.8,272.5 L971.4,272.5 L972.0,272.5 L972.7,272.5 L973.3,272.5 L973.9,272.5 L974.5,272.5 L975.1,272.5 L975.7,272.5 L976.4,272.5 L977.0,272.5 L977.6,272.5 L978.2,272.5 L978.8,272.5 L979.4,272.5 L980.1,272.5 L980.7,272.5 L981.3,272.5 L981.9,272.5 L982.5,272.5 L983.1,272.5 L983.8,272.5 L984.4,272.5 L985.0,272.5 L985.6,272.5 L986.2,272.5 L986.8,272.5 L987.4,272.5 L988.0,272.5 L988.7,272.5 L989.3,272.5 L989.9,272.5 L990.5,272.5 L991.1,272.5 L991.7,272.5 L992.3,272.5 L992.9,272.5 L993.5,272.5 L994.1,272.5 L994.8,272.5 L995.4,272.5 L996.0,272.5 L996.6,272.5 L997.2,272.5 L997.8,272.5 L998.4,272.5 L999.0,272.5 L999.6,272.5 L1000.2,272.5 L1000.8,272.5 L1001.4,272.5 L1002.0,272.5" stroke="#151515" stroke-width="2.4" fill="none"/>
<path d="M384.5,272.6 L385.1,272.5 L385.7,272.4 L386.2,272.3 L386.8,272.2 L387.3,272.1 L387.9,272.0 L388.5,271.8 L389.2,271.7 L389.9,271.6 L390.4,271.5 L390.9,271.4 L391.4,271.3 L392.0,271.2 L392.6,271.2 L393.2,271.1 L393.8,271.0 L394.4,270.9 L395.1,270.8 L395.7,270.7 L396.4,270.6 L397.0,270.5 L397.7,270.4 L398.3,270.2 L399.0,270.1 L399.6,270.0 L400.3,269.9 L400.9,269.8 L401.6,269.7 L402.2,269.6 L402.8,269.5 L403.4,269.4 L404.0,269.3 L404.6,269.2 L405.2,269.1 L405.8,269.0 L406.4,268.9 L407.0,268.8 L407.6,268.7 L408.2,268.5 L408.8,268.4 L409.4,268.3 L410.0,268.2 L410.5,268.1 L411.1,268.0 L411.7,267.9 L412.3,267.7 L412.9,267.6 L413.4,267.5 L414.0,267.3 L414.6,267.2 L415.2,267.1 L415.8,266.9 L416.4,266.7 L417.0,266.6 L417.5,266.4 L418.1,266.3 L418.7,266.1 L419.3,265.9 L419.9,265.8 L420.5,265.6 L421.1,265.4 L421.6,265.2 L422.2,265.0 L422.8,264.8 L423.4,264.6 L424.0,264.4 L424.5,264.2 L425.1,264.0 L425.7,263.8 L426.3,263.6 L426.8,263.4 L427.4,263.2 L427.9,262.9 L428.5,262.7 L429.1,262.5 L429.6,262.2 L430.2,262.0 L430.7,261.8 L431.3,261.5 L431.8,261.3 L432.4,261.0 L433.0,260.8 L433.5,260.5 L434.1,260.2 L434.6,260.0 L435.2,259.7 L435.8,259.4 L436.3,259.1 L436.9,258.8 L437.4,258.5 L437.9,258.3 L438.5,258.0 L439.0,257.7 L439.5,257.4 L440.0,257.1 L440.6,256.8 L441.1,256.5 L441.6,256.2 L442.2,255.9 L442.7,255.6 L443.2,255.3 L443.8,255.0 L444.3,254.6 L444.8,254.3 L445.3,254.0 L445.9,253.6 L446.4,253.3 L446.9,253.0 L447.4,252.6 L448.0,252.3 L448.5,251.9 L449.0,251.5 L449.5,251.2 L450.0,250.8 L450.5,250.4 L451.0,250.1 L451.4,249.7 L451.9,249.3 L452.4,248.9 L452.9,248.5 L453.3,248.1 L453.8,247.7 L454.3,247.3 L454.7,246.9 L455.2,246.5 L455.6,246.0 L456.1,245.6 L456.6,245.2 L457.0,244.8 L457.5,244.3 L457.9,243.9 L458.4,243.5 L458.8,243.0 L459.3,242.6 L459.7,242.2 L460.2,241.7 L460.6,241.3 L461.1,240.9 L461.5,240.4 L462.0,240.0 L462.4,239.6 L462.8,239.2 L463.3,238.8 L463.7,238.3 L464.2,237.9 L464.6,237.5 L465.0,237.1 L465.5,236.6 L465.9,236.2 L466.4,235.8 L466.8,235.3 L467.2,234.9 L467.6,234.5 L468.1,234.1 L468.5,233.6 L468.9,233.2 L469.4,232.8 L469.8,232.3 L470.2,231.9 L470.6,231.5 L471.1,231.0 L471.5,230.6 L471.9,230.2 L472.3,229.7 L472.7,229.3 L473.2,228.8 L473.6,228.4 L474.0,228.0 L474.4,227.5 L474.9,227.1 L475.3,226.6 L475.7,226.2 L476.1,225.7 L476.5,225.2 L476.9,224.8 L477.3,224.3 L477.8,223.9 L478.2,223.4 L478.6,222.9 L479.0,222.5 L479.4,222.0 L479.8,221.5 L480.2,221.1 L480.6,220.6 L481.1,220.2 L481.5,219.7 L481.9,219.2 L482.3,218.8 L482.7,218.3 L483.1,217.9 L483.5,217.4 L484.0,217.0 L484.4,216.5 L484.8,216.1 L485.2,215.7 L485.7,215.2 L486.1,214.8 L486.5,214.4 L486.9,213.9 L487.4,213.5 L487.8,213.1 L488.2,212.7 L488.7,212.2 L489.1,211.8 L489.5,211.4 L490.0,211.0 L490.4,210.6 L490.8,210.1 L491.3,209.7 L491.7,209.3 L492.1,208.9 L492.6,208.5 L493.0,208.0 L493.4,207.6 L493.9,207.2 L494.3,206.8 L494.7,206.3 L495.1,205.9 L495.6,205.4 L496.0,205.0 L496.4,204.6 L496.8,204.1 L497.3,203.7 L497.7,203.2 L498.1,202.8 L498.6,202.3 L499.0,201.9 L499.4,201.5 L499.8,201.0 L500.3,200.6 L500.7,200.1 L501.1,199.7 L501.6,199.2 L502.0,198.8 L502.4,198.3 L502.8,197.8 L503.2,197.4 L503.7,196.9 L504.1,196.4 L504.5,196.0 L504.9,195.5 L505.3,195.0 L505.7,194.6 L506.1,194.1 L506.4,193.6 L506.8,193.1 L507.2,192.6 L507.6,192.1 L507.9,191.6 L508.3,191.1 L508.6,190.6 L508.9,190.1 L509.3,189.5 L509.6,189.0 L509.9,188.5 L510.3,187.9 L510.6,187.4 L510.9,186.8 L511.2,186.3 L511.5,185.7 L511.8,185.2 L512.1,184.6 L512.4,184.1 L512.7,183.5 L513.0,183.0 L513.3,182.5 L513.7,181.9 L514.0,181.4 L514.3,180.9 L514.6,180.4 L514.9,179.9 L515.2,179.5 L515.5,179.0 L515.8,178.5 L516.1,178.1 L516.5,177.5 L516.9,177.0 L517.3,176.4 L517.7,175.8 L518.1,175.2 L518.5,174.7 L518.9,174.1 L519.2,173.6 L519.6,173.1 L520.0,172.6 L520.4,172.1 L520.8,171.7 L521.2,171.3 L521.6,170.9 L522.0,170.6 L522.4,170.4 L522.8,170.2 L523.5,170.0 L524.1,169.9 L524.8,170.0 L525.5,170.1 L526.2,170.3 L526.8,170.5 L527.5,170.8 L528.0,171.0 L528.4,171.3 L528.9,171.6 L529.3,172.0 L529.8,172.4 L530.2,172.8 L530.7,173.2 L531.1,173.7 L531.6,174.2 L532.0,174.7 L532.5,175.2 L532.9,175.8 L533.2,176.2 L533.5,176.6 L533.8,177.0 L534.1,177.5 L534.4,178.0 L534.7,178.4 L535.0,178.9 L535.3,179.5 L535.7,180.0 L536.0,180.5 L536.3,181.1 L536.6,181.6 L536.9,182.2 L537.2,182.7 L537.5,183.3 L537.8,183.9 L538.1,184.4 L538.4,185.0 L538.7,185.6 L539.0,186.1 L539.3,186.7 L539.6,187.2 L539.9,187.8 L540.2,188.3 L540.5,188.8 L540.8,189.3 L541.1,189.9 L541.5,190.4 L541.8,191.0 L542.1,191.5 L542.4,192.0 L542.8,192.6 L543.1,193.1 L543.4,193.6 L543.7,194.2 L544.0,194.7 L544.4,195.2 L544.7,195.8 L545.0,196.3 L545.3,196.8 L545.6,197.3 L545.9,197.9 L546.3,198.4 L546.6,198.9 L546.9,199.4 L547.2,200.0 L547.5,200.5 L547.8,201.0 L548.1,201.6 L548.4,202.1 L548.7,202.6 L549.0,203.2 L549.3,203.7 L549.6,204.2 L549.9,204.8 L550.2,205.3 L550.5,205.8 L550.7,206.4 L551.0,206.9 L551.3,207.4 L551.6,207.9 L551.9,208.5 L552.2,209.0 L552.5,209.5 L552.8,210.0 L553.2,210.5 L553.5,211.0 L553.8,211.5 L554.1,212.0 L554.5,212.5 L554.8,213.0 L555.2,213.5 L555.5,214.0 L555.9,214.5 L556.2,215.0 L556.6,215.5 L556.9,216.0 L557.3,216.5 L557.6,217.0 L558.0,217.4 L558.4,217.9 L558.8,218.4 L559.2,218.8 L559.6,219.3 L560.0,219.7 L560.4,220.2 L560.8,220.6 L561.2,221.0 L561.7,221.4 L562.1,221.9 L562.6,222.3 L563.0,222.7 L563.5,223.0 L563.9,223.4 L564.4,223.8 L564.9,224.2 L565.4,224.6 L565.9,224.9 L566.4,225.3 L566.9,225.7 L567.4,226.1 L567.9,226.4 L568.4,226.8 L569.0,227.2 L569.5,227.5 L570.0,227.9 L570.6,228.3 L571.1,228.6 L571.5,228.9 L572.0,229.3 L572.5,229.6 L573.0,229.9 L573.5,230.2 L574.0,230.6 L574.6,230.9 L575.1,231.2 L575.6,231.6 L576.2,231.9 L576.7,232.2 L577.2,232.6 L577.8,232.9 L578.3,233.2 L578.9,233.5 L579.4,233.9 L580.0,234.2 L580.5,234.5 L581.1,234.8 L581.7,235.1 L582.2,235.4 L582.8,235.7 L583.3,236.0 L583.9,236.3 L584.4,236.6 L584.9,236.9 L585.5,237.1 L586.0,237.4 L586.6,237.7 L587.1,237.9 L587.7,238.2 L588.2,238.5 L588.8,238.7 L589.4,239.0 L589.9,239.2 L590.5,239.4 L591.0,239.7 L591.6,239.9 L592.2,240.1 L592.7,240.3 L593.3,240.6 L593.8,240.8 L594.4,241.0 L594.9,241.2 L595.5,241.4 L596.1,241.6 L596.6,241.8 L597.2,242.0 L597.7,242.2 L598.3,242.4 L598.9,242.6 L599.4,242.8 L600.0,243.0 L600.6,243.2 L601.1,243.4 L601.7,243.6 L602.3,243.8 L602.9,244.0 L603.4,244.1 L604.0,244.3 L604.5,244.5 L605.1,244.7 L605.7,244.8 L606.2,245.0 L606.8,245.2 L607.4,245.3 L608.0,245.5 L608.5,245.7 L609.1,245.8 L609.7,246.0 L610.3,246.2 L610.9,246.3 L611.5,246.5 L612.1,246.7 L612.7,246.8 L613.4,247.0 L614.0,247.2 L614.5,247.3 L615.1,247.5 L615.6,247.7 L616.1,247.8 L616.7,248.0 L617.2,248.1 L617.8,248.3 L618.4,248.4 L618.9,248.6 L619.5,248.8 L620.1,248.9 L620.7,249.1 L621.3,249.2 L621.8,249.4 L622.4,249.6 L623.0,249.7 L623.6,249.9 L624.2,250.1 L624.8,250.2 L625.4,250.4 L626.0,250.5 L626.6,250.7 L627.2,250.9 L627.8,251.0 L628.4,251.2 L629.0,251.3 L629.6,251.5 L630.2,251.6 L630.8,251.8 L631.4,251.9 L632.0,252.1 L632.6,252.2 L633.2,252.4 L633.8,252.5 L634.4,252.7 L635.0,252.8 L635.6,252.9 L636.2,253.1 L636.8,253.2 L637.4,253.3 L638.0,253.5 L638.6,253.6 L639.2,253.7 L639.8,253.9 L640.4,254.0 L640.9,254.1 L641.5,254.2 L642.1,254.4 L642.7,254.5 L643.3,254.6 L643.9,254.7 L644.5,254.9 L645.1,255.0 L645.7,255.1 L646.3,255.2 L646.9,255.3 L647.5,255.4 L648.1,255.6 L648.7,255.7 L649.3,255.8 L649.9,255.9 L650.5,256.0 L651.1,256.1 L651.7,256.2 L652.3,256.3 L652.9,256.5 L653.5,256.6 L654.1,256.7 L654.8,256.8 L655.4,256.9 L656.0,257.0 L656.6,257.1 L657.2,257.2 L657.7,257.3 L658.3,257.4 L658.9,257.5 L659.5,257.6 L660.1,257.7 L660.6,257.8 L661.2,257.9 L661.8,257.9 L662.4,258.0 L663.0,258.1 L663.6,258.2 L664.1,258.3 L664.7,258.4 L665.3,258.5 L665.9,258.5 L666.5,258.6 L667.1,258.7 L667.7,258.8 L668.3,258.9 L668.9,259.0 L669.5,259.0 L670.1,259.1 L670.7,259.2 L671.3,259.3 L671.9,259.4 L672.5,259.5 L673.1,259.5 L673.7,259.6 L674.3,259.7 L675.0,259.8 L675.6,259.9 L676.2,260.0 L676.8,260.1 L677.5,260.1 L678.1,260.2 L678.7,260.3 L679.4,260.4 L680.0,260.5 L680.6,260.6 L681.1,260.7 L681.7,260.7 L682.3,260.8 L682.8,260.9 L683.4,261.0 L684.0,261.1 L684.5,261.1 L685.1,261.2 L685.7,261.3 L686.3,261.4 L686.9,261.5 L687.4,261.6 L688.0,261.6 L688.6,261.7 L689.2,261.8 L689.8,261.9 L690.4,262.0 L691.0,262.1 L691.6,262.1 L692.2,262.2 L692.8,262.3 L693.4,262.4 L694.0,262.5 L694.6,262.6 L695.2,262.6 L695.8,262.7 L696.4,262.8 L697.0,262.9 L697.6,263.0 L698.2,263.1 L698.9,263.1 L699.5,263.2 L700.1,263.3 L700.7,263.4 L701.3,263.5 L701.9,263.6 L702.6,263.6 L703.2,263.7 L703.8,263.8 L704.4,263.9 L705.0,264.0 L705.7,264.0 L706.3,264.1 L706.9,264.2 L707.5,264.3 L708.1,264.4 L708.8,264.4 L709.4,264.5 L710.0,264.6 L710.6,264.7 L711.3,264.7 L711.9,264.8 L712.5,264.9 L713.1,264.9 L713.6,265.0 L714.2,265.1 L714.8,265.1 L715.4,265.2 L716.0,265.3 L716.6,265.3 L717.2,265.4 L717.8,265.5 L718.4,265.5 L718.9,265.6 L719.5,265.7 L720.1,265.7 L720.7,265.8 L721.3,265.8 L721.9,265.9 L722.5,266.0 L723.1,266.0 L723.7,266.1 L724.3,266.2 L724.9,266.2 L725.6,266.3 L726.2,266.3 L726.8,266.4 L727.4,266.5 L728.0,266.5 L728.6,266.6 L729.2,266.6 L729.8,266.7 L730.4,266.8 L731.0,266.8 L731.6,266.9 L732.2,266.9 L732.8,267.0 L733.5,267.0 L734.1,267.1 L734.7,267.2 L735.3,267.2 L735.9,267.3 L736.5,267.3 L737.1,267.4 L737.7,267.4 L738.4,267.5 L739.0,267.5 L739.6,267.6 L740.2,267.7 L740.8,267.7 L741.4,267.8 L742.0,267.8 L742.6,267.9 L743.2,267.9 L743.8,268.0 L744.5,268.0 L745.1,268.1 L745.7,268.1 L746.3,268.2 L746.9,268.2 L747.5,268.3 L748.1,268.3 L748.7,268.4 L749.3,268.4 L749.9,268.4 L750.5,268.5 L751.1,268.5 L751.7,268.6 L752.3,268.6 L752.9,268.7 L753.5,268.7 L754.1,268.8 L754.7,268.8 L755.3,268.8 L755.9,268.9 L756.5,268.9 L757.1,269.0 L757.7,269.0 L758.3,269.0 L758.9,269.1 L759.4,269.1 L760.0,269.2 L760.6,269.2 L761.2,269.2 L761.8,269.3 L762.4,269.3 L763.0,269.4 L763.6,269.4 L764.2,269.4 L764.8,269.5 L765.4,269.5 L766.0,269.5 L766.6,269.6 L767.2,269.6 L767.8,269.6 L768.4,269.7 L769.0,269.7 L769.6,269.7 L770.2,269.8 L770.8,269.8 L771.4,269.8 L772.0,269.9 L772.6,269.9 L773.2,269.9 L773.8,270.0 L774.4,270.0 L775.0,270.0 L775.6,270.1 L776.2,270.1 L776.8,270.1 L777.4,270.2 L778.0,270.2 L778.6,270.2 L779.2,270.2 L779.8,270.3 L780.4,270.3 L781.0,270.3 L781.6,270.4 L782.3,270.4 L782.9,270.4 L783.5,270.5 L784.1,270.5 L784.7,270.5 L785.4,270.5 L786.0,270.6 L786.6,270.6 L787.2,270.6 L787.8,270.7 L788.3,270.7 L788.9,270.7 L789.5,270.7 L790.1,270.8 L790.6,270.8 L791.2,270.8 L791.8,270.8 L792.4,270.9 L792.9,270.9 L793.5,270.9 L794.1,270.9 L794.7,270.9 L795.2,271.0 L795.8,271.0 L796.4,271.0 L797.0,271.0 L797.6,271.1 L798.1,271.1 L798.7,271.1 L799.3,271.1 L799.9,271.2 L800.4,271.2 L801.0,271.2 L801.6,271.2 L802.2,271.2 L802.8,271.3 L803.3,271.3 L803.9,271.3 L804.5,271.3 L805.1,271.3 L805.7,271.4 L806.3,271.4 L806.9,271.4 L807.4,271.4 L808.0,271.4 L808.6,271.5 L809.2,271.5 L809.8,271.5 L810.4,271.5 L811.0,271.5 L811.6,271.5 L812.2,271.6 L812.8,271.6 L813.4,271.6 L814.0,271.6 L814.6,271.6 L815.3,271.7 L815.9,271.7 L816.5,271.7 L817.1,271.7 L817.7,271.7 L818.3,271.7 L819.0,271.8 L819.6,271.8 L820.2,271.8 L820.9,271.8 L821.5,271.8 L822.1,271.8 L822.8,271.8 L823.4,271.9 L824.1,271.9 L824.7,271.9 L825.4,271.9 L826.0,271.9 L826.7,271.9 L827.3,271.9 L828.0,272.0 L828.7,272.0 L829.3,272.0 L830.0,272.0 L830.5,272.0 L831.1,272.0 L831.6,272.0 L832.1,272.0 L832.7,272.1 L833.2,272.1 L833.8,272.1 L834.3,272.1 L834.8,272.1 L835.4,272.1 L835.9,272.1 L836.5,272.1 L837.0,272.1 L837.6,272.1 L838.1,272.1 L838.7,272.1 L839.2,272.2 L839.8,272.2 L840.4,272.2 L840.9,272.2 L841.5,272.2 L842.0,272.2 L842.6,272.2 L843.2,272.2 L843.7,272.2 L844.3,272.2 L844.9,272.2 L845.4,272.2 L846.0,272.2 L846.6,272.2 L847.2,272.2 L847.7,272.3 L848.3,272.3 L848.9,272.3 L849.5,272.3 L850.1,272.3 L850.6,272.3 L851.2,272.3 L851.8,272.3 L852.4,272.3 L853.0,272.3 L853.6,272.3 L854.2,272.3 L854.7,272.3 L855.3,272.3 L855.9,272.3 L856.5,272.3 L857.1,272.3 L857.7,272.3 L858.3,272.3 L858.9,272.3 L859.5,272.3 L860.1,272.4 L860.7,272.4 L861.3,272.4 L861.9,272.4 L862.5,272.4 L863.1,272.4 L863.7,272.4 L864.4,272.4 L865.0,272.4 L865.6,272.4 L866.2,272.4 L866.8,272.4 L867.4,272.4 L868.0,272.4 L868.6,272.4 L869.3,272.4 L869.9,272.4 L870.5,272.4 L871.1,272.4 L871.7,272.4 L872.4,272.4 L873.0,272.4 L873.6,272.4 L874.2,272.4 L874.9,272.4 L875.5,272.4 L876.1,272.4 L876.8,272.4 L877.4,272.4 L878.0,272.4 L878.6,272.4 L879.3,272.4 L879.9,272.4 L880.5,272.4 L881.2,272.4 L881.8,272.4 L882.5,272.4 L883.1,272.4 L883.7,272.4 L884.4,272.5 L885.0,272.5 L885.7,272.5 L886.3,272.5 L887.0,272.5 L887.6,272.5 L888.2,272.5 L888.9,272.5 L889.5,272.5 L890.2,272.5 L890.8,272.5 L891.5,272.5 L892.1,272.5 L892.8,272.5 L893.4,272.5 L894.1,272.5 L894.7,272.5 L895.4,272.5 L896.1,272.5 L896.7,272.5 L897.4,272.5 L898.0,272.5 L898.7,272.5 L899.3,272.5 L900.0,272.5 L900.5,272.5 L901.1,272.5 L901.6,272.5 L902.2,272.5 L902.7,272.5 L903.3,272.5 L903.8,272.5 L904.4,272.5 L904.9,272.5 L905.5,272.5 L906.1,272.5 L906.6,272.5 L907.2,272.5 L907.7,272.5 L908.3,272.5 L908.9,272.5 L909.4,272.5 L910.0,272.5 L910.6,272.5 L911.1,272.5 L911.7,272.5 L912.3,272.5 L912.8,272.5 L913.4,272.5 L914.0,272.5 L914.5,272.5 L915.1,272.5 L915.7,272.5 L916.3,272.5 L916.9,272.5 L917.4,272.5 L918.0,272.5 L918.6,272.5 L919.2,272.5 L919.8,272.5 L920.3,272.5 L920.9,272.5 L921.5,272.5 L922.1,272.5 L922.7,272.5 L923.3,272.5 L923.9,272.5 L924.4,272.5 L925.0,272.5 L925.6,272.5 L926.2,272.5 L926.8,272.5 L927.4,272.5 L928.0,272.5 L928.6,272.5 L929.2,272.5 L929.8,272.5 L930.4,272.5 L931.0,272.5 L931.6,272.5 L932.2,272.5 L932.8,272.5 L933.4,272.5 L934.0,272.5 L934.6,272.5 L935.2,272.5 L935.8,272.5 L936.4,272.5 L937.0,272.5 L937.6,272.5 L938.2,272.5 L938.8,272.5 L939.4,272.5 L940.0,272.5 L940.6,272.5 L941.2,272.5 L941.9,272.5 L942.5,272.5 L943.1,272.5 L943.7,272.5 L944.3,272.5 L944.9,272.5 L945.5,272.5 L946.1,272.5 L946.7,272.5 L947.3,272.5 L948.0,272.5 L948.6,272.5 L949.2,272.5 L949.8,272.5 L950.4,272.5 L951.0,272.5 L951.6,272.5 L952.3,272.5 L952.9,272.5 L953.5,272.5 L954.1,272.5 L954.7,272.5 L955.3,272.5 L956.0,272.5 L956.6,272.5 L957.2,272.5 L957.8,272.5 L958.4,272.5 L959.0,272.5 L959.7,272.5 L960.3,272.5 L960.9,272.5 L961.5,272.5 L962.1,272.5 L962.8,272.5 L963.4,272.5 L964.0,272.5 L964.6,272.5 L965.2,272.5 L965.8,272.5 L966.5,272.5 L967.1,272.5 L967.7,272.5 L968.3,272.5 L968.9,272.5 L969.6,272.5 L970.2,272.5 L970.8,272.5 L971.4,272.5 L972.0,272.5 L972.7,272.5 L973.3,272.5 L973.9,272.5 L974.5,272.5 L975.1,272.5 L975.7,272.5 L976.4,272.5 L977.0,272.5 L977.6,272.5 L978.2,272.5 L978.8,272.5 L979.4,272.5 L980.1,272.5 L980.7,272.5 L981.3,272.5 L981.9,272.5 L982.5,272.5 L983.1,272.5 L983.8,272.5 L984.4,272.5 L985.0,272.5 L985.6,272.5 L986.2,272.5 L986.8,272.5 L987.4,272.5 L988.0,272.5 L988.7,272.5 L989.3,272.5 L989.9,272.5 L990.5,272.5 L991.1,272.5 L991.7,272.5 L992.3,272.5 L992.9,272.5 L993.5,272.5 L994.1,272.5 L994.8,272.5 L995.4,272.5 L996.0,272.5 L996.6,272.5 L997.2,272.5 L997.8,272.5 L998.4,272.5 L999.0,272.5 L999.6,272.5 L1000.2,272.5 L1000.8,272.5 L1001.4,272.5 L1002.0,272.5" stroke="#f5a04a" stroke-width="2.2" fill="none" stroke-dasharray="15 7"/>
<path d="M440.0,273.4 L440.6,273.3 L441.2,273.3 L441.8,273.2 L442.4,273.2 L443.0,273.2 L443.7,273.1 L444.3,273.1 L444.9,273.0 L445.5,273.0 L446.1,272.9 L446.7,272.9 L447.3,272.8 L447.9,272.8 L448.5,272.8 L449.1,272.7 L449.7,272.7 L450.3,272.6 L450.9,272.5 L451.6,272.5 L452.2,272.4 L452.8,272.4 L453.4,272.3 L454.1,272.2 L454.7,272.2 L455.4,272.1 L456.0,272.0 L456.6,271.9 L457.1,271.8 L457.7,271.8 L458.3,271.7 L458.9,271.6 L459.5,271.5 L460.1,271.4 L460.7,271.3 L461.3,271.2 L461.9,271.1 L462.6,271.0 L463.2,270.9 L463.8,270.8 L464.4,270.7 L465.0,270.6 L465.7,270.5 L466.3,270.3 L466.9,270.2 L467.5,270.1 L468.1,270.0 L468.8,269.9 L469.4,269.8 L470.0,269.7 L470.6,269.6 L471.2,269.4 L471.8,269.3 L472.4,269.2 L472.9,269.1 L473.5,269.0 L474.1,268.9 L474.7,268.8 L475.2,268.7 L475.8,268.6 L476.3,268.5 L477.0,268.4 L477.6,268.3 L478.2,268.2 L478.9,268.1 L479.5,267.9 L480.1,267.8 L480.7,267.7 L481.3,267.6 L481.9,267.6 L482.5,267.5 L483.1,267.4 L483.7,267.2 L484.3,267.1 L484.8,267.0 L485.4,266.9 L486.0,266.8 L486.6,266.7 L487.2,266.6 L487.7,266.4 L488.3,266.3 L488.9,266.2 L489.5,266.0 L490.1,265.8 L490.7,265.7 L491.2,265.5 L491.8,265.4 L492.4,265.2 L493.0,265.0 L493.6,264.8 L494.1,264.6 L494.7,264.5 L495.3,264.3 L495.9,264.1 L496.4,263.9 L497.0,263.7 L497.6,263.5 L498.2,263.3 L498.7,263.0 L499.3,262.8 L499.9,262.6 L500.4,262.4 L501.0,262.2 L501.6,262.0 L502.1,261.7 L502.7,261.5 L503.3,261.3 L503.8,261.0 L504.4,260.8 L504.9,260.6 L505.5,260.4 L506.1,260.1 L506.6,259.9 L507.2,259.6 L507.8,259.4 L508.3,259.2 L508.9,258.9 L509.4,258.7 L510.0,258.4 L510.5,258.1 L511.1,257.9 L511.6,257.6 L512.2,257.3 L512.7,257.0 L513.2,256.7 L513.8,256.4 L514.3,256.1 L514.8,255.8 L515.3,255.5 L515.8,255.2 L516.3,254.8 L516.8,254.5 L517.3,254.1 L517.9,253.7 L518.4,253.3 L518.9,252.9 L519.4,252.5 L519.9,252.1 L520.3,251.7 L520.8,251.3 L521.3,250.9 L521.8,250.5 L522.3,250.0 L522.7,249.6 L523.2,249.2 L523.6,248.8 L524.1,248.4 L524.5,247.9 L525.0,247.5 L525.4,247.1 L525.8,246.7 L526.2,246.3 L526.7,245.8 L527.1,245.4 L527.5,244.9 L528.0,244.4 L528.4,244.0 L528.8,243.5 L529.2,243.0 L529.6,242.5 L529.9,242.1 L530.3,241.6 L530.7,241.1 L531.1,240.7 L531.4,240.2 L531.8,239.8 L532.2,239.4 L532.5,238.9 L532.9,238.5 L533.3,238.0 L533.8,237.5 L534.2,237.0 L534.6,236.5 L535.0,236.0 L535.5,235.6 L535.9,235.1 L536.3,234.7 L536.7,234.2 L537.1,233.8 L537.6,233.4 L538.0,233.0 L538.5,232.6 L539.0,232.2 L539.5,231.8 L540.0,231.4 L540.5,231.0 L541.0,230.7 L541.5,230.4 L542.0,230.1 L542.5,229.8 L543.0,229.6 L543.6,229.4 L544.2,229.2 L544.8,229.1 L545.5,229.0 L546.1,229.0 L546.8,229.0 L547.5,229.0 L548.0,229.0 L548.5,229.1 L549.1,229.2 L549.7,229.3 L550.3,229.4 L550.9,229.6 L551.5,229.7 L552.1,229.9 L552.7,230.1 L553.3,230.2 L554.0,230.4 L554.6,230.6 L555.2,230.8 L555.8,231.0 L556.4,231.2 L557.0,231.4 L557.6,231.6 L558.1,231.8 L558.7,232.0 L559.2,232.2 L559.8,232.5 L560.4,232.7 L560.9,232.9 L561.5,233.2 L562.1,233.4 L562.6,233.6 L563.2,233.9 L563.8,234.1 L564.4,234.4 L565.0,234.6 L565.6,234.8 L566.1,235.0 L566.7,235.2 L567.2,235.5 L567.8,235.7 L568.3,235.9 L568.9,236.1 L569.5,236.4 L570.1,236.6 L570.6,236.8 L571.2,237.0 L571.8,237.2 L572.4,237.5 L573.0,237.7 L573.7,237.9 L574.3,238.1 L574.9,238.4 L575.6,238.6 L576.2,238.8 L576.7,239.0 L577.2,239.1 L577.8,239.3 L578.3,239.5 L578.9,239.6 L579.4,239.8 L580.0,240.0 L580.5,240.1 L581.1,240.3 L581.7,240.5 L582.2,240.6 L582.8,240.8 L583.4,241.0 L584.0,241.1 L584.6,241.3 L585.1,241.5 L585.7,241.6 L586.3,241.8 L586.9,242.0 L587.5,242.1 L588.1,242.3 L588.7,242.5 L589.3,242.6 L590.0,242.8 L590.6,243.0 L591.2,243.2 L591.8,243.3 L592.4,243.5 L593.0,243.7 L593.6,243.9 L594.1,244.0 L594.7,244.2 L595.2,244.4 L595.8,244.5 L596.3,244.7 L596.9,244.9 L597.4,245.1 L598.0,245.2 L598.6,245.4 L599.1,245.6 L599.7,245.8 L600.3,245.9 L600.8,246.1 L601.4,246.3 L602.0,246.5 L602.6,246.7 L603.2,246.8 L603.7,247.0 L604.3,247.2 L604.9,247.4 L605.5,247.6 L606.1,247.7 L606.7,247.9 L607.3,248.1 L607.9,248.3 L608.5,248.5 L609.1,248.6 L609.7,248.8 L610.3,249.0 L610.9,249.2 L611.5,249.3 L612.1,249.5 L612.7,249.7 L613.4,249.8 L614.0,250.0 L614.6,250.1 L615.1,250.3 L615.7,250.4 L616.2,250.6 L616.8,250.7 L617.3,250.9 L617.9,251.0 L618.5,251.1 L619.0,251.3 L619.6,251.4 L620.2,251.6 L620.7,251.7 L621.3,251.9 L621.9,252.0 L622.5,252.1 L623.0,252.3 L623.6,252.4 L624.2,252.5 L624.8,252.7 L625.4,252.8 L626.0,253.0 L626.6,253.1 L627.2,253.2 L627.8,253.4 L628.3,253.5 L628.9,253.6 L629.5,253.8 L630.2,253.9 L630.8,254.0 L631.4,254.2 L632.0,254.3 L632.6,254.4 L633.2,254.6 L633.8,254.7 L634.4,254.8 L635.0,254.9 L635.7,255.1 L636.3,255.2 L636.9,255.3 L637.5,255.4 L638.2,255.6 L638.8,255.7 L639.4,255.8 L640.1,255.9 L640.7,256.1 L641.4,256.2 L642.0,256.3 L642.5,256.4 L643.1,256.5 L643.7,256.6 L644.2,256.7 L644.8,256.8 L645.3,256.9 L645.9,257.0 L646.5,257.1 L647.1,257.2 L647.6,257.3 L648.2,257.4 L648.8,257.5 L649.4,257.6 L650.0,257.7 L650.6,257.8 L651.2,257.9 L651.7,258.0 L652.3,258.0 L652.9,258.1 L653.5,258.2 L654.1,258.3 L654.7,258.4 L655.3,258.5 L656.0,258.6 L656.6,258.7 L657.2,258.8 L657.8,258.9 L658.4,259.0 L659.0,259.0 L659.6,259.1 L660.2,259.2 L660.8,259.3 L661.4,259.4 L662.1,259.5 L662.7,259.6 L663.3,259.7 L663.9,259.7 L664.5,259.8 L665.1,259.9 L665.7,260.0 L666.3,260.1 L666.9,260.2 L667.6,260.2 L668.2,260.3 L668.8,260.4 L669.4,260.5 L670.0,260.6 L670.6,260.6 L671.2,260.7 L671.8,260.8 L672.4,260.9 L673.0,261.0 L673.6,261.0 L674.2,261.1 L674.8,261.2 L675.4,261.3 L676.0,261.4 L676.5,261.4 L677.1,261.5 L677.7,261.6 L678.3,261.7 L678.9,261.7 L679.4,261.8 L680.0,261.9 L680.6,262.0 L681.2,262.1 L681.9,262.1 L682.5,262.2 L683.1,262.3 L683.7,262.4 L684.3,262.5 L684.9,262.6 L685.5,262.6 L686.2,262.7 L686.8,262.8 L687.4,262.9 L688.0,262.9 L688.6,263.0 L689.2,263.1 L689.7,263.2 L690.3,263.2 L690.9,263.3 L691.5,263.4 L692.1,263.5 L692.7,263.5 L693.3,263.6 L693.9,263.7 L694.5,263.8 L695.1,263.8 L695.7,263.9 L696.3,264.0 L696.8,264.0 L697.4,264.1 L698.0,264.2 L698.6,264.2 L699.2,264.3 L699.8,264.4 L700.4,264.4 L701.0,264.5 L701.6,264.6 L702.2,264.7 L702.8,264.7 L703.4,264.8 L704.0,264.9 L704.6,264.9 L705.2,265.0 L705.8,265.1 L706.4,265.1 L707.0,265.2 L707.6,265.2 L708.2,265.3 L708.8,265.4 L709.4,265.4 L710.0,265.5 L710.7,265.6 L711.3,265.6 L711.9,265.7 L712.5,265.8 L713.1,265.8 L713.6,265.9 L714.2,265.9 L714.8,266.0 L715.4,266.1 L716.0,266.1 L716.6,266.2 L717.2,266.2 L717.8,266.3 L718.4,266.3 L718.9,266.4 L719.5,266.5 L720.1,266.5 L720.7,266.6 L721.3,266.6 L721.9,266.7 L722.5,266.7 L723.1,266.8 L723.7,266.9 L724.3,266.9 L724.9,267.0 L725.6,267.0 L726.2,267.1 L726.8,267.1 L727.4,267.2 L728.0,267.2 L728.6,267.3 L729.2,267.3 L729.8,267.4 L730.4,267.4 L731.0,267.5 L731.6,267.6 L732.2,267.6 L732.9,267.7 L733.5,267.7 L734.1,267.8 L734.7,267.8 L735.3,267.9 L735.9,267.9 L736.5,268.0 L737.1,268.0 L737.7,268.1 L738.4,268.1 L739.0,268.1 L739.6,268.2 L740.2,268.2 L740.8,268.3 L741.4,268.3 L742.0,268.4 L742.6,268.4 L743.2,268.5 L743.8,268.5 L744.5,268.6 L745.1,268.6 L745.7,268.6 L746.3,268.7 L746.9,268.7 L747.5,268.8 L748.1,268.8 L748.7,268.9 L749.3,268.9 L749.9,268.9 L750.5,269.0 L751.1,269.0 L751.7,269.1 L752.3,269.1 L752.9,269.1 L753.5,269.2 L754.1,269.2 L754.7,269.2 L755.3,269.3 L755.9,269.3 L756.5,269.3 L757.1,269.4 L757.7,269.4 L758.3,269.4 L758.9,269.5 L759.5,269.5 L760.0,269.5 L760.6,269.6 L761.2,269.6 L761.8,269.6 L762.4,269.7 L763.0,269.7 L763.6,269.7 L764.2,269.8 L764.8,269.8 L765.4,269.8 L766.0,269.8 L766.6,269.9 L767.2,269.9 L767.8,269.9 L768.4,269.9 L769.0,270.0 L769.6,270.0 L770.2,270.0 L770.8,270.1 L771.4,270.1 L772.0,270.1 L772.6,270.1 L773.2,270.2 L773.8,270.2 L774.4,270.2 L775.0,270.2 L775.6,270.3 L776.2,270.3 L776.8,270.3 L777.4,270.3 L778.0,270.4 L778.6,270.4 L779.2,270.4 L779.8,270.4 L780.4,270.5 L781.0,270.5 L781.6,270.5 L782.3,270.5 L782.9,270.6 L783.5,270.6 L784.1,270.6 L784.7,270.6 L785.4,270.7 L786.0,270.7 L786.6,270.7 L787.2,270.7 L787.8,270.7 L788.3,270.8 L788.9,270.8 L789.5,270.8 L790.1,270.8 L790.6,270.9 L791.2,270.9 L791.8,270.9 L792.4,270.9 L792.9,270.9 L793.5,271.0 L794.1,271.0 L794.7,271.0 L795.2,271.0 L795.8,271.0 L796.4,271.1 L797.0,271.1 L797.6,271.1 L798.1,271.1 L798.7,271.2 L799.3,271.2 L799.9,271.2 L800.4,271.2 L801.0,271.2 L801.6,271.3 L802.2,271.3 L802.8,271.3 L803.3,271.3 L803.9,271.3 L804.5,271.3 L805.1,271.4 L805.7,271.4 L806.3,271.4 L806.9,271.4 L807.4,271.4 L808.0,271.5 L808.6,271.5 L809.2,271.5 L809.8,271.5 L810.4,271.5 L811.0,271.5 L811.6,271.6 L812.2,271.6 L812.8,271.6 L813.4,271.6 L814.0,271.6 L814.6,271.7 L815.3,271.7 L815.9,271.7 L816.5,271.7 L817.1,271.7 L817.7,271.7 L818.3,271.7 L819.0,271.8 L819.6,271.8 L820.2,271.8 L820.9,271.8 L821.5,271.8 L822.1,271.8 L822.8,271.9 L823.4,271.9 L824.1,271.9 L824.7,271.9 L825.4,271.9 L826.0,271.9 L826.7,271.9 L827.3,271.9 L828.0,272.0 L828.7,272.0 L829.3,272.0 L830.0,272.0 L830.5,272.0 L831.1,272.0 L831.6,272.0 L832.1,272.0 L832.7,272.0 L833.2,272.1 L833.8,272.1 L834.3,272.1 L834.8,272.1 L835.4,272.1 L835.9,272.1 L836.5,272.1 L837.0,272.1 L837.6,272.1 L838.1,272.1 L838.7,272.1 L839.2,272.1 L839.8,272.2 L840.4,272.2 L840.9,272.2 L841.5,272.2 L842.0,272.2 L842.6,272.2 L843.2,272.2 L843.7,272.2 L844.3,272.2 L844.9,272.2 L845.4,272.2 L846.0,272.2 L846.6,272.2 L847.2,272.2 L847.7,272.2 L848.3,272.2 L848.9,272.3 L849.5,272.3 L850.1,272.3 L850.6,272.3 L851.2,272.3 L851.8,272.3 L852.4,272.3 L853.0,272.3 L853.6,272.3 L854.2,272.3 L854.7,272.3 L855.3,272.3 L855.9,272.3 L856.5,272.3 L857.1,272.3 L857.7,272.3 L858.3,272.3 L858.9,272.3 L859.5,272.3 L860.1,272.3 L860.7,272.3 L861.3,272.3 L861.9,272.4 L862.5,272.4 L863.1,272.4 L863.7,272.4 L864.4,272.4 L865.0,272.4 L865.6,272.4 L866.2,272.4 L866.8,272.4 L867.4,272.4 L868.0,272.4 L868.6,272.4 L869.3,272.4 L869.9,272.4 L870.5,272.4 L871.1,272.4 L871.7,272.4 L872.4,272.4 L873.0,272.4 L873.6,272.4 L874.2,272.4 L874.9,272.4 L875.5,272.4 L876.1,272.4 L876.8,272.4 L877.4,272.4 L878.0,272.4 L878.6,272.4 L879.3,272.4 L879.9,272.4 L880.5,272.4 L881.2,272.4 L881.8,272.4 L882.5,272.4 L883.1,272.4 L883.7,272.4 L884.4,272.4 L885.0,272.5 L885.7,272.5 L886.3,272.5 L887.0,272.5 L887.6,272.5 L888.2,272.5 L888.9,272.5 L889.5,272.5 L890.2,272.5 L890.8,272.5 L891.5,272.5 L892.1,272.5 L892.8,272.5 L893.4,272.5 L894.1,272.5 L894.7,272.5 L895.4,272.5 L896.1,272.5 L896.7,272.5 L897.4,272.5 L898.0,272.5 L898.7,272.5 L899.3,272.5 L900.0,272.5 L900.5,272.5 L901.1,272.5 L901.6,272.5 L902.2,272.5 L902.7,272.5 L903.3,272.5 L903.8,272.5 L904.4,272.5 L904.9,272.5 L905.5,272.5 L906.1,272.5 L906.6,272.5 L907.2,272.5 L907.7,272.5 L908.3,272.5 L908.9,272.5 L909.4,272.5 L910.0,272.5 L910.6,272.5 L911.1,272.5 L911.7,272.5 L912.3,272.5 L912.8,272.5 L913.4,272.5 L914.0,272.5 L914.5,272.5 L915.1,272.5 L915.7,272.5 L916.3,272.5 L916.9,272.5 L917.4,272.5 L918.0,272.5 L918.6,272.5 L919.2,272.5 L919.8,272.5 L920.3,272.5 L920.9,272.5 L921.5,272.5 L922.1,272.5 L922.7,272.5 L923.3,272.5 L923.9,272.5 L924.4,272.5 L925.0,272.5 L925.6,272.5 L926.2,272.5 L926.8,272.5 L927.4,272.5 L928.0,272.5 L928.6,272.5 L929.2,272.5 L929.8,272.5 L930.4,272.5 L931.0,272.5 L931.6,272.5 L932.2,272.5 L932.8,272.5 L933.4,272.5 L934.0,272.5 L934.6,272.5 L935.2,272.5 L935.8,272.5 L936.4,272.5 L937.0,272.5 L937.6,272.5 L938.2,272.5 L938.8,272.5 L939.4,272.5 L940.0,272.5 L940.6,272.5 L941.2,272.5 L941.9,272.5 L942.5,272.5 L943.1,272.5 L943.7,272.5 L944.3,272.5 L944.9,272.5 L945.5,272.5 L946.1,272.5 L946.7,272.5 L947.3,272.5 L948.0,272.5 L948.6,272.5 L949.2,272.5 L949.8,272.5 L950.4,272.5 L951.0,272.5 L951.6,272.5 L952.3,272.5 L952.9,272.5 L953.5,272.5 L954.1,272.5 L954.7,272.5 L955.3,272.5 L956.0,272.5 L956.6,272.5 L957.2,272.5 L957.8,272.5 L958.4,272.5 L959.0,272.5 L959.7,272.5 L960.3,272.5 L960.9,272.5 L961.5,272.5 L962.1,272.5 L962.8,272.5 L963.4,272.5 L964.0,272.5 L964.6,272.5 L965.2,272.5 L965.8,272.5 L966.5,272.5 L967.1,272.5 L967.7,272.5 L968.3,272.5 L968.9,272.5 L969.6,272.5 L970.2,272.5 L970.8,272.5 L971.4,272.5 L972.0,272.5 L972.7,272.5 L973.3,272.5 L973.9,272.5 L974.5,272.5 L975.1,272.5 L975.7,272.5 L976.4,272.5 L977.0,272.5 L977.6,272.5 L978.2,272.5 L978.8,272.5 L979.4,272.5 L980.1,272.5 L980.7,272.5 L981.3,272.5 L981.9,272.5 L982.5,272.5 L983.1,272.5 L983.8,272.5 L984.4,272.5 L985.0,272.5 L985.6,272.5 L986.2,272.5 L986.8,272.5 L987.4,272.5 L988.0,272.5 L988.7,272.5 L989.3,272.5 L989.9,272.5 L990.5,272.5 L991.1,272.5 L991.7,272.5 L992.3,272.5 L992.9,272.5 L993.5,272.5 L994.1,272.5 L994.8,272.5 L995.4,272.5 L996.0,272.5 L996.6,272.5 L997.2,272.5 L997.8,272.5 L998.4,272.5 L999.0,272.5 L999.6,272.5 L1000.2,272.5 L1000.8,272.5 L1001.4,272.5 L1002.0,272.5" stroke="#ee3a3a" stroke-width="2.2" fill="none" stroke-dasharray="15 7"/>
</g>
<path d="M210,39 V507 H1049.5 V39" stroke="#161616" stroke-width="2.7" fill="none" stroke-linejoin="round"/>
<path d="M210,39 H1049.5" stroke="#3c3c3c" stroke-width="2.7" fill="none" stroke-linecap="round"/>
<path d="M198,39.0 H210" stroke="#161616" stroke-width="2.7" fill="none"/>
<text x="181.7" y="49.5" font-size="33" text-anchor="end" fill="#111" font-family="'Liberation Sans', sans-serif" >20000</text>
<path d="M198,155.8 H210" stroke="#161616" stroke-width="2.7" fill="none"/>
<text x="181.7" y="166.3" font-size="33" text-anchor="end" fill="#111" font-family="'Liberation Sans', sans-serif" >10000</text>
<path d="M198,272.5 H210" stroke="#161616" stroke-width="2.7" fill="none"/>
<text x="181.7" y="283.0" font-size="33" text-anchor="end" fill="#111" font-family="'Liberation Sans', sans-serif" >0</text>
<path d="M198,389.1 H210" stroke="#161616" stroke-width="2.7" fill="none"/>
<text x="181.7" y="399.6" font-size="33" text-anchor="end" fill="#111" font-family="'Liberation Sans', sans-serif" >-10000</text>
<path d="M198,507.0 H210" stroke="#161616" stroke-width="2.7" fill="none"/>
<text x="181.7" y="517.5" font-size="33" text-anchor="end" fill="#111" font-family="'Liberation Sans', sans-serif" >-20000</text>
<path d="M204,97.5 H210" stroke="#161616" stroke-width="2.7" fill="none"/>
<path d="M204,214.2 H210" stroke="#161616" stroke-width="2.7" fill="none"/>
<path d="M204,330.8 H210" stroke="#161616" stroke-width="2.7" fill="none"/>
<path d="M204,447.5 H210" stroke="#161616" stroke-width="2.7" fill="none"/>
<path d="M295.0,507 V519" stroke="#161616" stroke-width="2.7" fill="none"/>
<text x="295.0" y="563" font-size="33" text-anchor="middle" fill="#111" font-family="'Liberation Sans', sans-serif" >0.0</text>
<path d="M389.3,507 V519" stroke="#161616" stroke-width="2.7" fill="none"/>
<text x="389.3" y="563" font-size="33" text-anchor="middle" fill="#111" font-family="'Liberation Sans', sans-serif" >0.2</text>
<path d="M483.7,507 V519" stroke="#161616" stroke-width="2.7" fill="none"/>
<text x="483.7" y="563" font-size="33" text-anchor="middle" fill="#111" font-family="'Liberation Sans', sans-serif" >0.4</text>
<path d="M578.0,507 V519" stroke="#161616" stroke-width="2.7" fill="none"/>
<text x="578.0" y="563" font-size="33" text-anchor="middle" fill="#111" font-family="'Liberation Sans', sans-serif" >0.6</text>
<path d="M672.4,507 V519" stroke="#161616" stroke-width="2.7" fill="none"/>
<text x="672.4" y="563" font-size="33" text-anchor="middle" fill="#111" font-family="'Liberation Sans', sans-serif" >0.8</text>
<path d="M766.7,507 V519" stroke="#161616" stroke-width="2.7" fill="none"/>
<text x="766.7" y="563" font-size="33" text-anchor="middle" fill="#111" font-family="'Liberation Sans', sans-serif" >1.0</text>
<path d="M861.0,507 V519" stroke="#161616" stroke-width="2.7" fill="none"/>
<text x="861.0" y="563" font-size="33" text-anchor="middle" fill="#111" font-family="'Liberation Sans', sans-serif" >1.2</text>
<path d="M955.4,507 V519" stroke="#161616" stroke-width="2.7" fill="none"/>
<text x="955.4" y="563" font-size="33" text-anchor="middle" fill="#111" font-family="'Liberation Sans', sans-serif" >1.4</text>
<path d="M1049.7,507 V519" stroke="#161616" stroke-width="2.7" fill="none"/>
<text x="1049.7" y="563" font-size="33" text-anchor="middle" fill="#111" font-family="'Liberation Sans', sans-serif" >1.6</text>
<path d="M247.8,507 V513" stroke="#161616" stroke-width="2.7" fill="none"/>
<path d="M342.2,507 V513" stroke="#161616" stroke-width="2.7" fill="none"/>
<path d="M436.5,507 V513" stroke="#161616" stroke-width="2.7" fill="none"/>
<path d="M530.9,507 V513" stroke="#161616" stroke-width="2.7" fill="none"/>
<path d="M625.2,507 V513" stroke="#161616" stroke-width="2.7" fill="none"/>
<path d="M719.5,507 V513" stroke="#161616" stroke-width="2.7" fill="none"/>
<path d="M813.9,507 V513" stroke="#161616" stroke-width="2.7" fill="none"/>
<path d="M908.2,507 V513" stroke="#161616" stroke-width="2.7" fill="none"/>
<path d="M1002.5,507 V513" stroke="#161616" stroke-width="2.7" fill="none"/>
<text x="9.0" y="37.2" font-size="51" text-anchor="start" fill="#111" font-family="'Liberation Sans', sans-serif" textLength="65.5" lengthAdjust="spacing" >(a)</text>
<text x="659.8" y="106" font-size="36" text-anchor="start" fill="#111" font-family="'Liberation Sans', sans-serif" textLength="331" lengthAdjust="spacingAndGlyphs" >0.7 um Si, 3rd cycle</text>
<text transform="translate(449.4,629.3) scale(1.045,1)" font-size="36.5" font-family="'Liberation Sans', sans-serif" fill="#111">Potential / V <tspan font-style="italic">vs.</tspan> Li/Li<tspan font-size="21" dy="-16">+</tspan></text>
<text transform="translate(50.3,438.3) rotate(-90)" font-size="36.5" font-family="'Liberation Sans', sans-serif" fill="#111"><tspan textLength="299" lengthAdjust="spacingAndGlyphs">dQ/dV / mAh (gV)</tspan><tspan dy="-19" dx="-1">-1</tspan></text>
<rect x="578.6" y="324.5" width="421.6" height="153.5" fill="#fff" stroke="#474747" stroke-width="2" fill="none"/>
<path d="M578.6,362.8 H1000.2" stroke="#474747" stroke-width="2" fill="none"/>
<path d="M578.6,401.3 H1000.2" stroke="#474747" stroke-width="2" fill="none"/>
<path d="M578.6,439.3 H1000.2" stroke="#474747" stroke-width="2" fill="none"/>
<path d="M675.8,324.5 V478" stroke="#474747" stroke-width="2" fill="none"/>
<path d="M874,324.5 V478" stroke="#474747" stroke-width="2" fill="none"/>
<text x="612.8" y="351.4" font-size="25" text-anchor="start" fill="#dc2232" font-family="'Liberation Serif', serif" >R1</text>
<text x="855" y="351.4" font-size="25" text-anchor="end" fill="#111" font-family="'Liberation Serif', serif" textLength="139" lengthAdjust="spacingAndGlyphs" >0.8 – 0.27 V</text>
<text x="899.9" y="352.6" font-size="25" text-anchor="start" fill="#1a1a1a" font-family="'Liberation Serif', serif" textLength="21.5" lengthAdjust="spacingAndGlyphs" >Li</text>
<text x="918.7" y="358.2" font-size="17" text-anchor="start" fill="#3a3a3a" font-family="'Liberation Serif', serif" textLength="36.2" lengthAdjust="spacingAndGlyphs" >0.99</text>
<text x="978.8" y="352.6" font-size="25" text-anchor="end" fill="#1a1a1a" font-family="'Liberation Serif', serif" textLength="20.5" lengthAdjust="spacingAndGlyphs" >Si</text>
<text x="612.8" y="390.2" font-size="25" text-anchor="start" fill="#ec9460" font-family="'Liberation Serif', serif" >R2</text>
<text x="855" y="390.2" font-size="25" text-anchor="end" fill="#111" font-family="'Liberation Serif', serif" textLength="153" lengthAdjust="spacingAndGlyphs" >0.27 – 0.16 V</text>
<text x="904.9" y="391.2" font-size="25" text-anchor="start" fill="#1a1a1a" font-family="'Liberation Serif', serif" textLength="21.5" lengthAdjust="spacingAndGlyphs" >Li</text>
<text x="924.8" y="396.8" font-size="17" text-anchor="start" fill="#3a3a3a" font-family="'Liberation Serif', serif" textLength="25.1" lengthAdjust="spacingAndGlyphs" >2.2</text>
<text x="973.2" y="391.2" font-size="25" text-anchor="end" fill="#1a1a1a" font-family="'Liberation Serif', serif" textLength="20.5" lengthAdjust="spacingAndGlyphs" >Si</text>
<text x="612.8" y="428.6" font-size="25" text-anchor="start" fill="#4f8744" font-family="'Liberation Serif', serif" >R3</text>
<text x="855" y="428.6" font-size="25" text-anchor="end" fill="#111" font-family="'Liberation Serif', serif" textLength="153" lengthAdjust="spacingAndGlyphs" >0.16 – 0.03 V</text>
<text x="904.9" y="429.8" font-size="25" text-anchor="start" fill="#1a1a1a" font-family="'Liberation Serif', serif" textLength="21.5" lengthAdjust="spacingAndGlyphs" >Li</text>
<text x="924.3" y="435.4" font-size="17" text-anchor="start" fill="#3a3a3a" font-family="'Liberation Serif', serif" textLength="25.0" lengthAdjust="spacingAndGlyphs" >3.5</text>
<text x="973.2" y="429.8" font-size="25" text-anchor="end" fill="#1a1a1a" font-family="'Liberation Serif', serif" textLength="20.5" lengthAdjust="spacingAndGlyphs" >Si</text>
<text x="612.8" y="466.9" font-size="25" text-anchor="start" fill="#1a1a1a" font-family="'Liberation Serif', serif" >R4</text>
<text x="855" y="466.9" font-size="25" text-anchor="end" fill="#111" font-family="'Liberation Serif', serif" textLength="167" lengthAdjust="spacingAndGlyphs" >0.03 – 0.005 V</text>
<text x="899.9" y="468.0" font-size="25" text-anchor="start" fill="#1a1a1a" font-family="'Liberation Serif', serif" textLength="21.5" lengthAdjust="spacingAndGlyphs" >Li</text>
<text x="918.7" y="473.6" font-size="17" text-anchor="start" fill="#3a3a3a" font-family="'Liberation Serif', serif" textLength="36.2" lengthAdjust="spacingAndGlyphs" >3.75</text>
<text x="978.8" y="468.0" font-size="25" text-anchor="end" fill="#1a1a1a" font-family="'Liberation Serif', serif" textLength="20.5" lengthAdjust="spacingAndGlyphs" >Si</text>
<rect x="210" y="683" width="839.5" height="468" stroke="#161616" stroke-width="2.7" fill="none"/>
<path d="M198,1128.0 H210" stroke="#161616" stroke-width="2.7" fill="none"/>
<text x="181.7" y="1138.5" font-size="33" text-anchor="end" fill="#111" font-family="'Liberation Sans', sans-serif" >0</text>
<path d="M198,1016.8 H210" stroke="#161616" stroke-width="2.7" fill="none"/>
<text x="181.7" y="1027.2" font-size="33" text-anchor="end" fill="#111" font-family="'Liberation Sans', sans-serif" >1000</text>
<path d="M198,905.5 H210" stroke="#161616" stroke-width="2.7" fill="none"/>
<text x="181.7" y="916.0" font-size="33" text-anchor="end" fill="#111" font-family="'Liberation Sans', sans-serif" >2000</text>
<path d="M198,794.2 H210" stroke="#161616" stroke-width="2.7" fill="none"/>
<text x="181.7" y="804.8" font-size="33" text-anchor="end" fill="#111" font-family="'Liberation Sans', sans-serif" >3000</text>
<path d="M198,683.0 H210" stroke="#161616" stroke-width="2.7" fill="none"/>
<text x="181.7" y="693.5" font-size="33" text-anchor="end" fill="#111" font-family="'Liberation Sans', sans-serif" >4000</text>
<path d="M204,1072.4 H210" stroke="#161616" stroke-width="2.7" fill="none"/>
<path d="M204,961.1 H210" stroke="#161616" stroke-width="2.7" fill="none"/>
<path d="M204,849.9 H210" stroke="#161616" stroke-width="2.7" fill="none"/>
<path d="M204,738.6 H210" stroke="#161616" stroke-width="2.7" fill="none"/>
<path d="M210.0,1151 V1162" stroke="#161616" stroke-width="2.7" fill="none"/>
<text x="210.0" y="1208" font-size="33" text-anchor="middle" fill="#111" font-family="'Liberation Sans', sans-serif" >0</text>
<path d="M345.4,1151 V1162" stroke="#161616" stroke-width="2.7" fill="none"/>
<text x="345.4" y="1208" font-size="33" text-anchor="middle" fill="#111" font-family="'Liberation Sans', sans-serif" >5</text>
<path d="M480.8,1151 V1162" stroke="#161616" stroke-width="2.7" fill="none"/>
<text x="480.8" y="1208" font-size="33" text-anchor="middle" fill="#111" font-family="'Liberation Sans', sans-serif" >10</text>
<path d="M616.2,1151 V1162" stroke="#161616" stroke-width="2.7" fill="none"/>
<text x="616.2" y="1208" font-size="33" text-anchor="middle" fill="#111" font-family="'Liberation Sans', sans-serif" >15</text>
<path d="M751.6,1151 V1162" stroke="#161616" stroke-width="2.7" fill="none"/>
<text x="751.6" y="1208" font-size="33" text-anchor="middle" fill="#111" font-family="'Liberation Sans', sans-serif" >20</text>
<path d="M887.0,1151 V1162" stroke="#161616" stroke-width="2.7" fill="none"/>
<text x="887.0" y="1208" font-size="33" text-anchor="middle" fill="#111" font-family="'Liberation Sans', sans-serif" >25</text>
<path d="M1022.4,1151 V1162" stroke="#161616" stroke-width="2.7" fill="none"/>
<text x="1022.4" y="1208" font-size="33" text-anchor="middle" fill="#111" font-family="'Liberation Sans', sans-serif" >30</text>
<text x="6.7" y="662.2" font-size="51" text-anchor="start" fill="#111" font-family="'Liberation Sans', sans-serif" textLength="65.9" lengthAdjust="spacing" >(b)</text>
<text x="849.8" y="753.6" font-size="36" text-anchor="start" fill="#111" font-family="'Liberation Sans', sans-serif" textLength="158.5" lengthAdjust="spacingAndGlyphs" >0.7 um Si</text>
<text x="510" y="1270.3" font-size="36.5" text-anchor="start" fill="#111" font-family="'Liberation Sans', sans-serif" textLength="238" lengthAdjust="spacingAndGlyphs" >Cycle Number</text>
<text transform="translate(46.9,1142.2) rotate(-90)" font-size="36.5" font-family="'Liberation Sans', sans-serif" fill="#111"><tspan textLength="429.5" lengthAdjust="spacingAndGlyphs">Specific Capacity / mAh g</tspan><tspan font-size="23" dy="-20" dx="-0.5">-1</tspan></text>
<path d="M291.2,723.6 L345.4,731.8 L426.6,776.3 L480.8,807.5 L616.2,846.6 L751.6,874.7 L887.0,898.3 L1022.4,923.1" stroke="#2a2a2a" stroke-width="1.9" fill="none"/>
<circle cx="291.2" cy="723.6" r="7.6" fill="#000"/>
<circle cx="345.4" cy="731.8" r="7.6" fill="#000"/>
<circle cx="426.6" cy="776.3" r="7.6" fill="#000"/>
<circle cx="480.8" cy="807.5" r="7.6" fill="#000"/>
<circle cx="616.2" cy="846.6" r="7.6" fill="#000"/>
<circle cx="751.6" cy="874.7" r="7.6" fill="#000"/>
<circle cx="887.0" cy="898.3" r="7.6" fill="#000"/>
<circle cx="1022.4" cy="923.1" r="7.6" fill="#000"/>
<path d="M291.2,1046.8 L345.4,1049.1 L426.6,1086.6 L480.8,1115.2 L616.2,1126.9 L751.6,1127.7 L887.0,1127.7 L1022.4,1127.7" stroke="#f03838" stroke-width="1.7" fill="none"/>
<circle cx="291.2" cy="1046.8" r="7.6" fill="#ff1010"/>
<circle cx="345.4" cy="1049.1" r="7.6" fill="#ff1010"/>
<circle cx="426.6" cy="1086.6" r="7.6" fill="#ff1010"/>
<circle cx="480.8" cy="1115.2" r="7.6" fill="#ff1010"/>
<circle cx="616.2" cy="1126.9" r="7.6" fill="#ff1010"/>
<circle cx="751.6" cy="1127.7" r="7.6" fill="#ff1010"/>
<circle cx="887.0" cy="1127.7" r="7.6" fill="#ff1010"/>
<circle cx="1022.4" cy="1127.7" r="7.6" fill="#ff1010"/>
<path d="M291.2,1002.7 L345.4,1004.3 L426.6,1008.4 L480.8,1008.4 L616.2,1025.5 L751.6,1044.0 L887.0,1059.8 L1022.4,1076.3" stroke="#fa9a3a" stroke-width="1.7" fill="none"/>
<path d="M291.2,993.1 L299.3,1007.5 L283.1,1007.5Z" fill="#ff8c1a"/>
<path d="M345.4,994.7 L353.5,1009.1 L337.3,1009.1Z" fill="#ff8c1a"/>
<path d="M426.6,998.8 L434.7,1013.2 L418.5,1013.2Z" fill="#ff8c1a"/>
<path d="M480.8,998.8 L488.9,1013.2 L472.7,1013.2Z" fill="#ff8c1a"/>
<path d="M616.2,1015.9 L624.3,1030.3 L608.1,1030.3Z" fill="#ff8c1a"/>
<path d="M751.6,1034.4 L759.7,1048.8 L743.5,1048.8Z" fill="#ff8c1a"/>
<path d="M887.0,1050.2 L895.1,1064.6 L878.9,1064.6Z" fill="#ff8c1a"/>
<path d="M1022.4,1066.7 L1030.5,1081.1 L1014.3,1081.1Z" fill="#ff8c1a"/>
<path d="M291.2,996.1 L345.4,995.4 L426.6,999.2 L480.8,1002.7 L616.2,1005.5 L751.6,1010.7 L887.0,1019.5 L1022.4,1022.5" stroke="#8e8e28" stroke-width="1.7" fill="none"/>
<rect x="284.4" y="989.4" width="13.6" height="13.4" fill="#808000"/>
<rect x="338.6" y="988.7" width="13.6" height="13.4" fill="#808000"/>
<rect x="419.8" y="992.5" width="13.6" height="13.4" fill="#808000"/>
<rect x="474.0" y="996.0" width="13.6" height="13.4" fill="#808000"/>
<rect x="609.4" y="998.8" width="13.6" height="13.4" fill="#808000"/>
<rect x="744.8" y="1004.0" width="13.6" height="13.4" fill="#808000"/>
<rect x="880.2" y="1012.8" width="13.6" height="13.4" fill="#808000"/>
<rect x="1015.6" y="1015.8" width="13.6" height="13.4" fill="#808000"/>
<path d="M291.2,1067.3 L345.4,1067.3 L426.6,1066.1 L480.8,1067.0 L616.2,1072.3 L751.6,1076.4 L887.0,1074.7 L1022.4,1081.1" stroke="#2a9a2a" stroke-width="1.7" fill="none"/>
<path d="M291.2,1058.5 L299.7,1067.3 L291.2,1076.1 L282.7,1067.3Z" fill="#108a10"/>
<path d="M345.4,1058.5 L353.9,1067.3 L345.4,1076.1 L336.9,1067.3Z" fill="#108a10"/>
<path d="M426.6,1057.3 L435.1,1066.1 L426.6,1074.9 L418.1,1066.1Z" fill="#108a10"/>
<path d="M480.8,1058.2 L489.3,1067.0 L480.8,1075.8 L472.3,1067.0Z" fill="#108a10"/>
<path d="M616.2,1063.5 L624.7,1072.3 L616.2,1081.1 L607.7,1072.3Z" fill="#108a10"/>
<path d="M751.6,1067.6 L760.1,1076.4 L751.6,1085.2 L743.1,1076.4Z" fill="#108a10"/>
<path d="M887.0,1065.9 L895.5,1074.7 L887.0,1083.5 L878.5,1074.7Z" fill="#108a10"/>
<path d="M1022.4,1072.3 L1030.9,1081.1 L1022.4,1089.9 L1013.9,1081.1Z" fill="#108a10"/>
<path d="M269.3,848.3 H345.5" stroke="#f03838" stroke-width="1.8"/>
<circle cx="307.4" cy="848.3" r="7.6" fill="#ff1010"/>
<text x="364" y="859.5" font-size="33" text-anchor="start" fill="#111" font-family="'Liberation Sans', sans-serif" >R1</text>
<path d="M269.3,888.6 H345.5" stroke="#fa9a3a" stroke-width="1.8"/>
<path d="M307.4,879.0 L315.5,893.4 L299.3,893.4Z" fill="#ff8c1a"/>
<text x="364" y="898.6" font-size="33" text-anchor="start" fill="#111" font-family="'Liberation Sans', sans-serif" >R2</text>
<path d="M269.3,928.6 H345.5" stroke="#8e8e28" stroke-width="1.8"/>
<rect x="300.6" y="921.9" width="13.6" height="13.4" fill="#808000"/>
<text x="364" y="938.8" font-size="33" text-anchor="start" fill="#111" font-family="'Liberation Sans', sans-serif" >R3</text>
<path d="M451.3,888.4 H526.4" stroke="#2a9a2a" stroke-width="1.8"/>
<path d="M488.9,879.6 L497.4,888.4 L488.9,897.2 L480.4,888.4Z" fill="#108a10"/>
<text x="544" y="898.6" font-size="33" text-anchor="start" fill="#111" font-family="'Liberation Sans', sans-serif" >R4</text>
<path d="M451.3,928.2 H526.4" stroke="#1a1a1a" stroke-width="1.8"/>
<circle cx="488.9" cy="928.2" r="7.6" fill="#000"/>
<text x="544" y="938.8" font-size="33" text-anchor="start" fill="#111" font-family="'Liberation Sans', sans-serif" >R total</text>
</svg></body></html>
